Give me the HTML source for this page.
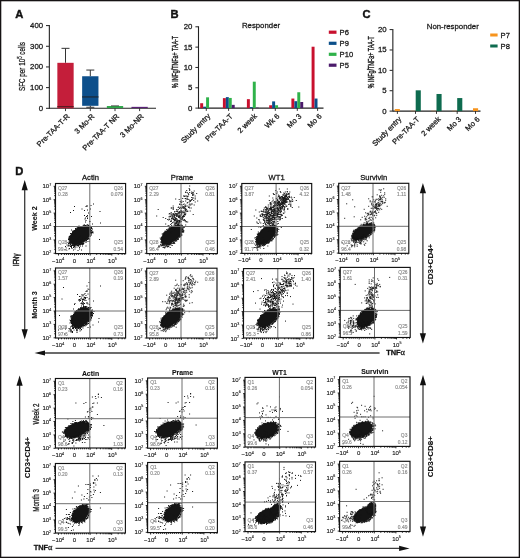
<!DOCTYPE html>
<html><head><meta charset="utf-8"><style>
html,body{margin:0;padding:0;background:#fff;}
svg{display:block;font-family:"Liberation Sans", sans-serif;will-change:transform;}
text{stroke:#1a1a1a;stroke-width:0.28px;}
.q text{stroke:#8a8a8a;stroke-width:0.15px}
text.t{stroke-width:0.12px}
text[font-weight=bold]{stroke-width:0.1px}
</style></head><body>
<svg width="520" height="558" viewBox="0 0 520 558">
<rect x="0" y="0" width="520" height="558" fill="#fff"/>
<text x="15.2" y="18.2" font-size="11.2" text-anchor="start" font-weight="bold" fill="#111" style="stroke-width:0.45px">A</text>
<line x1="49.35" y1="25.1" x2="49.35" y2="108.8" stroke="#222" stroke-width="1.1"/>
<line x1="46" y1="108.3" x2="49" y2="108.3" stroke="#222" stroke-width="1"/>
<text x="43.1" y="110.75" font-size="7.8" text-anchor="end" font-weight="normal" fill="#1a1a1a">0</text>
<line x1="46" y1="87.62" x2="49" y2="87.62" stroke="#222" stroke-width="1"/>
<text x="43.1" y="90.08" font-size="7.8" text-anchor="end" font-weight="normal" fill="#1a1a1a">100</text>
<line x1="46" y1="66.95" x2="49" y2="66.95" stroke="#222" stroke-width="1"/>
<text x="43.1" y="69.4" font-size="7.8" text-anchor="end" font-weight="normal" fill="#1a1a1a">200</text>
<line x1="46" y1="46.28" x2="49" y2="46.28" stroke="#222" stroke-width="1"/>
<text x="43.1" y="48.73" font-size="7.8" text-anchor="end" font-weight="normal" fill="#1a1a1a">300</text>
<line x1="46" y1="25.6" x2="49" y2="25.6" stroke="#222" stroke-width="1"/>
<text x="43.1" y="28.05" font-size="7.8" text-anchor="end" font-weight="normal" fill="#1a1a1a">400</text>
<line x1="49" y1="108.3" x2="156" y2="108.3" stroke="#222" stroke-width="1.1"/>
<line x1="65.5" y1="108.3" x2="65.5" y2="111.1" stroke="#222" stroke-width="0.9"/>
<line x1="90.3" y1="108.3" x2="90.3" y2="111.1" stroke="#222" stroke-width="0.9"/>
<line x1="115" y1="108.3" x2="115" y2="111.1" stroke="#222" stroke-width="0.9"/>
<line x1="139.6" y1="108.3" x2="139.6" y2="111.1" stroke="#222" stroke-width="0.9"/>
<line x1="65.5" y1="48.34" x2="65.5" y2="62.82" stroke="#333" stroke-width="1"/>
<line x1="61.5" y1="48.34" x2="69.5" y2="48.34" stroke="#333" stroke-width="1"/>
<rect x="57.35" y="62.82" width="16.3" height="45.48" fill="#c41e3a"/>
<line x1="57.35" y1="106.65" x2="73.65" y2="106.65" stroke="#5a1a22" stroke-width="1.2"/>
<line x1="90.3" y1="70.05" x2="90.3" y2="76.25" stroke="#333" stroke-width="1"/>
<line x1="86.3" y1="70.05" x2="94.3" y2="70.05" stroke="#333" stroke-width="1"/>
<rect x="82.15" y="76.25" width="16.3" height="29.57" fill="#0d4f8b"/>
<line x1="82.15" y1="96.93" x2="98.45" y2="96.93" stroke="#1c2b3a" stroke-width="1.3"/>
<line x1="90.3" y1="105.82" x2="90.3" y2="107.27" stroke="#333" stroke-width="1"/>
<line x1="86.3" y1="107.27" x2="94.3" y2="107.27" stroke="#333" stroke-width="1"/>
<rect x="106.85" y="106.03" width="16.3" height="2.07" fill="#2fa84a"/>
<line x1="111" y1="105.82" x2="119" y2="105.82" stroke="#333" stroke-width="0.8"/>
<rect x="131.45" y="106.85" width="16.3" height="1.24" fill="#5b2177"/>
<text transform="translate(25.2,90.9) rotate(-90) scale(0.64,1)" font-size="9.8" fill="#1a1a1a">SFC per 10<tspan font-size="7" dy="-3.4">5</tspan><tspan dy="3.4"> cells</tspan></text>
<text x="0" y="0" font-size="7.5" text-anchor="end" font-weight="normal" fill="#1a1a1a" transform="translate(70.1,116.9) rotate(-45)">Pre-TAA-T-R</text>
<text x="0" y="0" font-size="7.5" text-anchor="end" font-weight="normal" fill="#1a1a1a" transform="translate(94.9,116.9) rotate(-45)">3 Mo-R</text>
<text x="0" y="0" font-size="7.5" text-anchor="end" font-weight="normal" fill="#1a1a1a" transform="translate(119.6,116.9) rotate(-45)">Pre-TAA-T NR</text>
<text x="0" y="0" font-size="7.5" text-anchor="end" font-weight="normal" fill="#1a1a1a" transform="translate(144.2,116.9) rotate(-45)">3 Mo-NR</text>
<text x="170.4" y="18.2" font-size="11.2" text-anchor="start" font-weight="bold" fill="#111" style="stroke-width:0.45px">B</text>
<line x1="198.5" y1="26.3" x2="198.5" y2="108.6" stroke="#222" stroke-width="1.1"/>
<line x1="195.4" y1="108.1" x2="198.5" y2="108.1" stroke="#222" stroke-width="1"/>
<text x="192.4" y="110.55" font-size="7.8" text-anchor="end" font-weight="normal" fill="#1a1a1a">0</text>
<line x1="195.4" y1="87.78" x2="198.5" y2="87.78" stroke="#222" stroke-width="1"/>
<text x="192.4" y="90.23" font-size="7.8" text-anchor="end" font-weight="normal" fill="#1a1a1a">5</text>
<line x1="195.4" y1="67.45" x2="198.5" y2="67.45" stroke="#222" stroke-width="1"/>
<text x="192.4" y="69.9" font-size="7.8" text-anchor="end" font-weight="normal" fill="#1a1a1a">10</text>
<line x1="195.4" y1="47.12" x2="198.5" y2="47.12" stroke="#222" stroke-width="1"/>
<text x="192.4" y="49.58" font-size="7.8" text-anchor="end" font-weight="normal" fill="#1a1a1a">15</text>
<line x1="195.4" y1="26.8" x2="198.5" y2="26.8" stroke="#222" stroke-width="1"/>
<text x="192.4" y="29.25" font-size="7.8" text-anchor="end" font-weight="normal" fill="#1a1a1a">20</text>
<line x1="198.5" y1="108.1" x2="323.5" y2="108.1" stroke="#222" stroke-width="1.1"/>
<text x="261" y="28.4" font-size="7.8" text-anchor="middle" font-weight="normal" fill="#1a1a1a">Responder</text>
<rect x="328.8" y="30.6" width="7.7" height="3.2" fill="#c8102e"/>
<text x="339.6" y="34.9" font-size="7.6" text-anchor="start" font-weight="normal" fill="#1a1a1a">P6</text>
<rect x="328.8" y="41.7" width="7.7" height="3.2" fill="#0b4f8a"/>
<text x="339.6" y="46" font-size="7.6" text-anchor="start" font-weight="normal" fill="#1a1a1a">P9</text>
<rect x="328.8" y="52.7" width="7.7" height="3.2" fill="#2fb24a"/>
<text x="339.6" y="57" font-size="7.6" text-anchor="start" font-weight="normal" fill="#1a1a1a">P10</text>
<rect x="328.8" y="63.6" width="7.7" height="3.2" fill="#4b1b6b"/>
<text x="339.6" y="67.9" font-size="7.6" text-anchor="start" font-weight="normal" fill="#1a1a1a">P5</text>
<rect x="200.2" y="103.22" width="2.95" height="4.88" fill="#c8102e"/>
<rect x="203.15" y="106.68" width="2.95" height="1.42" fill="#0b4f8a"/>
<rect x="206.1" y="97.33" width="2.95" height="10.77" fill="#2fb24a"/>
<rect x="222.9" y="98.14" width="2.95" height="9.96" fill="#c8102e"/>
<rect x="225.85" y="97.12" width="2.95" height="10.98" fill="#0b4f8a"/>
<rect x="228.8" y="97.94" width="2.95" height="10.16" fill="#2fb24a"/>
<rect x="231.75" y="104.85" width="2.95" height="3.25" fill="#4b1b6b"/>
<rect x="246.9" y="99.16" width="2.95" height="8.94" fill="#c8102e"/>
<rect x="249.85" y="107.08" width="2.95" height="1.02" fill="#0b4f8a"/>
<rect x="252.8" y="81.68" width="2.95" height="26.42" fill="#2fb24a"/>
<rect x="255.75" y="107.61" width="2.95" height="0.49" fill="#4b1b6b"/>
<rect x="269.2" y="105.25" width="2.95" height="2.85" fill="#c8102e"/>
<rect x="272.15" y="101.39" width="2.95" height="6.71" fill="#0b4f8a"/>
<rect x="275.1" y="105.25" width="2.95" height="2.85" fill="#2fb24a"/>
<rect x="291.4" y="98.55" width="2.95" height="9.55" fill="#c8102e"/>
<rect x="294.35" y="101.19" width="2.95" height="6.91" fill="#0b4f8a"/>
<rect x="297.3" y="92.25" width="2.95" height="15.85" fill="#2fb24a"/>
<rect x="300.25" y="102" width="2.95" height="6.1" fill="#4b1b6b"/>
<rect x="311.6" y="46.72" width="2.95" height="61.38" fill="#c8102e"/>
<rect x="314.55" y="98.55" width="2.95" height="9.55" fill="#0b4f8a"/>
<line x1="206.3" y1="108.1" x2="206.3" y2="110.9" stroke="#222" stroke-width="0.9"/>
<line x1="228.6" y1="108.1" x2="228.6" y2="110.9" stroke="#222" stroke-width="0.9"/>
<line x1="252.7" y1="108.1" x2="252.7" y2="110.9" stroke="#222" stroke-width="0.9"/>
<line x1="275.3" y1="108.1" x2="275.3" y2="110.9" stroke="#222" stroke-width="0.9"/>
<line x1="297.3" y1="108.1" x2="297.3" y2="110.9" stroke="#222" stroke-width="0.9"/>
<line x1="317.6" y1="108.1" x2="317.6" y2="110.9" stroke="#222" stroke-width="0.9"/>
<text transform="translate(178.4,88) rotate(-90)" font-size="9.4" textLength="52" lengthAdjust="spacingAndGlyphs" style="stroke-width:0.4px" fill="#1a1a1a">% INFg/TNFa+ TAA-T</text>
<text x="0" y="0" font-size="7.5" text-anchor="end" font-weight="normal" fill="#1a1a1a" transform="translate(210.9,116.7) rotate(-45)">Study entry</text>
<text x="0" y="0" font-size="7.5" text-anchor="end" font-weight="normal" fill="#1a1a1a" transform="translate(233.2,116.7) rotate(-45)">Pre-TAA-T</text>
<text x="0" y="0" font-size="7.5" text-anchor="end" font-weight="normal" fill="#1a1a1a" transform="translate(257.3,116.7) rotate(-45)">2 week</text>
<text x="0" y="0" font-size="7.5" text-anchor="end" font-weight="normal" fill="#1a1a1a" transform="translate(279.9,116.7) rotate(-45)">Wk 6</text>
<text x="0" y="0" font-size="7.5" text-anchor="end" font-weight="normal" fill="#1a1a1a" transform="translate(301.9,116.7) rotate(-45)">Mo 3</text>
<text x="0" y="0" font-size="7.5" text-anchor="end" font-weight="normal" fill="#1a1a1a" transform="translate(322.2,116.7) rotate(-45)">Mo 6</text>
<text x="362.6" y="18.2" font-size="11.2" text-anchor="start" font-weight="bold" fill="#111" style="stroke-width:0.45px">C</text>
<line x1="392.85" y1="29.1" x2="392.85" y2="111.6" stroke="#222" stroke-width="1.1"/>
<line x1="389.6" y1="111.1" x2="392.7" y2="111.1" stroke="#222" stroke-width="1"/>
<text x="386.7" y="113.55" font-size="7.8" text-anchor="end" font-weight="normal" fill="#1a1a1a">0</text>
<line x1="389.6" y1="90.72" x2="392.7" y2="90.72" stroke="#222" stroke-width="1"/>
<text x="386.7" y="93.17" font-size="7.8" text-anchor="end" font-weight="normal" fill="#1a1a1a">5</text>
<line x1="389.6" y1="70.35" x2="392.7" y2="70.35" stroke="#222" stroke-width="1"/>
<text x="386.7" y="72.8" font-size="7.8" text-anchor="end" font-weight="normal" fill="#1a1a1a">10</text>
<line x1="389.6" y1="49.97" x2="392.7" y2="49.97" stroke="#222" stroke-width="1"/>
<text x="386.7" y="52.42" font-size="7.8" text-anchor="end" font-weight="normal" fill="#1a1a1a">15</text>
<line x1="389.6" y1="29.6" x2="392.7" y2="29.6" stroke="#222" stroke-width="1"/>
<text x="386.7" y="32.05" font-size="7.8" text-anchor="end" font-weight="normal" fill="#1a1a1a">20</text>
<line x1="392.7" y1="111.1" x2="480.5" y2="111.1" stroke="#222" stroke-width="1.1"/>
<text x="452.8" y="28.7" font-size="7.8" text-anchor="middle" font-weight="normal" fill="#1a1a1a">Non-responder</text>
<rect x="490.2" y="33.5" width="7.4" height="3" fill="#f7941d"/>
<text x="500.6" y="37.7" font-size="7.6" text-anchor="start" font-weight="normal" fill="#1a1a1a">P7</text>
<rect x="490.2" y="44.5" width="7.4" height="3" fill="#0e6b4f"/>
<text x="500.6" y="48.7" font-size="7.6" text-anchor="start" font-weight="normal" fill="#1a1a1a">P8</text>
<rect x="394.8" y="109.06" width="5.1" height="2.04" fill="#f7941d"/>
<rect x="410.6" y="110.86" width="5.1" height="0.24" fill="#f7941d"/>
<rect x="415.7" y="90.32" width="5.1" height="20.78" fill="#0e6b4f"/>
<rect x="431.3" y="110.86" width="5.1" height="0.24" fill="#f7941d"/>
<rect x="436.5" y="93.98" width="5.1" height="17.12" fill="#0e6b4f"/>
<rect x="452.1" y="110.86" width="5.1" height="0.24" fill="#f7941d"/>
<rect x="457.2" y="98.06" width="5.1" height="13.04" fill="#0e6b4f"/>
<rect x="473" y="108.25" width="5.1" height="2.85" fill="#f7941d"/>
<line x1="397.4" y1="111.1" x2="397.4" y2="113.9" stroke="#222" stroke-width="0.9"/>
<line x1="415.5" y1="111.1" x2="415.5" y2="113.9" stroke="#222" stroke-width="0.9"/>
<line x1="436.5" y1="111.1" x2="436.5" y2="113.9" stroke="#222" stroke-width="0.9"/>
<line x1="457.2" y1="111.1" x2="457.2" y2="113.9" stroke="#222" stroke-width="0.9"/>
<line x1="475.5" y1="111.1" x2="475.5" y2="113.9" stroke="#222" stroke-width="0.9"/>
<text transform="translate(373.5,88.2) rotate(-90)" font-size="9.4" textLength="52" lengthAdjust="spacingAndGlyphs" style="stroke-width:0.4px" fill="#1a1a1a">% INFg/TNFa+ TAA-T</text>
<text x="0" y="0" font-size="7.5" text-anchor="end" font-weight="normal" fill="#1a1a1a" transform="translate(402,119.7) rotate(-45)">Study entry</text>
<text x="0" y="0" font-size="7.5" text-anchor="end" font-weight="normal" fill="#1a1a1a" transform="translate(420.1,119.7) rotate(-45)">Pre-TAA-T</text>
<text x="0" y="0" font-size="7.5" text-anchor="end" font-weight="normal" fill="#1a1a1a" transform="translate(441.1,119.7) rotate(-45)">2 week</text>
<text x="0" y="0" font-size="7.5" text-anchor="end" font-weight="normal" fill="#1a1a1a" transform="translate(461.8,119.7) rotate(-45)">Mo 3</text>
<text x="0" y="0" font-size="7.5" text-anchor="end" font-weight="normal" fill="#1a1a1a" transform="translate(480.1,119.7) rotate(-45)">Mo 6</text>
<defs><g id="T11"><ellipse cx="24.5" cy="52" rx="12.2" ry="7.7" transform="rotate(-35 24.5 52)" fill="#151515"/><path d="M9 66h1M9.5 63h1M11 61.5h1M12 59h1M12 62.5h1M12.5 56h1M12.5 60h1M12.5 61.5h1M13 53.5h1M13 54.5h1M13 55h1M13 55.5h1M13 57.5h1M13 62h1M13 62.5h1M13 65.5h1M13.5 53h1M13.5 55h1M13.5 55.5h1M13.5 56h1M13.5 56.5h1M13.5 58.5h1M13.5 59h1M13.5 59.5h1M13.5 65h1M14 52.5h1M14 53h1M14 53.5h1M14 54h1M14 55h1M14 56h1M14 57.5h1M14 59h1M14 59.5h1M14 60h1M14 60.5h1M14.5 29h1M14.5 50h1M14.5 52.5h1M14.5 53h1M14.5 56.5h1M14.5 57.5h1M14.5 58.5h1M14.5 59h1M14.5 59.5h1M14.5 60.5h1M14.5 61h1M14.5 61.5h1M14.5 63h1M15 50.5h1M15 61.5h1M15.5 46.5h1M15.5 50.5h1M15.5 59.5h1M15.5 62h1M15.5 63h1M15.5 64h1M16 50h1M16 58h1M16 59.5h1M16 61.5h1M16 62h1M16 65h1M16.5 48.5h1M16.5 49h1M16.5 60.5h1M16.5 61.5h1M16.5 62h1M17 47.5h1M17 48h1M17 48.5h1M17 49h1M17 60h1M17 60.5h1M17.5 27h1M17.5 47.5h1M17.5 48h1M17.5 60.5h1M17.5 61.5h1M17.5 62h1M17.5 64h1M17.5 66.5h1M18 57.5h1M18 59h1M18 60h1M18 60.5h1M18 61.5h1M18 62h1M18 62.5h1M18 63h1M18 64h1M18.5 23h1M18.5 47h1M18.5 57h1M18.5 59.5h1M18.5 61h1M18.5 62h1M18.5 63h1M19 47h1M19 57h1M19 58h1M19 61h1M19 61.5h1M19 65.5h1M19.5 45h1M19.5 46.5h1M19.5 60.5h1M19.5 61h1M19.5 61.5h1M19.5 63.5h1M20 45.5h1M20 46h1M20 56.5h1M20 57.5h1M20 60.5h1M20 61h1M20 61.5h1M20 62h1M20.5 58h1M20.5 59.5h1M20.5 61h1M21 44.5h1M21 45h1M21 45.5h1M21 56h1M21 58.5h1M21 60h1M21 61h1M21 61.5h1M21 63.5h1M21.5 43.5h1M21.5 44.5h1M21.5 45h1M21.5 55.5h1M21.5 58h1M21.5 59h1M21.5 62h1M22 44.5h1M22 59.5h1M22 61h1M22 67h1M22.5 44h1M22.5 44.5h1M22.5 55.5h1M22.5 56.5h1M22.5 61.5h1M22.5 62h1M22.5 62.5h1M23 42.5h1M23 44h1M23 44.5h1M23 53h1M23 54h1M23 57.5h1M23 60.5h1M23 61h1M23 61.5h1M23 62.5h1M23.5 43h1M23.5 43.5h1M23.5 56h1M23.5 57h1M23.5 58h1M23.5 58.5h1M23.5 60.5h1M23.5 61h1M23.5 64h1M23.5 65.5h1M24 43h1M24 58.5h1M24 60.5h1M24 61h1M24.5 43h1M24.5 43.5h1M24.5 52.5h1M24.5 56.5h1M24.5 57.5h1M24.5 58h1M24.5 60.5h1M24.5 61h1M24.5 62.5h1M25 58.5h1M25 59h1M25 60h1M25.5 43.5h1M25.5 60h1M25.5 60.5h1M25.5 66.5h1M26 25.5h1M26 43h1M26 56h1M26 60h1M26 60.5h1M26 61h1M26.5 43h1M26.5 54.5h1M26.5 56.5h1M26.5 59.5h1M26.5 60h1M26.5 60.5h1M26.5 62.5h1M27 42.5h1M27 59.5h1M27 60h1M27 60.5h1M27 61h1M27.5 42.5h1M27.5 59.5h1M27.5 60h1M28 41.5h1M28 42h1M28 59.5h1M28.5 27h1M28.5 32h1M28.5 41.5h1M28.5 43h1M28.5 43.5h1M28.5 44.5h1M29 35.5h1M29 42h1M29 55h1M29 58h1M29.5 34.5h1M29.5 38.5h1M29.5 42h1M29.5 43h1M29.5 51h1M30 23h1M30 37h1M30 42h1M30 42.5h1M30 57h1M30 59h1M30 62.5h1M30.5 33h1M30.5 43h1M30.5 56.5h1M30.5 57h1M31 22h1M31 23h1M31 41.5h1M31 58h1M31.5 26.5h1M31.5 32h1M31.5 33.5h1M31.5 35h1M31.5 41.5h1M31.5 56h1M32 41.5h1M32 43h1M32 43.5h1M32 55h1M32.5 29.5h1M32.5 42h1M32.5 43h1M32.5 44h1M32.5 54.5h1M32.5 55h1M32.5 55.5h1M33 43h1M33 43.5h1M33 44h1M33 44.5h1M33 58h1M33.5 38h1M33.5 43h1M33.5 44.5h1M33.5 55.5h1M34 38h1M34 42.5h1M34 43.5h1M34 44h1M34 44.5h1M34 45h1M34 45.5h1M34 52.5h1M34 53h1M34.5 25.5h1M34.5 46h1M35 22h1M35 44.5h1M35 46.5h1M35 47h1M35 48.5h1M35 49h1M35 50.5h1M35 52h1M35.5 33h1M35.5 44h1M35.5 45h1M35.5 47h1M35.5 48.5h1M35.5 49h1M35.5 49.5h1M35.5 50.5h1M36 47.5h1M36.5 40.5h1M36.5 45.5h1M36.5 48.5h1M36.5 49h1M37 48.5h1M37 49.5h1M37.5 20.5h1M43.5 56h1M44 28h1M44.5 39.5h1" stroke="#151515" stroke-width="1"/></g><g id="T12"><ellipse cx="25" cy="51.5" rx="12.2" ry="6.8" transform="rotate(-38 25 51.5)" fill="#151515"/><path d="M9.5 32.5h1M11 26h1M11.5 62.5h1M11.5 63.5h1M12 63.5h1M12.5 62.5h1M13 54.5h1M13.5 55.5h1M13.5 58.5h1M13.5 61h1M14 55.5h1M14 56h1M14 59.5h1M14 61.5h1M14 62h1M14 62.5h1M14.5 53.5h1M14.5 54h1M14.5 54.5h1M14.5 55h1M14.5 56h1M14.5 57h1M14.5 57.5h1M14.5 58h1M14.5 59h1M15 50.5h1M15 54h1M15 56h1M15 58.5h1M15 59h1M15 59.5h1M15 61.5h1M15.5 51.5h1M15.5 54h1M15.5 58h1M15.5 58.5h1M15.5 59.5h1M15.5 60h1M15.5 60.5h1M15.5 61h1M15.5 61.5h1M15.5 62h1M16 34h1M16 50h1M16 50.5h1M16 51.5h1M16 52h1M16 59.5h1M16 61.5h1M16 63.5h1M16 64h1M16.5 49.5h1M16.5 51h1M16.5 51.5h1M16.5 59.5h1M16.5 60h1M16.5 60.5h1M16.5 61h1M16.5 61.5h1M17 49.5h1M17 50.5h1M17 60h1M17 61.5h1M17 62h1M17 64h1M17.5 48.5h1M17.5 49h1M17.5 59h1M17.5 60h1M17.5 61h1M17.5 63.5h1M17.5 64.5h1M18 47.5h1M18 48.5h1M18 57.5h1M18 60h1M18 60.5h1M18.5 35h1M18.5 40.5h1M18.5 48h1M18.5 61h1M18.5 62.5h1M18.5 63.5h1M19 48h1M19 57.5h1M19 59h1M19 62h1M19 62.5h1M19.5 46h1M19.5 60.5h1M19.5 61h1M19.5 61.5h1M20 47h1M20 58h1M20 60h1M20 60.5h1M20 61.5h1M20 63h1M20.5 36h1M20.5 46.5h1M20.5 61h1M20.5 62.5h1M20.5 63.5h1M21 42h1M21 45.5h1M21 60.5h1M21 61h1M21 62.5h1M21 63h1M21.5 36.5h1M21.5 60h1M21.5 60.5h1M21.5 61h1M21.5 61.5h1M21.5 63h1M22 30.5h1M22 33h1M22 34.5h1M22 42.5h1M22 44.5h1M22 45h1M22 60.5h1M22.5 30h1M22.5 36h1M22.5 44.5h1M22.5 60h1M22.5 60.5h1M22.5 61h1M22.5 61.5h1M23 32.5h1M23 44h1M23 44.5h1M23 45h1M23 60h1M23 61h1M23 64h1M23.5 30.5h1M23.5 33h1M23.5 38h1M23.5 41h1M23.5 49.5h1M23.5 50h1M23.5 59h1M23.5 59.5h1M23.5 60h1M24 24.5h1M24 29h1M24 33.5h1M24 37h1M24 38h1M24 44.5h1M24 45h1M24 48.5h1M24 49h1M24 57.5h1M24 60h1M24 61.5h1M24.5 24.5h1M24.5 30.5h1M24.5 31.5h1M24.5 35h1M24.5 35.5h1M24.5 40h1M24.5 42h1M24.5 43h1M24.5 43.5h1M24.5 44h1M24.5 48h1M24.5 56h1M24.5 59.5h1M25 32h1M25 35h1M25 43h1M25 43.5h1M25 44h1M25 62h1M25.5 33h1M25.5 34h1M25.5 39h1M25.5 43.5h1M25.5 60h1M26 22.5h1M26 24h1M26 25h1M26 26h1M26 30h1M26 30.5h1M26 31h1M26 31.5h1M26 35h1M26 36h1M26 43.5h1M26 59h1M26.5 32.5h1M26.5 34.5h1M26.5 36h1M26.5 38.5h1M26.5 42.5h1M26.5 43h1M26.5 43.5h1M26.5 58.5h1M26.5 59.5h1M26.5 60h1M27 31h1M27 33h1M27 36h1M27 36.5h1M27 40.5h1M27 43h1M27 58.5h1M27 59h1M27.5 28h1M27.5 29.5h1M27.5 31.5h1M27.5 32h1M27.5 32.5h1M27.5 34h1M27.5 36.5h1M27.5 37h1M27.5 37.5h1M27.5 39.5h1M27.5 41.5h1M27.5 42.5h1M27.5 46.5h1M27.5 60h1M28 31.5h1M28 34.5h1M28 35h1M28 36h1M28 37h1M28 39.5h1M28 41h1M28 58h1M28.5 15.5h1M28.5 30h1M28.5 34.5h1M28.5 35.5h1M28.5 36.5h1M28.5 40h1M28.5 42h1M28.5 42.5h1M28.5 43h1M28.5 57h1M29 28h1M29 30h1M29 31h1M29 31.5h1M29 35.5h1M29 38h1M29 39h1M29 39.5h1M29 40h1M29 42h1M29 42.5h1M29 57h1M29.5 26h1M29.5 27.5h1M29.5 32h1M29.5 33h1M29.5 35h1M29.5 36.5h1M29.5 37.5h1M29.5 39h1M29.5 40.5h1M29.5 56.5h1M29.5 57.5h1M30 30h1M30 31h1M30 31.5h1M30 32.5h1M30 36.5h1M30 37.5h1M30 38h1M30 41.5h1M30 42h1M30 55.5h1M30 56h1M30.5 27.5h1M30.5 28h1M30.5 32.5h1M30.5 36.5h1M30.5 38h1M30.5 38.5h1M30.5 39.5h1M30.5 41h1M30.5 42h1M30.5 42.5h1M30.5 43.5h1M30.5 55.5h1M31 24h1M31 26h1M31 29h1M31 30h1M31 37h1M31 39h1M31 40h1M31 40.5h1M31 41.5h1M31 55h1M31 55.5h1M31 56h1M31.5 23.5h1M31.5 31.5h1M31.5 32.5h1M31.5 33h1M31.5 34h1M31.5 37.5h1M31.5 41h1M31.5 41.5h1M31.5 42h1M31.5 42.5h1M32 16h1M32 28.5h1M32 29h1M32 30h1M32 32.5h1M32 33.5h1M32 34h1M32 37h1M32 38h1M32 39.5h1M32 41.5h1M32 42h1M32 42.5h1M32 46h1M32 54h1M32.5 20.5h1M32.5 21h1M32.5 24.5h1M32.5 25h1M32.5 28h1M32.5 29h1M32.5 31.5h1M32.5 32.5h1M32.5 33.5h1M32.5 37h1M32.5 37.5h1M32.5 38h1M32.5 38.5h1M32.5 39.5h1M32.5 53h1M33 18h1M33 32.5h1M33 33h1M33 35h1M33 35.5h1M33 38.5h1M33 42.5h1M33 43h1M33 53h1M33 53.5h1M33.5 18.5h1M33.5 24h1M33.5 27.5h1M33.5 28.5h1M33.5 29h1M33.5 31.5h1M33.5 34.5h1M33.5 36.5h1M33.5 41.5h1M33.5 42.5h1M33.5 51.5h1M33.5 52h1M33.5 53h1M34 21h1M34 27h1M34 28.5h1M34 34h1M34 34.5h1M34 38h1M34 43h1M34 44h1M34 50.5h1M34.5 17.5h1M34.5 19h1M34.5 25h1M34.5 28h1M34.5 28.5h1M34.5 29h1M34.5 30h1M34.5 30.5h1M34.5 31.5h1M34.5 36h1M34.5 41.5h1M34.5 42h1M34.5 42.5h1M34.5 43h1M34.5 45.5h1M34.5 49.5h1M34.5 51h1M34.5 51.5h1M34.5 52h1M35 22.5h1M35 24h1M35 35h1M35 35.5h1M35 42h1M35 43.5h1M35 45.5h1M35 46h1M35 46.5h1M35 47h1M35 48h1M35 48.5h1M35.5 15h1M35.5 28.5h1M35.5 33h1M35.5 34h1M35.5 35.5h1M35.5 43h1M35.5 44.5h1M35.5 45.5h1M35.5 46h1M35.5 48h1M35.5 48.5h1M36 18h1M36 21h1M36 23h1M36 23.5h1M36 24.5h1M36 27.5h1M36 29h1M36 32.5h1M36 33h1M36 33.5h1M36 37h1M36 44h1M36 45.5h1M36 48h1M36 48.5h1M36.5 12.5h1M36.5 24.5h1M36.5 32h1M36.5 33h1M36.5 47h1M36.5 47.5h1M36.5 48.5h1M37 12.5h1M37 20.5h1M37 23.5h1M37 24h1M37 25h1M37 28.5h1M37 29h1M37 30h1M37 31h1M37 32.5h1M37 33h1M37 36h1M37 36.5h1M37 44h1M37.5 13h1M37.5 22.5h1M37.5 31h1M37.5 36.5h1M38 15h1M38 24.5h1M38 26h1M38 26.5h1M38 27.5h1M38 31h1M38 31.5h1M38 37h1M38 37.5h1M38.5 8.5h1M38.5 9h1M38.5 12.5h1M38.5 15h1M38.5 17.5h1M38.5 21.5h1M38.5 22.5h1M38.5 23h1M38.5 25h1M38.5 27h1M38.5 29.5h1M38.5 30.5h1M38.5 41.5h1M39 15.5h1M39 26h1M39 28h1M39 38h1M39 38.5h1M39.5 7h1M39.5 12.5h1M39.5 26.5h1M40 9h1M40 13.5h1M40 15.5h1M40 19.5h1M40 22.5h1M40.5 13h1M40.5 15.5h1M40.5 19h1M40.5 27.5h1M40.5 28h1M40.5 38.5h1M41 10h1M41 12.5h1M41 16h1M41.5 11h1M41.5 23.5h1M41.5 24h1M42 5h1M42 18.5h1M42 21.5h1M42 23.5h1M42.5 2.5h1M42.5 6h1M42.5 7h1M42.5 9h1M42.5 16.5h1M42.5 20.5h1M42.5 24.5h1M43 17h1M43 17.5h1M43 18h1M43 27.5h1M43.5 21.5h1M44 17h1M44 20.5h1M44 24.5h1M44.5 8.5h1M44.5 10h1M44.5 14h1M44.5 16h1M45 9.5h1M45 16h1M45 20.5h1M45.5 9.5h1M45.5 11h1M45.5 12h1M45.5 14.5h1M46 9h1M46 14.5h1M46 31h1M46.5 10.5h1M46.5 11.5h1M46.5 17h1M47 7.5h1M47 21.5h1M48 12.5h1M48 14.5h1M48 15.5h1M48 18.5h1M49.5 10h1M50.5 17.5h1" stroke="#151515" stroke-width="1"/></g><g id="T13"><ellipse cx="24.5" cy="51.5" rx="12.2" ry="6.8" transform="rotate(-42 24.5 51.5)" fill="#151515"/><path d="M9 46h1M12 32.5h1M12 64h1M12.5 54.5h1M12.5 60.5h1M13.5 26.5h1M13.5 54h1M13.5 56h1M13.5 58h1M13.5 58.5h1M13.5 62h1M13.5 64h1M14 55h1M14 56.5h1M14 57.5h1M14 58.5h1M14 61h1M14.5 34.5h1M14.5 38.5h1M14.5 53h1M14.5 54.5h1M14.5 55.5h1M14.5 56h1M14.5 56.5h1M14.5 57h1M14.5 58.5h1M14.5 59h1M14.5 60h1M14.5 60.5h1M14.5 63.5h1M14.5 64.5h1M15 39.5h1M15 50.5h1M15 53h1M15 53.5h1M15 54h1M15 54.5h1M15 55.5h1M15 58.5h1M15 59h1M15 59.5h1M15 60.5h1M15 62h1M15 64.5h1M15 66.5h1M15.5 51h1M15.5 51.5h1M15.5 53h1M15.5 58.5h1M15.5 59.5h1M15.5 60.5h1M15.5 61h1M15.5 61.5h1M15.5 63h1M15.5 64h1M15.5 66.5h1M16 40h1M16 48.5h1M16 50.5h1M16 51h1M16 51.5h1M16 59.5h1M16 60h1M16 60.5h1M16 63.5h1M16.5 36h1M16.5 43.5h1M16.5 49.5h1M16.5 50h1M16.5 50.5h1M16.5 61h1M16.5 61.5h1M16.5 63.5h1M17 28.5h1M17 36.5h1M17 58.5h1M17 60h1M17 60.5h1M17 61h1M17 61.5h1M17 62.5h1M17 63h1M17 63.5h1M17.5 38.5h1M17.5 50h1M17.5 57.5h1M17.5 59.5h1M17.5 61h1M17.5 61.5h1M17.5 62h1M18 31.5h1M18 32h1M18 33h1M18 43h1M18 49h1M18 62h1M18 64.5h1M18.5 39.5h1M18.5 44h1M18.5 47.5h1M18.5 48.5h1M18.5 61h1M18.5 63h1M19 27.5h1M19 28h1M19 46.5h1M19 48h1M19 58h1M19.5 30.5h1M19.5 33h1M19.5 47h1M19.5 59.5h1M19.5 60.5h1M19.5 61.5h1M20 30.5h1M20 31h1M20 31.5h1M20 46h1M20 60.5h1M20 62h1M20.5 28h1M20.5 30.5h1M20.5 32h1M20.5 32.5h1M20.5 46h1M20.5 57h1M20.5 60.5h1M20.5 62h1M21 27.5h1M21 28.5h1M21 31h1M21 34h1M21 36h1M21 40h1M21 42h1M21 45.5h1M21 54h1M21 58.5h1M21 59h1M21 61h1M21 61.5h1M21 62.5h1M21.5 26h1M21.5 27.5h1M21.5 35.5h1M21.5 37h1M21.5 44.5h1M21.5 45h1M21.5 45.5h1M21.5 56h1M21.5 57.5h1M21.5 58.5h1M21.5 60h1M21.5 60.5h1M21.5 61h1M21.5 65h1M22 24.5h1M22 28.5h1M22 32.5h1M22 36.5h1M22 44h1M22 45.5h1M22 56.5h1M22 60h1M22 61h1M22 62h1M22.5 31h1M22.5 31.5h1M22.5 32.5h1M22.5 33.5h1M22.5 35h1M22.5 37h1M22.5 38h1M22.5 38.5h1M22.5 39h1M22.5 43h1M22.5 61.5h1M23 24h1M23 26.5h1M23 29h1M23 31h1M23 40h1M23 40.5h1M23 44h1M23 44.5h1M23 59.5h1M23 60.5h1M23 61h1M23.5 23h1M23.5 26h1M23.5 28h1M23.5 29.5h1M23.5 33h1M23.5 33.5h1M23.5 34.5h1M23.5 41h1M23.5 41.5h1M23.5 58.5h1M23.5 60.5h1M24 24h1M24 24.5h1M24 26.5h1M24 27.5h1M24 31.5h1M24 32.5h1M24 34h1M24 35h1M24 35.5h1M24 36.5h1M24 43h1M24 43.5h1M24 59.5h1M24 60h1M24.5 25h1M24.5 26h1M24.5 27.5h1M24.5 29h1M24.5 29.5h1M24.5 30.5h1M24.5 31h1M24.5 31.5h1M24.5 32h1M24.5 33h1M24.5 37h1M24.5 37.5h1M24.5 38.5h1M24.5 39h1M24.5 41.5h1M24.5 43h1M24.5 43.5h1M24.5 46h1M24.5 59h1M24.5 60h1M25 24.5h1M25 25h1M25 30h1M25 31h1M25 34h1M25 37h1M25 39.5h1M25 42.5h1M25 43h1M25 43.5h1M25 57h1M25 59.5h1M25.5 26h1M25.5 28h1M25.5 29h1M25.5 30h1M25.5 32h1M25.5 35h1M25.5 36.5h1M25.5 37.5h1M25.5 40h1M25.5 43h1M25.5 58.5h1M25.5 59h1M25.5 59.5h1M25.5 62.5h1M26 21.5h1M26 23.5h1M26 27h1M26 27.5h1M26 28.5h1M26 30h1M26 30.5h1M26 32.5h1M26 33.5h1M26 34.5h1M26 35h1M26 36h1M26 37h1M26 39h1M26 39.5h1M26 43h1M26 48h1M26 58.5h1M26 59.5h1M26.5 25.5h1M26.5 27.5h1M26.5 29.5h1M26.5 30h1M26.5 33h1M26.5 36.5h1M26.5 38h1M26.5 40h1M26.5 41.5h1M26.5 43h1M26.5 45.5h1M26.5 58.5h1M26.5 59h1M26.5 59.5h1M27 12.5h1M27 17h1M27 25h1M27 25.5h1M27 26.5h1M27 29h1M27 29.5h1M27 31.5h1M27 33h1M27 34h1M27 35h1M27 36h1M27 36.5h1M27 37h1M27 37.5h1M27 38h1M27 39.5h1M27 40h1M27 41h1M27 47.5h1M27 58h1M27 58.5h1M27.5 29h1M27.5 31h1M27.5 33h1M27.5 33.5h1M27.5 39h1M27.5 42.5h1M27.5 44.5h1M27.5 57.5h1M28 19h1M28 19.5h1M28 20h1M28 21h1M28 22.5h1M28 24.5h1M28 25h1M28 25.5h1M28 26.5h1M28 31h1M28 31.5h1M28 32h1M28 32.5h1M28 36h1M28 42h1M28 57h1M28 57.5h1M28.5 23.5h1M28.5 24h1M28.5 24.5h1M28.5 25h1M28.5 26h1M28.5 31.5h1M28.5 34.5h1M28.5 35h1M28.5 35.5h1M28.5 37h1M28.5 38h1M28.5 39.5h1M28.5 40h1M28.5 42h1M28.5 44h1M29 20.5h1M29 22.5h1M29 25h1M29 25.5h1M29 26h1M29 26.5h1M29 28h1M29 28.5h1M29 29h1M29 29.5h1M29 30h1M29 30.5h1M29 35h1M29 36.5h1M29 37h1M29 39h1M29 40.5h1M29 47.5h1M29 56.5h1M29.5 18.5h1M29.5 20.5h1M29.5 24h1M29.5 25.5h1M29.5 26h1M29.5 27h1M29.5 28h1M29.5 28.5h1M29.5 30h1M29.5 32h1M29.5 32.5h1M29.5 33.5h1M29.5 36.5h1M29.5 39h1M29.5 56.5h1M29.5 57h1M29.5 57.5h1M30 24h1M30 28h1M30 32h1M30 32.5h1M30 33.5h1M30 34.5h1M30 35.5h1M30 36h1M30 40h1M30 42h1M30 56h1M30.5 14.5h1M30.5 17.5h1M30.5 23.5h1M30.5 26.5h1M30.5 27h1M30.5 30h1M30.5 33.5h1M30.5 34h1M30.5 35.5h1M30.5 37.5h1M30.5 38h1M30.5 41h1M30.5 41.5h1M30.5 55h1M31 10h1M31 16.5h1M31 22.5h1M31 23.5h1M31 25.5h1M31 26h1M31 28h1M31 29h1M31 30.5h1M31 31h1M31 32h1M31 32.5h1M31 34h1M31 36h1M31 39h1M31 40h1M31 41h1M31 41.5h1M31 47.5h1M31 55h1M31 55.5h1M31.5 11h1M31.5 19.5h1M31.5 22h1M31.5 23.5h1M31.5 24h1M31.5 26.5h1M31.5 27.5h1M31.5 28h1M31.5 30.5h1M31.5 31h1M31.5 32h1M31.5 33h1M31.5 34h1M31.5 38h1M31.5 42.5h1M32 11h1M32 18.5h1M32 19.5h1M32 23h1M32 25h1M32 26h1M32 27h1M32 29h1M32 31.5h1M32 32h1M32 34h1M32 34.5h1M32 35h1M32 35.5h1M32 37.5h1M32 38h1M32 42h1M32 53.5h1M32 54h1M32.5 18h1M32.5 21h1M32.5 22h1M32.5 26h1M32.5 27h1M32.5 28h1M32.5 30h1M32.5 30.5h1M32.5 32.5h1M32.5 34.5h1M32.5 36h1M32.5 39h1M32.5 40.5h1M32.5 42h1M32.5 42.5h1M32.5 52h1M32.5 52.5h1M32.5 53h1M33 19h1M33 19.5h1M33 20h1M33 21.5h1M33 22.5h1M33 24.5h1M33 26.5h1M33 27h1M33 28h1M33 29.5h1M33 30h1M33 30.5h1M33 32h1M33 34h1M33 35.5h1M33 43h1M33 43.5h1M33 51.5h1M33 52h1M33 52.5h1M33.5 7h1M33.5 18h1M33.5 19h1M33.5 22h1M33.5 25h1M33.5 26.5h1M33.5 28.5h1M33.5 29h1M33.5 29.5h1M33.5 30h1M33.5 30.5h1M33.5 31.5h1M33.5 32h1M33.5 42h1M33.5 44h1M33.5 50.5h1M33.5 51h1M33.5 51.5h1M34 15h1M34 21h1M34 22.5h1M34 25h1M34 27.5h1M34 28h1M34 28.5h1M34 30h1M34 32h1M34 34h1M34 43h1M34 45h1M34 45.5h1M34 48.5h1M34 49h1M34 49.5h1M34 50h1M34 51h1M34 51.5h1M34.5 10h1M34.5 18.5h1M34.5 20h1M34.5 21h1M34.5 21.5h1M34.5 24.5h1M34.5 25h1M34.5 27.5h1M34.5 30h1M34.5 31h1M34.5 31.5h1M34.5 33.5h1M34.5 36h1M34.5 45.5h1M34.5 46h1M34.5 46.5h1M34.5 47h1M34.5 48.5h1M34.5 49h1M34.5 50.5h1M34.5 51.5h1M34.5 52h1M35 8.5h1M35 16h1M35 17h1M35 17.5h1M35 19h1M35 20h1M35 22h1M35 22.5h1M35 24h1M35 24.5h1M35 25h1M35 26.5h1M35 28.5h1M35 30h1M35 30.5h1M35 31h1M35 32h1M35 33h1M35 40.5h1M35 45h1M35 45.5h1M35 46.5h1M35 47h1M35 47.5h1M35 49.5h1M35.5 14.5h1M35.5 16.5h1M35.5 19.5h1M35.5 21.5h1M35.5 22h1M35.5 25.5h1M35.5 26.5h1M35.5 28h1M35.5 28.5h1M35.5 30h1M35.5 31h1M35.5 31.5h1M35.5 33.5h1M35.5 35.5h1M35.5 38h1M35.5 43.5h1M35.5 45.5h1M35.5 48h1M35.5 51h1M36 11.5h1M36 13h1M36 17.5h1M36 18.5h1M36 19h1M36 20h1M36 21h1M36 23.5h1M36 25h1M36 26h1M36 26.5h1M36 27h1M36 28.5h1M36 33.5h1M36 40h1M36.5 12.5h1M36.5 18h1M36.5 18.5h1M36.5 19.5h1M36.5 21h1M36.5 21.5h1M36.5 26h1M36.5 29h1M36.5 29.5h1M36.5 30.5h1M36.5 31h1M36.5 33h1M36.5 35.5h1M36.5 46h1M37 5.5h1M37 12.5h1M37 13.5h1M37 15.5h1M37 18h1M37 18.5h1M37 19h1M37 19.5h1M37 20.5h1M37 21.5h1M37 22.5h1M37 23.5h1M37 24.5h1M37 27h1M37 31h1M37 34h1M37 35.5h1M37.5 13.5h1M37.5 14h1M37.5 14.5h1M37.5 15h1M37.5 19.5h1M37.5 21h1M37.5 22h1M37.5 22.5h1M37.5 24.5h1M37.5 28h1M37.5 33h1M37.5 36.5h1M38 8h1M38 14.5h1M38 15.5h1M38 17h1M38 20.5h1M38 22h1M38 24h1M38 24.5h1M38 25h1M38 25.5h1M38 26h1M38 26.5h1M38 27.5h1M38 29h1M38 31h1M38 34h1M38 36h1M38.5 9h1M38.5 14h1M38.5 15.5h1M38.5 19.5h1M38.5 20h1M38.5 20.5h1M38.5 21h1M38.5 22.5h1M38.5 23.5h1M38.5 24h1M38.5 25.5h1M38.5 28.5h1M38.5 30.5h1M38.5 33h1M38.5 35h1M39 13h1M39 13.5h1M39 16h1M39 17.5h1M39 18.5h1M39 21h1M39 25h1M39 26.5h1M39 27.5h1M39 28h1M39 31.5h1M39 32h1M39 44h1M39.5 15h1M39.5 17.5h1M39.5 18.5h1M39.5 19h1M39.5 20h1M39.5 21h1M39.5 23h1M39.5 23.5h1M39.5 31h1M40 13h1M40 13.5h1M40 14h1M40 16.5h1M40 17.5h1M40 19h1M40 19.5h1M40 20h1M40 20.5h1M40 21.5h1M40 23.5h1M40 24h1M40 24.5h1M40 25.5h1M40 32h1M40 35h1M40.5 11.5h1M40.5 14h1M40.5 15h1M40.5 15.5h1M40.5 16.5h1M40.5 17.5h1M40.5 19h1M40.5 19.5h1M40.5 20.5h1M40.5 22h1M40.5 23h1M40.5 24.5h1M41 11.5h1M41 14h1M41 15h1M41 15.5h1M41 16h1M41 16.5h1M41 18h1M41 18.5h1M41 19h1M41 19.5h1M41 20.5h1M41 22h1M41 22.5h1M41 23h1M41 29.5h1M41.5 9.5h1M41.5 11.5h1M41.5 14h1M41.5 15.5h1M41.5 16.5h1M41.5 17h1M41.5 17.5h1M41.5 20h1M41.5 20.5h1M41.5 26.5h1M41.5 30h1M42 10.5h1M42 12.5h1M42 14h1M42 14.5h1M42 15h1M42 15.5h1M42 17.5h1M42 18h1M42 18.5h1M42 19.5h1M42 23.5h1M42 25h1M42 26h1M42 26.5h1M42.5 10h1M42.5 13h1M42.5 13.5h1M42.5 15h1M42.5 16h1M42.5 17h1M42.5 17.5h1M42.5 18h1M42.5 18.5h1M42.5 19.5h1M42.5 20h1M42.5 21h1M42.5 23h1M42.5 24h1M42.5 28.5h1M43 8.5h1M43 11.5h1M43 12h1M43 12.5h1M43 14h1M43 15h1M43 15.5h1M43 17h1M43 18h1M43 19h1M43 33.5h1M43.5 13h1M43.5 15.5h1M43.5 16h1M43.5 16.5h1M43.5 17.5h1M43.5 19h1M43.5 21.5h1M43.5 34h1M44 11h1M44 11.5h1M44 12h1M44 12.5h1M44 13h1M44 13.5h1M44 15h1M44 16h1M44 17.5h1M44 19h1M44 23h1M44.5 10h1M44.5 12.5h1M44.5 13h1M44.5 15.5h1M44.5 16h1M44.5 16.5h1M44.5 18h1M44.5 22.5h1M45 5.5h1M45 8h1M45 8.5h1M45 14h1M45 15.5h1M45 18.5h1M45.5 11h1M45.5 14h1M45.5 14.5h1M45.5 16h1M45.5 25h1M45.5 26h1M46 10.5h1M46 15h1M46 15.5h1M46.5 10h1M46.5 10.5h1M46.5 13h1M46.5 16h1M46.5 21h1M47 10.5h1M47 12.5h1M47 13h1M47 14h1M47 18.5h1M47 20.5h1M47.5 8.5h1M47.5 14h1M47.5 17h1M47.5 17.5h1M48 18h1M48.5 19.5h1M48.5 21h1M48.5 22h1M48.5 23h1M49 13.5h1M49 17.5h1M49.5 14.5h1M50 16h1M50 18h1M50 24h1M50.5 17.5h1M52 14h1M54 17h1M56.5 23.5h1" stroke="#151515" stroke-width="1"/></g><g id="T14"><ellipse cx="24.2" cy="48.6" rx="12.1" ry="5.9" transform="rotate(-32 24.2 48.6)" fill="#151515"/><path d="M3 59.5h1M5.5 35h1M7.5 20.5h1M8 62.5h1M10 60h1M12 55.5h1M12 61.5h1M12.5 52h1M12.5 53.5h1M12.5 56.5h1M12.5 57.5h1M12.5 62.5h1M12.5 63.5h1M13 52.5h1M13 53.5h1M13 54h1M13 55h1M13.5 16.5h1M13.5 50h1M13.5 51.5h1M13.5 52.5h1M13.5 54.5h1M13.5 55h1M13.5 57.5h1M13.5 62h1M13.5 62.5h1M14 48.5h1M14 50h1M14 50.5h1M14 51h1M14 53.5h1M14 54h1M14 54.5h1M14 55h1M14 56h1M14 56.5h1M14.5 47h1M14.5 48h1M14.5 48.5h1M14.5 55h1M14.5 56.5h1M14.5 57.5h1M14.5 58h1M14.5 59h1M15 33.5h1M15 48h1M15 48.5h1M15 49h1M15 50h1M15 55h1M15 57h1M15 58h1M15.5 23.5h1M15.5 47.5h1M15.5 49h1M15.5 49.5h1M15.5 55.5h1M15.5 56h1M15.5 56.5h1M15.5 60.5h1M15.5 61.5h1M15.5 62h1M15.5 63.5h1M16 46.5h1M16 47h1M16 56h1M16 57h1M16 59h1M16 59.5h1M16.5 46.5h1M16.5 47h1M16.5 55h1M16.5 55.5h1M16.5 56h1M16.5 56.5h1M16.5 57.5h1M16.5 59h1M17 46h1M17 47h1M17 56.5h1M17 57h1M17 57.5h1M17 58h1M17 58.5h1M17 59.5h1M17.5 46.5h1M17.5 53.5h1M17.5 56.5h1M18 45.5h1M18 46h1M18 55h1M18 55.5h1M18 59h1M18 61.5h1M18 63h1M18.5 45h1M19 44.5h1M19 55.5h1M19 56h1M19 56.5h1M19 57h1M19 59h1M19.5 44.5h1M19.5 57h1M20 44h1M20 44.5h1M20 57.5h1M20 58.5h1M20.5 43.5h1M20.5 44h1M20.5 56.5h1M20.5 60h1M21 42.5h1M21 43.5h1M21 56.5h1M21 58.5h1M21 59h1M21 59.5h1M21.5 36.5h1M21.5 43h1M21.5 54h1M21.5 55h1M21.5 56.5h1M21.5 57h1M21.5 59.5h1M21.5 60.5h1M22 41h1M22 42.5h1M22 43h1M22 56h1M22 57.5h1M22 60.5h1M22.5 43h1M22.5 54h1M22.5 56h1M22.5 57.5h1M22.5 58.5h1M23 34h1M23 54h1M23 55.5h1M23 56h1M23 57h1M23.5 52h1M23.5 54h1M23.5 55.5h1M24 41h1M24 41.5h1M24 42h1M24 42.5h1M24 55.5h1M24.5 41h1M24.5 41.5h1M24.5 42h1M24.5 55h1M24.5 56h1M24.5 58.5h1M25 26h1M25 39.5h1M25 41.5h1M25 51.5h1M25 54.5h1M25 56.5h1M25 61h1M25.5 33h1M25.5 55.5h1M25.5 62h1M26 35h1M26 36.5h1M26 41h1M26 54.5h1M26.5 29.5h1M26.5 35h1M26.5 36.5h1M26.5 53.5h1M26.5 54h1M26.5 54.5h1M26.5 56h1M26.5 60h1M27 39h1M27 40h1M27 53.5h1M27 54h1M27 55h1M27 56.5h1M27.5 33.5h1M27.5 36h1M27.5 38h1M27.5 40.5h1M27.5 41h1M27.5 41.5h1M27.5 42.5h1M27.5 53.5h1M27.5 54h1M27.5 54.5h1M28 30.5h1M28 40h1M28 40.5h1M28 41h1M28 53.5h1M28 57.5h1M28.5 30h1M28.5 32h1M28.5 39h1M28.5 40h1M28.5 40.5h1M28.5 41h1M28.5 52.5h1M28.5 53h1M29 38h1M29 52.5h1M29.5 15.5h1M29.5 23h1M29.5 30h1M29.5 31h1M29.5 31.5h1M29.5 35h1M29.5 41h1M29.5 52h1M29.5 53h1M30 37.5h1M30 52.5h1M30 54.5h1M30.5 34h1M30.5 35.5h1M30.5 40h1M30.5 40.5h1M30.5 41h1M30.5 52.5h1M31 17.5h1M31 18.5h1M31 28h1M31 29h1M31 31.5h1M31 40.5h1M31 51h1M31 51.5h1M31.5 28h1M31.5 31h1M31.5 36.5h1M31.5 40h1M31.5 40.5h1M31.5 50h1M31.5 50.5h1M31.5 51.5h1M32 25h1M32 31h1M32 34h1M32 37h1M32 39.5h1M32 40.5h1M32 49.5h1M32 51h1M32.5 20h1M32.5 21h1M32.5 29.5h1M32.5 30h1M32.5 39.5h1M32.5 40.5h1M32.5 41h1M32.5 49h1M32.5 49.5h1M33 13.5h1M33 18.5h1M33 22h1M33 25h1M33 28h1M33 31h1M33 48.5h1M33 50h1M33.5 13.5h1M33.5 29h1M33.5 30.5h1M33.5 32h1M33.5 35h1M33.5 41h1M33.5 42h1M33.5 47h1M33.5 47.5h1M33.5 48h1M33.5 48.5h1M34 23.5h1M34 29.5h1M34 36h1M34 40.5h1M34 41.5h1M34 42h1M34 47h1M34.5 16.5h1M34.5 21.5h1M34.5 23h1M34.5 25.5h1M34.5 39.5h1M34.5 41.5h1M34.5 43h1M34.5 44.5h1M34.5 47h1M35 18.5h1M35 29h1M35 32.5h1M35 41h1M35 41.5h1M35 42.5h1M35 43h1M35 43.5h1M35 44.5h1M35 45h1M35 46h1M35 46.5h1M35 47h1M35 48.5h1M35.5 24h1M35.5 28.5h1M35.5 32h1M35.5 42h1M35.5 42.5h1M35.5 43h1M35.5 43.5h1M35.5 44h1M35.5 46h1M35.5 47h1M36 18h1M36 19.5h1M36 22.5h1M36 23h1M36 24h1M36 24.5h1M36 25h1M36 28h1M36 28.5h1M36 44.5h1M36.5 17h1M36.5 21h1M36.5 21.5h1M36.5 27.5h1M36.5 29.5h1M36.5 34.5h1M37 16h1M37 21h1M37 22.5h1M37 23.5h1M37 24h1M37 25h1M37 30h1M37.5 20.5h1M37.5 21h1M37.5 22h1M37.5 24h1M37.5 25.5h1M37.5 26h1M37.5 30h1M37.5 32h1M38 11.5h1M38 16h1M38 20.5h1M38 25.5h1M38.5 23h1M38.5 25h1M38.5 27h1M39 19h1M39 19.5h1M39 21.5h1M39 25h1M39 25.5h1M39.5 15.5h1M39.5 17h1M39.5 21h1M39.5 22h1M39.5 23h1M39.5 25.5h1M39.5 29h1M40 6.5h1M40 20h1M40 22h1M40 22.5h1M40.5 12.5h1M40.5 13.5h1M40.5 16h1M40.5 16.5h1M40.5 21h1M40.5 22h1M40.5 23h1M40.5 26.5h1M41 13h1M41 14h1M41 18.5h1M41 22h1M41 25h1M41.5 7h1M41.5 9h1M41.5 14h1M41.5 15h1M41.5 16h1M41.5 16.5h1M41.5 20.5h1M42 6.5h1M42 15h1M42.5 12h1M42.5 18h1M42.5 18.5h1M42.5 21.5h1M42.5 26h1M43 16h1M43 18h1M43.5 14h1M43.5 18h1M43.5 19.5h1M43.5 20h1M44.5 5.5h1M44.5 12.5h1M45 14h1M45 19.5h1M45.5 9.5h1M45.5 11h1M45.5 19.5h1M46 19h1M46.5 15.5h1M46.5 17h1M48 23h1" stroke="#151515" stroke-width="1"/></g><g id="T21"><ellipse cx="25.6" cy="49.3" rx="11.7" ry="7.9" transform="rotate(-42 25.6 49.3)" fill="#151515"/><path d="M2.5 62h1M3.5 47.5h1M5 59h1M6 31h1M6 61h1M7.5 19.5h1M8.5 66h1M9.5 61h1M10 60h1M13 60.5h1M13 63h1M14 52h1M14 55h1M14 60.5h1M14 61.5h1M14.5 52.5h1M14.5 59h1M14.5 62h1M14.5 63h1M15 48h1M15 48.5h1M15 49h1M15 50h1M15 53h1M15 53.5h1M15 54.5h1M15 64h1M15.5 48h1M15.5 49h1M15.5 51h1M15.5 53.5h1M15.5 54h1M15.5 54.5h1M15.5 55h1M15.5 55.5h1M15.5 58h1M15.5 62h1M15.5 63h1M16 48h1M16 49.5h1M16 50.5h1M16 51h1M16 54h1M16 54.5h1M16 55.5h1M16 58.5h1M16 64h1M16.5 48h1M16.5 52h1M16.5 55.5h1M16.5 56.5h1M16.5 57.5h1M16.5 58h1M16.5 59h1M16.5 60.5h1M16.5 63.5h1M16.5 64.5h1M17 47.5h1M17 48h1M17 56h1M17 58h1M17 59.5h1M17.5 41h1M17.5 46.5h1M17.5 47.5h1M17.5 55h1M17.5 57.5h1M17.5 58h1M17.5 59.5h1M17.5 60.5h1M18 45h1M18 46.5h1M18 57.5h1M18 59h1M18 59.5h1M18 62h1M18.5 36.5h1M18.5 45h1M18.5 58h1M18.5 58.5h1M18.5 59h1M19 35.5h1M19 43.5h1M19 45h1M19 52.5h1M19 57.5h1M19 58h1M19 59h1M19.5 43.5h1M19.5 44h1M19.5 44.5h1M19.5 53.5h1M19.5 55.5h1M19.5 58.5h1M19.5 59h1M19.5 59.5h1M19.5 60.5h1M20 55h1M20 57h1M20 58h1M20 60h1M20.5 42.5h1M20.5 43h1M20.5 43.5h1M20.5 55h1M20.5 59.5h1M20.5 61h1M20.5 62h1M21 43h1M21 43.5h1M21 58h1M21 59h1M21 59.5h1M21 60h1M21 62h1M21 62.5h1M21 63h1M21 64.5h1M21.5 26.5h1M21.5 43h1M21.5 47h1M21.5 55.5h1M21.5 59h1M21.5 61h1M22 41.5h1M22 52h1M22 52.5h1M22 59h1M22 59.5h1M22 60h1M22.5 32h1M22.5 41h1M22.5 41.5h1M22.5 56.5h1M22.5 57.5h1M22.5 59.5h1M22.5 60.5h1M23 40.5h1M23 41.5h1M23 58.5h1M23 59h1M23 59.5h1M23 60h1M23.5 28.5h1M23.5 31.5h1M23.5 33h1M23.5 41.5h1M23.5 55.5h1M23.5 58h1M23.5 59h1M23.5 59.5h1M23.5 61h1M24 28.5h1M24 32.5h1M24 55h1M24 59h1M24 59.5h1M24 63h1M24.5 31h1M24.5 32.5h1M24.5 40h1M24.5 40.5h1M24.5 53.5h1M24.5 56h1M24.5 58h1M24.5 58.5h1M24.5 59h1M24.5 60.5h1M25 35.5h1M25 39.5h1M25 40h1M25 53h1M25 54.5h1M25 55h1M25 56.5h1M25 58h1M25 59.5h1M25 62h1M25.5 30h1M25.5 35h1M25.5 38h1M25.5 40h1M25.5 40.5h1M25.5 54h1M25.5 58.5h1M25.5 61.5h1M26 26.5h1M26 28h1M26 31h1M26 35.5h1M26 36h1M26 40h1M26 40.5h1M26 55h1M26 56h1M26 58.5h1M26 59h1M26.5 31.5h1M26.5 32h1M26.5 33.5h1M26.5 40h1M26.5 55.5h1M26.5 57h1M26.5 57.5h1M27 27.5h1M27 32h1M27 34.5h1M27 35.5h1M27 36.5h1M27 39.5h1M27 50.5h1M27 58h1M27 60h1M27.5 31.5h1M27.5 35h1M27.5 37h1M27.5 38h1M27.5 38.5h1M27.5 39.5h1M27.5 40.5h1M27.5 57.5h1M27.5 58h1M28 26.5h1M28 29h1M28 30.5h1M28 55.5h1M28 57h1M28.5 29.5h1M28.5 32h1M28.5 35.5h1M28.5 39h1M28.5 55h1M28.5 57.5h1M29 25.5h1M29 32h1M29 38.5h1M29 39h1M29 39.5h1M29 55.5h1M29 56h1M29 57.5h1M29 58h1M29.5 29.5h1M29.5 30.5h1M29.5 38.5h1M29.5 39.5h1M29.5 56.5h1M30 23.5h1M30 27.5h1M30 32.5h1M30 38.5h1M30 53.5h1M30 56h1M30.5 39h1M30.5 55.5h1M30.5 57h1M31 18h1M31 22.5h1M31 23.5h1M31 29.5h1M31 34.5h1M31 35.5h1M31 39h1M31 40h1M31 54.5h1M31 55h1M31 55.5h1M31 56h1M31 56.5h1M32 21h1M32 26h1M32 36h1M32 40h1M32 53.5h1M32 59.5h1M32.5 39.5h1M32.5 49.5h1M32.5 52.5h1M32.5 53.5h1M32.5 55.5h1M33 14.5h1M33 21.5h1M33 31h1M33 39.5h1M33 40.5h1M33 41h1M33 52.5h1M33 53h1M33 54h1M33.5 30.5h1M33.5 36.5h1M33.5 40h1M33.5 40.5h1M33.5 41h1M33.5 41.5h1M33.5 51h1M34 40h1M34 41h1M34 51h1M34 51.5h1M34 52h1M34 53h1M34.5 40h1M34.5 59h1M35 39.5h1M35 42h1M35 44h1M35 44.5h1M35 48h1M35 48.5h1M35 49.5h1M35 50.5h1M35 52h1M35.5 43h1M35.5 43.5h1M35.5 44.5h1M35.5 45.5h1M35.5 46h1M35.5 47h1M35.5 47.5h1M35.5 49.5h1M35.5 50h1M36 43h1M36 45.5h1M36 46.5h1M36 47h1M36 47.5h1M36.5 42h1M36.5 44h1M36.5 44.5h1M36.5 46h1M36.5 47.5h1M36.5 48h1M37 57h1M37.5 33h1M37.5 45.5h1M38 43.5h1M42.5 54h1M43 50.5h1M44.5 18h1" stroke="#151515" stroke-width="1"/></g><g id="T22"><ellipse cx="24.8" cy="49.7" rx="12.5" ry="6.7" transform="rotate(-39 24.8 49.7)" fill="#151515"/><path d="M7.5 62.5h1M11 61.5h1M12 60h1M12.5 53.5h1M13 54.5h1M13 60h1M13 60.5h1M13.5 54.5h1M13.5 56.5h1M13.5 57h1M13.5 57.5h1M14 50h1M14 51h1M14 52.5h1M14 53.5h1M14 56h1M14 62.5h1M14.5 52h1M14.5 52.5h1M14.5 53h1M14.5 53.5h1M14.5 54h1M14.5 54.5h1M14.5 55h1M14.5 55.5h1M14.5 56h1M14.5 57h1M14.5 57.5h1M14.5 58.5h1M15 51.5h1M15 52h1M15 53h1M15 57h1M15 57.5h1M15 58h1M15 58.5h1M15.5 33.5h1M15.5 49.5h1M15.5 50h1M15.5 50.5h1M15.5 51h1M15.5 51.5h1M15.5 57h1M15.5 58h1M15.5 59h1M15.5 62.5h1M16 49.5h1M16 50h1M16 58h1M16 59.5h1M16 61h1M16.5 48h1M16.5 49.5h1M16.5 53h1M16.5 58.5h1M16.5 59h1M16.5 59.5h1M16.5 61.5h1M16.5 63h1M17 48h1M17 48.5h1M17 57.5h1M17 58.5h1M17.5 47.5h1M17.5 58.5h1M17.5 61h1M17.5 62h1M18 33.5h1M18 55.5h1M18 56.5h1M18 57h1M18 58h1M18 59h1M18 60.5h1M18 61h1M18.5 44.5h1M18.5 46h1M18.5 57.5h1M18.5 58.5h1M18.5 59h1M18.5 59.5h1M18.5 60.5h1M18.5 63.5h1M19 41.5h1M19 45.5h1M19 46h1M19 59.5h1M19 62.5h1M19.5 27h1M19.5 35h1M19.5 40h1M19.5 45h1M19.5 55h1M19.5 58.5h1M19.5 59h1M19.5 60.5h1M20 35h1M20 45h1M20 45.5h1M20 52.5h1M20 58.5h1M20 61h1M20.5 33h1M20.5 39h1M20.5 44.5h1M20.5 45h1M20.5 59h1M20.5 59.5h1M20.5 60h1M20.5 60.5h1M21 31h1M21 40h1M21 44.5h1M21 58h1M21 58.5h1M21 59.5h1M21.5 32h1M21.5 44h1M21.5 58.5h1M21.5 59.5h1M22 29h1M22 30h1M22 32h1M22 33.5h1M22 35.5h1M22 43.5h1M22 56.5h1M22 59h1M22 59.5h1M22 61h1M22.5 26h1M22.5 28.5h1M22.5 33h1M22.5 34h1M22.5 41h1M22.5 42h1M22.5 42.5h1M22.5 43h1M22.5 43.5h1M22.5 57.5h1M22.5 58.5h1M23 25h1M23 30h1M23 39h1M23 40h1M23 43h1M23 58h1M23 58.5h1M23 59.5h1M23.5 27h1M23.5 32.5h1M23.5 39.5h1M23.5 56.5h1M23.5 57h1M23.5 57.5h1M24 24h1M24 32h1M24 42h1M24 42.5h1M24 58h1M24.5 23h1M24.5 25h1M24.5 26h1M24.5 27h1M24.5 28.5h1M24.5 35.5h1M24.5 36h1M24.5 37h1M24.5 56h1M24.5 59h1M25 27.5h1M25 28h1M25 32.5h1M25 33.5h1M25 35h1M25 36h1M25 43.5h1M25 57.5h1M25.5 25h1M25.5 27.5h1M25.5 35.5h1M25.5 41h1M25.5 41.5h1M25.5 57.5h1M25.5 58h1M26 29h1M26 30h1M26 32h1M26 33h1M26 36.5h1M26 38.5h1M26 40.5h1M26.5 25h1M26.5 28h1M26.5 32.5h1M26.5 38.5h1M26.5 41.5h1M26.5 57h1M26.5 57.5h1M27 20h1M27 24h1M27 28h1M27 37h1M27 41h1M27 41.5h1M27 53.5h1M27 57h1M27 58h1M27.5 26.5h1M27.5 27h1M27.5 28h1M27.5 29.5h1M27.5 31.5h1M27.5 33.5h1M27.5 35h1M27.5 41h1M27.5 46h1M27.5 56h1M27.5 56.5h1M28 17.5h1M28 25h1M28 29.5h1M28 30.5h1M28 32.5h1M28 34h1M28 35.5h1M28 37.5h1M28 39.5h1M28 40h1M28 41h1M28 55.5h1M28 56h1M28.5 12h1M28.5 21.5h1M28.5 22h1M28.5 26.5h1M28.5 27h1M28.5 29h1M28.5 31h1M28.5 32h1M28.5 33h1M28.5 34.5h1M28.5 35h1M28.5 35.5h1M28.5 36h1M28.5 37.5h1M28.5 40.5h1M28.5 43.5h1M28.5 55h1M28.5 55.5h1M28.5 56h1M29 21h1M29 22h1M29 24.5h1M29 30h1M29 30.5h1M29 31h1M29 31.5h1M29 32h1M29 34.5h1M29 36.5h1M29 37h1M29 40h1M29 40.5h1M29 41h1M29 54.5h1M29 56h1M29 59h1M29.5 17h1M29.5 22h1M29.5 22.5h1M29.5 23.5h1M29.5 25.5h1M29.5 27h1M29.5 28h1M29.5 28.5h1M29.5 29.5h1M29.5 31h1M29.5 35h1M29.5 38h1M29.5 40.5h1M29.5 43h1M29.5 54.5h1M30 16h1M30 26h1M30 26.5h1M30 30h1M30 31h1M30 32h1M30 32.5h1M30 34h1M30 34.5h1M30 37h1M30 38h1M30 40h1M30 40.5h1M30 54h1M30 55h1M30.5 20h1M30.5 23.5h1M30.5 24h1M30.5 25h1M30.5 27h1M30.5 27.5h1M30.5 33.5h1M30.5 34h1M30.5 35.5h1M30.5 40h1M30.5 42.5h1M30.5 53h1M31 23.5h1M31 25h1M31 31h1M31 32h1M31 34h1M31 40h1M31 40.5h1M31 46h1M31 53h1M31 53.5h1M31.5 17.5h1M31.5 24.5h1M31.5 25h1M31.5 30h1M31.5 31h1M31.5 31.5h1M31.5 33h1M31.5 34.5h1M31.5 37.5h1M31.5 40h1M31.5 40.5h1M31.5 52.5h1M31.5 53.5h1M32 20h1M32 22h1M32 22.5h1M32 23h1M32 25h1M32 26.5h1M32 27h1M32 30.5h1M32 32h1M32 32.5h1M32 37h1M32 40h1M32 51.5h1M32 52h1M32.5 21h1M32.5 21.5h1M32.5 26h1M32.5 30h1M32.5 30.5h1M32.5 31h1M32.5 32h1M32.5 34h1M32.5 39.5h1M32.5 40.5h1M32.5 45h1M32.5 51h1M32.5 52.5h1M33 26h1M33 28h1M33 28.5h1M33 30h1M33 32.5h1M33 33.5h1M33 36h1M33 40h1M33 40.5h1M33 41h1M33 51h1M33.5 22.5h1M33.5 26.5h1M33.5 27.5h1M33.5 32h1M33.5 36h1M33.5 41h1M33.5 41.5h1M33.5 49.5h1M33.5 50.5h1M33.5 51h1M33.5 51.5h1M34 16.5h1M34 27.5h1M34 29h1M34 30h1M34 31.5h1M34 41h1M34 42h1M34 48.5h1M34.5 21h1M34.5 24h1M34.5 27h1M34.5 27.5h1M34.5 30h1M34.5 40h1M34.5 41h1M34.5 41.5h1M34.5 42.5h1M34.5 43h1M34.5 48h1M35 21h1M35 26.5h1M35 27h1M35 29h1M35 30h1M35 31h1M35 41h1M35 41.5h1M35 42h1M35 43h1M35 43.5h1M35 44h1M35 45.5h1M35 46h1M35 47h1M35 49h1M35.5 20h1M35.5 25.5h1M35.5 27h1M35.5 29.5h1M35.5 40.5h1M35.5 41.5h1M35.5 42h1M35.5 43h1M35.5 45.5h1M35.5 46h1M35.5 46.5h1M36 12.5h1M36 20.5h1M36 21.5h1M36 23.5h1M36 38h1M36 42h1M36.5 17h1M36.5 21h1M36.5 21.5h1M36.5 24h1M36.5 29.5h1M36.5 31h1M36.5 36h1M36.5 38h1M36.5 46h1M37 16.5h1M37 24h1M37 26.5h1M37 37.5h1M37 42h1M37.5 17.5h1M37.5 20h1M37.5 22.5h1M37.5 32h1M37.5 44.5h1M38 11h1M38 15.5h1M38 16.5h1M38 24h1M38 25.5h1M38 28h1M38 28.5h1M38.5 9.5h1M38.5 10.5h1M38.5 27h1M38.5 29h1M38.5 32h1M38.5 33h1M39 8.5h1M39 22h1M39 22.5h1M39 28.5h1M39 32.5h1M39.5 14.5h1M39.5 24h1M39.5 32.5h1M40 15.5h1M40 16h1M40 16.5h1M40 19h1M40 20.5h1M40 32h1M40.5 16.5h1M40.5 18h1M40.5 20h1M41 9h1M41 9.5h1M41 10h1M41 20h1M41 21.5h1M41.5 10.5h1M41.5 12.5h1M41.5 14h1M42 10.5h1M42 12h1M42 18h1M42 21h1M42 26.5h1M42 29h1M42 43.5h1M42.5 16.5h1M42.5 19.5h1M42.5 23h1M42.5 35h1M43 7.5h1M43 11.5h1M43 14h1M43 14.5h1M43 15h1M43 15.5h1M43.5 6.5h1M43.5 11.5h1M43.5 20h1M44 8.5h1M44 13h1M44 24.5h1M44.5 12h1M44.5 16.5h1M44.5 22.5h1M45 8h1M45 14h1M45 15h1M45 15.5h1M45 17.5h1M45 19.5h1M45 23.5h1M45 34.5h1M45.5 10h1M46 10.5h1M46 13h1M46.5 11.5h1M46.5 16h1M47.5 14.5h1M47.5 16.5h1M48 14.5h1M48.5 13h1M50.5 14h1" stroke="#151515" stroke-width="1"/></g><g id="T23"><ellipse cx="24.4" cy="49.5" rx="11.9" ry="6.5" transform="rotate(-38 24.4 49.5)" fill="#151515"/><path d="M9.5 23h1M10.5 59h1M11.5 34.5h1M12 56h1M12.5 55.5h1M13 54.5h1M13 57h1M13 60.5h1M13.5 52h1M13.5 52.5h1M13.5 55h1M13.5 56.5h1M14 22h1M14 51h1M14 51.5h1M14 54h1M14 54.5h1M14 56h1M14 60.5h1M14 61h1M14 62.5h1M14 65h1M14.5 51.5h1M14.5 52h1M14.5 53h1M14.5 54h1M14.5 55h1M14.5 55.5h1M14.5 56h1M14.5 59.5h1M15 50.5h1M15 51h1M15 52.5h1M15 56.5h1M15 57h1M15 58h1M15 59h1M15 60.5h1M15.5 56.5h1M15.5 57.5h1M15.5 59h1M16 30h1M16 40.5h1M16 49h1M16 50h1M16 58h1M16 62.5h1M16.5 47h1M16.5 47.5h1M16.5 48.5h1M16.5 49h1M16.5 57.5h1M16.5 58.5h1M16.5 60h1M16.5 61h1M16.5 62h1M16.5 62.5h1M17 29.5h1M17 47h1M17 48.5h1M17 58h1M17 59h1M17 60h1M17 61h1M17 63.5h1M17.5 10h1M17.5 35.5h1M17.5 46.5h1M17.5 47h1M17.5 47.5h1M17.5 55.5h1M17.5 63.5h1M18 33.5h1M18 46.5h1M18 47h1M18 58h1M18 58.5h1M18 60h1M18 60.5h1M18.5 27.5h1M18.5 46.5h1M18.5 47h1M18.5 58.5h1M18.5 59h1M18.5 60.5h1M18.5 62h1M19 44h1M19 46h1M19 56h1M19 58h1M19 59h1M19 60.5h1M19 61.5h1M19.5 30h1M19.5 32h1M19.5 36.5h1M19.5 58h1M19.5 58.5h1M19.5 59h1M19.5 61h1M19.5 64h1M20 26.5h1M20 34h1M20 58h1M20 59h1M20 62.5h1M20.5 21.5h1M20.5 28.5h1M20.5 34h1M20.5 42h1M20.5 44.5h1M20.5 56.5h1M20.5 58h1M20.5 58.5h1M20.5 59.5h1M20.5 60h1M21 35.5h1M21 36.5h1M21 43.5h1M21 57h1M21 58h1M21 58.5h1M21 59h1M21 59.5h1M21 60.5h1M21 61h1M21.5 27h1M21.5 30h1M21.5 31h1M21.5 32.5h1M21.5 33h1M21.5 34h1M21.5 37h1M21.5 37.5h1M21.5 42.5h1M21.5 43.5h1M21.5 56.5h1M21.5 57h1M21.5 58h1M21.5 58.5h1M21.5 59h1M21.5 59.5h1M22 21h1M22 34.5h1M22 37h1M22 43h1M22 59h1M22 63h1M22 64h1M22.5 22.5h1M22.5 24.5h1M22.5 31h1M22.5 34.5h1M22.5 36h1M22.5 42.5h1M22.5 43h1M22.5 57.5h1M22.5 61h1M23 24.5h1M23 26.5h1M23 29.5h1M23 32.5h1M23 35h1M23 36h1M23 43h1M23 45.5h1M23 57h1M23 60.5h1M23 62.5h1M23.5 29h1M23.5 31h1M23.5 32.5h1M23.5 36.5h1M23.5 41.5h1M23.5 42h1M23.5 57.5h1M23.5 58h1M24 22h1M24 28.5h1M24 29h1M24 30.5h1M24 31h1M24 33.5h1M24 42.5h1M24 57h1M24 57.5h1M24 58h1M24 60h1M24.5 23.5h1M24.5 24.5h1M24.5 28h1M24.5 29h1M24.5 32h1M24.5 32.5h1M24.5 36h1M24.5 37h1M24.5 38h1M24.5 38.5h1M24.5 41.5h1M24.5 55.5h1M24.5 56.5h1M24.5 59h1M24.5 61h1M25 23.5h1M25 26h1M25 29.5h1M25 33h1M25 37.5h1M25 38h1M25 41h1M25 41.5h1M25 58h1M25 59h1M25.5 25.5h1M25.5 29h1M25.5 40h1M25.5 56h1M25.5 56.5h1M25.5 57h1M26 26.5h1M26 32h1M26 32.5h1M26 33.5h1M26 37h1M26 38h1M26 39.5h1M26 41h1M26 43h1M26 44.5h1M26 59.5h1M26.5 22.5h1M26.5 26.5h1M26.5 28.5h1M26.5 29h1M26.5 33h1M26.5 33.5h1M26.5 36.5h1M26.5 39.5h1M26.5 41h1M26.5 57.5h1M27 24h1M27 25.5h1M27 26.5h1M27 27.5h1M27 28h1M27 28.5h1M27 31h1M27 34.5h1M27 37.5h1M27 40.5h1M27 55.5h1M27 56h1M27 58.5h1M27.5 21h1M27.5 21.5h1M27.5 24h1M27.5 28h1M27.5 31h1M27.5 32.5h1M27.5 41h1M27.5 58h1M28 24h1M28 27h1M28 30h1M28 32.5h1M28 34h1M28 36h1M28 36.5h1M28 40.5h1M28 41h1M28 54.5h1M28 55.5h1M28.5 10.5h1M28.5 14h1M28.5 23h1M28.5 27h1M28.5 28.5h1M28.5 33h1M28.5 33.5h1M28.5 34h1M28.5 35h1M28.5 37.5h1M28.5 39.5h1M28.5 41h1M28.5 42h1M28.5 43.5h1M28.5 54.5h1M28.5 55h1M28.5 55.5h1M29 21h1M29 24h1M29 24.5h1M29 26h1M29 28h1M29 29.5h1M29 30.5h1M29 32.5h1M29 33h1M29 35.5h1M29 36.5h1M29 40h1M29 40.5h1M29 54.5h1M29 55h1M29.5 17h1M29.5 18h1M29.5 21h1M29.5 22h1M29.5 24h1M29.5 24.5h1M29.5 26.5h1M29.5 27.5h1M29.5 30h1M29.5 30.5h1M29.5 33.5h1M29.5 35h1M29.5 39h1M29.5 39.5h1M29.5 40h1M29.5 40.5h1M29.5 54h1M30 13.5h1M30 16h1M30 25.5h1M30 26h1M30 28h1M30 34.5h1M30 35.5h1M30 40h1M30 40.5h1M30 52.5h1M30 53h1M30 58h1M30.5 25h1M30.5 25.5h1M30.5 27h1M30.5 27.5h1M30.5 28h1M30.5 29h1M30.5 30h1M30.5 36.5h1M30.5 37h1M30.5 39h1M30.5 41h1M30.5 41.5h1M30.5 53h1M30.5 53.5h1M31 19.5h1M31 23h1M31 25h1M31 29h1M31 29.5h1M31 30h1M31 32h1M31 34.5h1M31 40h1M31 41h1M31 52h1M31.5 20h1M31.5 23h1M31.5 25.5h1M31.5 28h1M31.5 30.5h1M31.5 31h1M31.5 35h1M31.5 37h1M31.5 40.5h1M31.5 41h1M31.5 51h1M31.5 52.5h1M31.5 53h1M31.5 59h1M32 10.5h1M32 14.5h1M32 27h1M32 29h1M32 29.5h1M32 34.5h1M32 36h1M32 39h1M32 42h1M32 51h1M32 52h1M32.5 16.5h1M32.5 23.5h1M32.5 24h1M32.5 24.5h1M32.5 26.5h1M32.5 27h1M32.5 30h1M32.5 32.5h1M32.5 36h1M32.5 37.5h1M32.5 41h1M32.5 41.5h1M32.5 49.5h1M32.5 50h1M32.5 50.5h1M33 10.5h1M33 12h1M33 16.5h1M33 17h1M33 21h1M33 23.5h1M33 27.5h1M33 28h1M33 29h1M33 30h1M33 33.5h1M33 35h1M33 40.5h1M33 41h1M33 41.5h1M33 42h1M33 50h1M33 50.5h1M33.5 19.5h1M33.5 22h1M33.5 24h1M33.5 26h1M33.5 27.5h1M33.5 28h1M33.5 30.5h1M33.5 32h1M33.5 32.5h1M33.5 33.5h1M33.5 35.5h1M33.5 41h1M33.5 41.5h1M33.5 42h1M33.5 48.5h1M33.5 49h1M33.5 49.5h1M34 17.5h1M34 18h1M34 19h1M34 20h1M34 20.5h1M34 25h1M34 28.5h1M34 29h1M34 30h1M34 30.5h1M34 32h1M34 32.5h1M34 33.5h1M34 37.5h1M34 40.5h1M34 41.5h1M34 42.5h1M34 43h1M34 44h1M34 45.5h1M34 46.5h1M34 47h1M34 47.5h1M34 48.5h1M34 49.5h1M34.5 19h1M34.5 21h1M34.5 23.5h1M34.5 25h1M34.5 29.5h1M34.5 30h1M34.5 30.5h1M34.5 35h1M34.5 38.5h1M34.5 41h1M34.5 43.5h1M34.5 44.5h1M34.5 45h1M34.5 45.5h1M34.5 47h1M34.5 47.5h1M34.5 48h1M35 14h1M35 16.5h1M35 19.5h1M35 22.5h1M35 23h1M35 24.5h1M35 25h1M35 26h1M35 27h1M35 27.5h1M35 31h1M35 38h1M35 39.5h1M35 40h1M35 42.5h1M35 43h1M35 44h1M35 45h1M35 45.5h1M35 46h1M35 48h1M35.5 19.5h1M35.5 23.5h1M35.5 27h1M35.5 29h1M35.5 30.5h1M35.5 41h1M35.5 42.5h1M35.5 45h1M35.5 45.5h1M36 15h1M36 15.5h1M36 18.5h1M36 19.5h1M36 23.5h1M36 24h1M36 32.5h1M36 43.5h1M36.5 14.5h1M36.5 15.5h1M36.5 16h1M36.5 21h1M36.5 24h1M36.5 24.5h1M36.5 34.5h1M37 21.5h1M37 23h1M37 25.5h1M37 30.5h1M37.5 16h1M37.5 18h1M37.5 21.5h1M37.5 22h1M37.5 26.5h1M38 8h1M38 10.5h1M38 11h1M38 18.5h1M38 19.5h1M38 21.5h1M38 22h1M38 23.5h1M38 24.5h1M38 26h1M38 28h1M38 38.5h1M38.5 16h1M38.5 21h1M38.5 22.5h1M38.5 23.5h1M38.5 36.5h1M39 11.5h1M39 13h1M39 16h1M39 18h1M39 21.5h1M39 28h1M39.5 15h1M39.5 15.5h1M39.5 20h1M39.5 22h1M39.5 25h1M39.5 29h1M39.5 32.5h1M40 9h1M40 12h1M40 13h1M40 17.5h1M40 22.5h1M40 23h1M40.5 6.5h1M40.5 9.5h1M40.5 19.5h1M40.5 20h1M40.5 23.5h1M41 7h1M41 9.5h1M41 13h1M41 14.5h1M41 19.5h1M41 21h1M41 22h1M41.5 10.5h1M41.5 17h1M41.5 27h1M41.5 52.5h1M42 9.5h1M42 11.5h1M42 13h1M42 13.5h1M42 14h1M42 16h1M42 22h1M42.5 3.5h1M42.5 5h1M42.5 12h1M42.5 12.5h1M42.5 13.5h1M42.5 14.5h1M42.5 17h1M42.5 17.5h1M43 11h1M43 13h1M43 16.5h1M43 18.5h1M43 24.5h1M43.5 4.5h1M43.5 8.5h1M43.5 17h1M43.5 17.5h1M43.5 24.5h1M43.5 27h1M44 6.5h1M44 11h1M44 11.5h1M44 13.5h1M44 15h1M44 18h1M44 21.5h1M44.5 14.5h1M45 7.5h1M45 10h1M45 11h1M45 13h1M45 14h1M45 16.5h1M45 17.5h1M45.5 12.5h1M45.5 14.5h1M45.5 15h1M45.5 16.5h1M46 5h1M46 6h1M46 17h1M46 18h1M46.5 11h1M46.5 11.5h1M46.5 13h1M46.5 15h1M46.5 17h1M46.5 28h1M47 13h1M47 14.5h1M47 15.5h1M47 17h1M47.5 9h1M47.5 10.5h1M47.5 16.5h1M47.5 17.5h1M48 7h1M48 9h1M48 10.5h1M49 10h1M49 12h1M49 35.5h1M49.5 13h1M49.5 19.5h1M50 9h1M50 15.5h1M50.5 7h1M51.5 14.5h1M51.5 15h1M51.5 16.5h1M53 17.5h1" stroke="#151515" stroke-width="1"/></g><g id="T24"><ellipse cx="26" cy="50.5" rx="10.8" ry="7.2" transform="rotate(-45 26 50.5)" fill="#151515"/><path d="M4 53h1M6 55.5h1M7 58.5h1M7.5 54.5h1M7.5 55.5h1M8 51.5h1M8 53.5h1M8 59h1M8 60h1M8 61h1M8.5 51h1M8.5 64.5h1M9 59h1M9.5 53.5h1M9.5 56h1M10 50h1M10 53h1M10 53.5h1M10 54.5h1M10 55h1M10 56h1M10 57h1M10 63h1M10 64h1M10.5 51h1M10.5 53h1M10.5 54.5h1M10.5 62.5h1M11 50.5h1M11 63.5h1M11 65.5h1M11.5 52.5h1M11.5 58.5h1M11.5 60.5h1M11.5 61h1M12 58.5h1M12 59h1M12.5 48.5h1M12.5 54h1M12.5 55h1M12.5 56.5h1M12.5 58h1M12.5 65h1M13 51h1M13 53.5h1M13 55h1M13 56h1M13 56.5h1M13 57.5h1M13 58.5h1M13 60h1M14 59.5h1M14.5 17h1M14.5 55.5h1M14.5 58h1M14.5 59.5h1M14.5 62h1M15 52.5h1M15 59.5h1M15.5 51h1M15.5 58h1M15.5 59h1M15.5 63h1M15.5 64h1M16 48.5h1M16 52h1M16 52.5h1M16 55h1M16.5 51h1M16.5 51.5h1M16.5 52h1M16.5 52.5h1M16.5 55.5h1M16.5 56.5h1M16.5 57h1M17 50h1M17 51h1M17 53h1M17 53.5h1M17 54h1M17 54.5h1M17 55h1M17 56h1M17 57.5h1M17 59h1M17 59.5h1M17 60h1M17.5 50h1M17.5 50.5h1M17.5 51.5h1M17.5 56h1M17.5 56.5h1M17.5 57h1M17.5 57.5h1M17.5 58.5h1M17.5 59h1M17.5 61h1M17.5 61.5h1M18 48h1M18 49h1M18 49.5h1M18 50.5h1M18 53h1M18 55h1M18 56.5h1M18 57h1M18 58h1M18 58.5h1M18 59.5h1M18.5 57.5h1M18.5 58h1M18.5 59h1M18.5 60.5h1M18.5 62h1M19 54h1M19 58h1M19 58.5h1M19 59h1M19 60h1M19 62h1M19.5 46.5h1M19.5 47.5h1M19.5 58.5h1M19.5 62h1M20 45h1M20 46h1M20 46.5h1M20 55.5h1M20 56h1M20 58.5h1M20 59h1M20 60h1M20 61h1M20 61.5h1M20.5 46h1M20.5 46.5h1M20.5 59.5h1M20.5 60.5h1M20.5 61h1M21 35.5h1M21 44h1M21 55.5h1M21 58h1M21 58.5h1M21 59h1M21 59.5h1M21 60h1M21 60.5h1M21 61h1M21 62h1M21 62.5h1M21.5 44.5h1M21.5 52.5h1M21.5 58h1M21.5 58.5h1M21.5 59h1M21.5 59.5h1M21.5 60h1M21.5 60.5h1M21.5 61h1M22 44h1M22 55h1M22 59.5h1M22 60h1M22.5 43.5h1M22.5 44h1M22.5 44.5h1M22.5 54h1M22.5 57.5h1M22.5 59.5h1M22.5 61h1M23 43.5h1M23 58h1M23 59.5h1M23 60.5h1M23 61.5h1M23.5 43.5h1M23.5 54.5h1M23.5 55h1M23.5 59.5h1M23.5 60h1M23.5 60.5h1M24 30.5h1M24 42.5h1M24 56h1M24 58h1M24 59h1M24 59.5h1M24 60.5h1M24 63h1M24.5 23.5h1M24.5 33.5h1M24.5 42h1M24.5 42.5h1M24.5 43h1M24.5 56.5h1M24.5 58h1M24.5 61h1M25 42h1M25 58h1M25.5 28h1M25.5 32.5h1M25.5 36h1M25.5 42h1M25.5 42.5h1M25.5 58h1M25.5 59h1M25.5 59.5h1M25.5 62h1M26 30.5h1M26 32.5h1M26 33.5h1M26 36h1M26 41h1M26 42h1M26 42.5h1M26 55h1M26 57h1M26 58h1M26 59h1M26 60h1M26.5 30h1M26.5 30.5h1M26.5 31h1M26.5 34.5h1M26.5 35.5h1M26.5 40.5h1M26.5 41h1M26.5 59.5h1M27 21h1M27 27.5h1M27 41h1M27 55h1M27 57h1M27 57.5h1M27 58.5h1M27 60.5h1M27.5 32.5h1M27.5 33.5h1M27.5 41h1M27.5 41.5h1M27.5 42h1M27.5 55h1M27.5 56h1M27.5 58h1M27.5 60h1M27.5 61.5h1M28 25.5h1M28 26.5h1M28 32h1M28 33h1M28 34h1M28 35.5h1M28 41h1M28 41.5h1M28 42h1M28 44.5h1M28 58h1M28.5 12.5h1M28.5 14.5h1M28.5 16h1M28.5 19.5h1M28.5 22.5h1M28.5 24h1M28.5 24.5h1M28.5 28.5h1M28.5 33.5h1M28.5 37h1M28.5 39.5h1M28.5 40.5h1M28.5 42h1M28.5 42.5h1M28.5 57h1M28.5 57.5h1M29 23.5h1M29 25.5h1M29 27h1M29 30h1M29 33h1M29 34.5h1M29 38h1M29 40.5h1M29 41h1M29 56h1M29 57h1M29 58h1M29 60.5h1M29 66.5h1M29.5 20h1M29.5 20.5h1M29.5 22h1M29.5 24.5h1M29.5 29h1M29.5 30h1M29.5 30.5h1M29.5 31h1M29.5 31.5h1M29.5 33.5h1M29.5 54h1M29.5 56.5h1M29.5 57.5h1M29.5 60.5h1M30 20.5h1M30 22.5h1M30 26.5h1M30 29.5h1M30 31h1M30 35h1M30 38.5h1M30 40h1M30 42h1M30 56.5h1M30 61h1M30.5 16.5h1M30.5 22h1M30.5 25h1M30.5 27.5h1M30.5 34.5h1M30.5 35.5h1M30.5 36.5h1M30.5 37.5h1M30.5 53h1M30.5 56h1M31 12.5h1M31 14h1M31 19.5h1M31 21.5h1M31 25.5h1M31 27h1M31 28.5h1M31 30.5h1M31 31.5h1M31 40h1M31 40.5h1M31 41h1M31 41.5h1M31 42h1M31 56.5h1M31 62h1M31.5 20.5h1M31.5 21.5h1M31.5 23h1M31.5 23.5h1M31.5 26.5h1M31.5 28.5h1M31.5 38.5h1M31.5 39h1M31.5 41h1M31.5 42h1M31.5 55.5h1M32 13.5h1M32 20.5h1M32 21.5h1M32 27.5h1M32 28h1M32 28.5h1M32 30.5h1M32 32h1M32 36h1M32 36.5h1M32 40.5h1M32 41h1M32 41.5h1M32 42h1M32 54.5h1M32 55.5h1M32.5 10.5h1M32.5 20h1M32.5 21h1M32.5 27.5h1M32.5 29h1M32.5 41h1M32.5 42h1M32.5 42.5h1M32.5 54.5h1M32.5 55h1M32.5 55.5h1M33 21h1M33 30h1M33 33h1M33 34.5h1M33 42h1M33 52.5h1M33 53h1M33 53.5h1M33 54.5h1M33 55.5h1M33.5 13.5h1M33.5 15h1M33.5 19.5h1M33.5 21h1M33.5 32h1M33.5 41.5h1M33.5 42h1M33.5 42.5h1M33.5 43h1M33.5 52h1M33.5 52.5h1M33.5 53h1M33.5 53.5h1M34 15.5h1M34 28h1M34 29h1M34 32.5h1M34 42h1M34 43h1M34 43.5h1M34 44h1M34 51h1M34 53h1M34.5 17.5h1M34.5 20h1M34.5 21h1M34.5 22.5h1M34.5 25h1M34.5 36.5h1M34.5 42h1M34.5 43.5h1M34.5 44.5h1M34.5 48h1M34.5 50h1M34.5 51.5h1M34.5 52.5h1M35 20.5h1M35 42.5h1M35 46h1M35 47.5h1M35 48h1M35 48.5h1M35 49.5h1M35 50h1M35 52h1M35.5 17h1M35.5 19.5h1M35.5 20h1M35.5 25h1M35.5 47.5h1M35.5 48.5h1M35.5 49h1M35.5 49.5h1M35.5 50h1M36 18h1M36 19.5h1M36 21h1M36 23.5h1M36 24h1M36 30h1M36 44.5h1M36 46.5h1M36 47h1M36 47.5h1M36.5 16h1M36.5 17.5h1M36.5 44h1M37 11.5h1M37 24.5h1M37 27.5h1M37.5 18h1M37.5 18.5h1M37.5 30h1M38 13h1M39 17h1M39.5 19h1M39.5 19.5h1M49 10h1" stroke="#151515" stroke-width="1"/></g><g id="B11"><ellipse cx="21.5" cy="51" rx="13.1" ry="6.8" transform="rotate(-20 21.5 51)" fill="#151515"/><path d="M6.5 53.5h1M7 53.5h1M8 54h1M8 54.5h1M8 55h1M8 61.5h1M8 63h1M8.5 51.5h1M8.5 52.5h1M8.5 53h1M8.5 53.5h1M8.5 58.5h1M9 52.5h1M9 53h1M9 53.5h1M9.5 49h1M9.5 51h1M9.5 52h1M9.5 53.5h1M9.5 54h1M9.5 54.5h1M9.5 55h1M9.5 55.5h1M9.5 56.5h1M9.5 57h1M9.5 58h1M9.5 61.5h1M10 50.5h1M10 56h1M10 57h1M10 57.5h1M10.5 49h1M10.5 50h1M10.5 50.5h1M10.5 51h1M10.5 57.5h1M10.5 58.5h1M11 49.5h1M11 50h1M11 57.5h1M11 58h1M11.5 49h1M11.5 57h1M11.5 57.5h1M11.5 58h1M11.5 59h1M11.5 59.5h1M12 40.5h1M12 48.5h1M12 49h1M12 58h1M12 59h1M12 66h1M12.5 49h1M13 47h1M13 48h1M13 48.5h1M13 59h1M13 61h1M13 65h1M13 65.5h1M13.5 47.5h1M13.5 59.5h1M13.5 60h1M13.5 63h1M14 58.5h1M14 59.5h1M14 60h1M14 62.5h1M14.5 47h1M14.5 58.5h1M14.5 59h1M14.5 59.5h1M15 45h1M15.5 58h1M15.5 58.5h1M15.5 59h1M15.5 59.5h1M15.5 60h1M16 45.5h1M16 58.5h1M16 59.5h1M16 64.5h1M16.5 45.5h1M16.5 58.5h1M16.5 59.5h1M16.5 64h1M16.5 65h1M17 43h1M17 45h1M17 58.5h1M17 59.5h1M17 60.5h1M17 61.5h1M17 62h1M17.5 45.5h1M17.5 58h1M17.5 59h1M17.5 61.5h1M17.5 63.5h1M18 58.5h1M18 59h1M18 60.5h1M18 62.5h1M18 67.5h1M18.5 47.5h1M18.5 58h1M18.5 58.5h1M18.5 59h1M19 44h1M19 44.5h1M19 57.5h1M19 58.5h1M19 59.5h1M19.5 42h1M19.5 44.5h1M19.5 58h1M19.5 58.5h1M20 24.5h1M20 44h1M20 44.5h1M20 58h1M20 58.5h1M20 59h1M20 62h1M20 64.5h1M20.5 44h1M20.5 53.5h1M20.5 58h1M20.5 58.5h1M20.5 61.5h1M20.5 62h1M21 56.5h1M21 58h1M21 61h1M21 61.5h1M21.5 57.5h1M21.5 58.5h1M21.5 61.5h1M22 57h1M22 57.5h1M22 58.5h1M22.5 57.5h1M22.5 58h1M22.5 58.5h1M22.5 59.5h1M22.5 60h1M22.5 60.5h1M22.5 61.5h1M23 54.5h1M23 56h1M23 57.5h1M23 58.5h1M23 61h1M23 61.5h1M23.5 43.5h1M23.5 56.5h1M23.5 58.5h1M23.5 59h1M23.5 60h1M23.5 62.5h1M24 57.5h1M24 58h1M24 59.5h1M24 60.5h1M24 61.5h1M24.5 43h1M24.5 56.5h1M24.5 57.5h1M24.5 58h1M24.5 60h1M24.5 61h1M25 43h1M25 56.5h1M25 57.5h1M25 58h1M25 59h1M25 60h1M25 61.5h1M25.5 42.5h1M25.5 56.5h1M26 56.5h1M26.5 43h1M26.5 60h1M26.5 61h1M26.5 64h1M27 43.5h1M27 56.5h1M27 58.5h1M27 60h1M27 60.5h1M27.5 42h1M27.5 43h1M27.5 43.5h1M27.5 58.5h1M28 25h1M28 44.5h1M28 54.5h1M28 55h1M28 55.5h1M28 57h1M28.5 43h1M28.5 43.5h1M28.5 57.5h1M28.5 60h1M29 43h1M29 54.5h1M29 55.5h1M29 56.5h1M29 64h1M29.5 38.5h1M29.5 54.5h1M29.5 55h1M29.5 58.5h1M29.5 59h1M29.5 61h1M30 24h1M30 42h1M30 42.5h1M30 43h1M30 54.5h1M30 56.5h1M30.5 42.5h1M30.5 43h1M30.5 53.5h1M31 43h1M31 44h1M31 44.5h1M31 53.5h1M31 61h1M31.5 33.5h1M31.5 43.5h1M31.5 44h1M31.5 44.5h1M31.5 52h1M31.5 55h1M32 33h1M32 44h1M32 45h1M32 52.5h1M32 53h1M32 54h1M32 59h1M32.5 38h1M32.5 39.5h1M32.5 44.5h1M32.5 45h1M32.5 45.5h1M32.5 51h1M32.5 51.5h1M32.5 52h1M32.5 56.5h1M32.5 59.5h1M33 45h1M33 45.5h1M33 46.5h1M33 49.5h1M33 50h1M33 50.5h1M33 52h1M33 52.5h1M33.5 31.5h1M33.5 46.5h1M33.5 48h1M33.5 50h1M33.5 51.5h1M33.5 61h1M34 30h1M34 34h1M34 46h1M34 46.5h1M34 48h1M34 48.5h1M34 49.5h1M34 51h1M34 58.5h1M34.5 46h1M34.5 50h1M34.5 51h1M35 29.5h1M35 31.5h1M35 47h1M35 48.5h1M35.5 39h1M35.5 41h1M35.5 46h1M35.5 49h1M36 33h1M36.5 18.5h1M36.5 28.5h1M37 25h1M37 28.5h1M37 39.5h1M38 24.5h1M39.5 18h1M40 20h1M41.5 24.5h1M41.5 36h1M42.5 15.5h1M42.5 16h1M42.5 18.5h1M45.5 19h1M48 47h1" stroke="#151515" stroke-width="1"/></g><g id="B13"><ellipse cx="21.8" cy="53" rx="11.7" ry="6.8" transform="rotate(-22 21.8 53)" fill="#151515"/><path d="M3 67h1M8.5 62.5h1M9.5 55h1M9.5 55.5h1M9.5 56h1M10 52.5h1M10 54.5h1M10 56.5h1M10 57.5h1M10.5 55h1M10.5 55.5h1M10.5 56h1M10.5 57.5h1M11 52.5h1M11 53h1M11 53.5h1M11 55.5h1M11 56h1M11 57h1M11 57.5h1M11 58.5h1M11.5 26.5h1M11.5 53.5h1M11.5 58.5h1M11.5 60h1M12 50.5h1M12 52h1M12 52.5h1M12 53h1M12 58h1M12 58.5h1M12 59.5h1M12 60h1M12.5 25.5h1M12.5 50.5h1M12.5 51h1M12.5 52h1M12.5 59h1M12.5 61h1M13 51.5h1M13 59.5h1M13 60.5h1M13.5 49h1M13.5 50h1M13.5 61.5h1M13.5 62.5h1M14 35.5h1M14 48.5h1M14 49.5h1M14 58h1M14 58.5h1M14 61h1M14 62h1M14 63h1M14.5 39.5h1M14.5 60.5h1M14.5 64h1M15 41.5h1M15 48.5h1M15 49h1M15 60.5h1M15.5 48.5h1M15.5 49h1M15.5 60.5h1M15.5 61h1M15.5 61.5h1M15.5 63h1M16 38.5h1M16 56.5h1M16 58.5h1M16 60h1M16 61h1M16 62h1M16.5 34h1M16.5 45.5h1M16.5 47.5h1M16.5 48h1M16.5 59.5h1M16.5 60h1M16.5 61h1M17 30.5h1M17 36h1M17 36.5h1M17 39.5h1M17 47.5h1M17 48h1M17 61h1M17 61.5h1M17.5 31h1M17.5 47.5h1M17.5 60h1M17.5 60.5h1M18 33.5h1M18 46h1M18 58.5h1M18 60h1M18 60.5h1M18 62h1M18 63.5h1M18.5 46.5h1M18.5 47h1M18.5 47.5h1M18.5 53.5h1M18.5 58h1M18.5 61h1M19 46h1M19 58.5h1M19 60h1M19.5 46.5h1M19.5 57h1M19.5 60.5h1M19.5 61h1M19.5 62h1M19.5 62.5h1M19.5 63h1M20 43.5h1M20 46h1M20 46.5h1M20 54.5h1M20 58h1M20.5 37.5h1M20.5 46.5h1M20.5 55h1M20.5 60h1M20.5 60.5h1M20.5 61.5h1M20.5 63h1M20.5 64h1M20.5 66.5h1M21 46.5h1M21 60h1M21 61h1M21.5 28.5h1M21.5 40h1M21.5 45.5h1M21.5 60.5h1M21.5 62.5h1M22 45.5h1M22 46h1M22 54.5h1M22 56h1M22 57.5h1M22 58.5h1M22 60h1M22.5 45h1M22.5 45.5h1M22.5 46h1M22.5 59h1M22.5 59.5h1M22.5 60h1M22.5 60.5h1M23 40h1M23 45.5h1M23 46h1M23 60h1M23 60.5h1M23 67.5h1M23.5 46h1M23.5 59h1M23.5 59.5h1M23.5 60h1M24 45.5h1M24 56.5h1M24 59.5h1M24 60h1M24 61.5h1M24.5 34h1M24.5 57.5h1M24.5 59h1M25 29.5h1M25 40h1M25 45h1M25 58.5h1M25 59.5h1M25 61.5h1M25.5 44.5h1M25.5 45h1M25.5 45.5h1M25.5 60.5h1M26 58h1M26 59.5h1M26.5 32.5h1M26.5 45h1M26.5 45.5h1M26.5 57h1M26.5 58h1M26.5 58.5h1M26.5 59h1M26.5 59.5h1M27 35h1M27 42.5h1M27 58h1M27 59h1M27.5 45h1M27.5 45.5h1M28 44h1M28 44.5h1M28 45.5h1M28 57h1M28 57.5h1M28 58h1M28.5 32.5h1M28.5 40.5h1M28.5 45h1M28.5 45.5h1M28.5 46h1M28.5 54.5h1M28.5 57h1M28.5 57.5h1M28.5 58.5h1M29 33.5h1M29 45.5h1M29 56h1M29.5 30.5h1M29.5 46h1M29.5 57h1M29.5 58h1M30 33h1M30 45h1M30 45.5h1M30 46h1M30 55.5h1M30 56h1M30.5 29.5h1M30.5 32.5h1M30.5 39h1M30.5 54.5h1M30.5 55.5h1M31 34h1M31 45.5h1M31 54h1M31 55h1M31 56.5h1M31.5 47.5h1M31.5 53.5h1M31.5 55h1M32 48h1M32 48.5h1M32 52.5h1M32 53h1M32 53.5h1M32 55.5h1M32 56h1M32.5 46h1M32.5 47h1M32.5 49.5h1M32.5 52h1M32.5 53.5h1M33 40.5h1M33 42h1M33 47h1M33 49h1M33 49.5h1M33 51.5h1M33 52.5h1M33 53.5h1M33.5 48.5h1M33.5 49.5h1M33.5 50h1M33.5 52h1M33.5 55.5h1M34 19.5h1M34 47h1M34.5 31h1M34.5 32.5h1M34.5 49h1M35 31.5h1M35 48h1M35 52h1M35.5 49h1M37 34h1M42.5 54h1" stroke="#151515" stroke-width="1"/></g><g id="B21"><ellipse cx="25" cy="50.5" rx="9.9" ry="6.8" transform="rotate(-45 25 50.5)" fill="#151515"/><path d="M6 58.5h1M7 56h1M8.5 55h1M10 54.5h1M10.5 46h1M10.5 51h1M10.5 58.5h1M10.5 59h1M11 55.5h1M11 56h1M11.5 54h1M11.5 55.5h1M12 55.5h1M12 59.5h1M12.5 51h1M12.5 55h1M12.5 64h1M13 60h1M13.5 51h1M13.5 55h1M14 53h1M14 53.5h1M14 56h1M14 56.5h1M14.5 49h1M14.5 60.5h1M15 55.5h1M15 57.5h1M15.5 54.5h1M15.5 55h1M15.5 57h1M15.5 67h1M16 51.5h1M16 52h1M16 55h1M16 55.5h1M16 56h1M16 57h1M16.5 34.5h1M16.5 50h1M16.5 52h1M16.5 54h1M16.5 54.5h1M16.5 55h1M16.5 55.5h1M16.5 56h1M16.5 63h1M17 45.5h1M17 48.5h1M17 49.5h1M17 51h1M17 51.5h1M17 52h1M17 52.5h1M17 55h1M17 57.5h1M17 58.5h1M17.5 48h1M17.5 50h1M17.5 56.5h1M17.5 57h1M17.5 57.5h1M17.5 58h1M17.5 61.5h1M17.5 66.5h1M18 47h1M18 48h1M18 48.5h1M18 55h1M18 56.5h1M18 57h1M18.5 47h1M18.5 47.5h1M18.5 48h1M18.5 56.5h1M18.5 57.5h1M18.5 58h1M18.5 59.5h1M19 28.5h1M19 45h1M19 45.5h1M19 47h1M19 58h1M19 58.5h1M19 59.5h1M19.5 58.5h1M19.5 59h1M20 54h1M20 55.5h1M20 59h1M20.5 43h1M20.5 44.5h1M20.5 46h1M20.5 54.5h1M20.5 58.5h1M20.5 59.5h1M21 43.5h1M21 54h1M21 59h1M21.5 44h1M21.5 57.5h1M21.5 58.5h1M22 59h1M22.5 22.5h1M22.5 43h1M22.5 51.5h1M23 43h1M23 59.5h1M23 60h1M23 62h1M23.5 43h1M23.5 43.5h1M23.5 53h1M23.5 59h1M23.5 60.5h1M24 42h1M24 43h1M24 58.5h1M24.5 43h1M24.5 53h1M25 42h1M25 42.5h1M25 52h1M25 58h1M25.5 36.5h1M25.5 59h1M26 31.5h1M26 42h1M26 53.5h1M26 58h1M26 58.5h1M26.5 41h1M26.5 41.5h1M26.5 42h1M26.5 42.5h1M26.5 59.5h1M27 41.5h1M27 57h1M27 58h1M27.5 41.5h1M27.5 42h1M27.5 42.5h1M27.5 55.5h1M27.5 57h1M28 35.5h1M28 41.5h1M28 56.5h1M28 57h1M28 57.5h1M28.5 33h1M28.5 41.5h1M28.5 56h1M28.5 57h1M28.5 58h1M29 41.5h1M29 42h1M29 46h1M29 56h1M29 57h1M29 58.5h1M29.5 42h1M30 21h1M30 41h1M30 42h1M30 42.5h1M30 54.5h1M30 55h1M30 55.5h1M30.5 41h1M30.5 42h1M30.5 42.5h1M30.5 43h1M30.5 55h1M30.5 55.5h1M31 35h1M31 42h1M31 42.5h1M31 55h1M31.5 30h1M31.5 41h1M31.5 43h1M31.5 43.5h1M31.5 54h1M31.5 54.5h1M32 21h1M32 26h1M32 53h1M32 54.5h1M32.5 36.5h1M32.5 43.5h1M32.5 45h1M32.5 51.5h1M32.5 52h1M33 21h1M33 41h1M33 45h1M33 46h1M33 46.5h1M33 47.5h1M33 49h1M33 50h1M33 50.5h1M33 51.5h1M33 53.5h1M33.5 33.5h1M33.5 45h1M33.5 45.5h1M33.5 46h1M33.5 47h1M33.5 47.5h1M33.5 48h1M33.5 49h1M34 36.5h1M34 43.5h1M34 46.5h1M34 47.5h1M34 48h1M34 48.5h1M34 49h1M34.5 20.5h1M34.5 22h1M34.5 24h1M34.5 28h1M34.5 45.5h1M34.5 46h1M35 28.5h1M35 32h1M35 48h1M35.5 46h1M36 34h1M37 12.5h1M37.5 19h1M37.5 20h1M37.5 31h1M38 23.5h1M38 26.5h1M38.5 28.5h1M39 16h1M39 17h1M39 19.5h1M39.5 27h1M40 21.5h1M40.5 15h1M41.5 16.5h1M42.5 12.5h1M44.5 29h1M44.5 44.5h1" stroke="#151515" stroke-width="1"/></g><g id="B23"><ellipse cx="22.5" cy="54" rx="11.2" ry="6.5" transform="rotate(-22 22.5 54)" fill="#151515"/><ellipse cx="30" cy="47.5" rx="5.9" ry="4" transform="rotate(-50 30 47.5)" fill="#151515"/><path d="M3 62.5h1M5.5 51h1M5.5 63.5h1M7.5 58h1M8 58h1M8 60h1M9 63h1M9.5 56.5h1M10 55h1M10 56h1M10 56.5h1M10 61h1M10.5 56h1M10.5 57h1M10.5 58.5h1M10.5 59h1M11 54.5h1M11 55.5h1M11 56h1M11 57.5h1M11 58.5h1M11 59.5h1M11 60h1M11.5 54.5h1M11.5 56h1M11.5 57h1M11.5 57.5h1M11.5 59.5h1M12 53.5h1M12 55h1M12 55.5h1M12 56.5h1M12 58h1M12 58.5h1M12 59h1M12.5 54h1M12.5 54.5h1M12.5 55.5h1M12.5 58h1M12.5 58.5h1M12.5 59h1M12.5 59.5h1M13 52h1M13 52.5h1M13 53.5h1M13 60h1M13 60.5h1M13 62h1M13.5 52.5h1M13.5 57h1M13.5 59h1M13.5 59.5h1M13.5 60h1M13.5 61.5h1M14 51h1M14 52h1M14 52.5h1M14 53h1M14 57h1M14.5 51.5h1M14.5 54h1M14.5 58.5h1M14.5 60h1M14.5 60.5h1M14.5 61h1M15 50.5h1M15 51h1M15 51.5h1M15 53.5h1M15 54h1M15 60.5h1M15 61.5h1M15.5 51h1M15.5 58h1M15.5 60h1M15.5 61h1M15.5 62h1M16 54.5h1M16 60.5h1M16 61.5h1M16.5 50h1M16.5 52.5h1M16.5 59h1M16.5 62h1M17 49.5h1M17 57h1M17 57.5h1M17 58.5h1M17 61h1M17.5 48.5h1M17.5 49.5h1M17.5 51.5h1M17.5 55h1M17.5 55.5h1M17.5 61h1M17.5 61.5h1M18 49h1M18 50.5h1M18 55h1M18 56.5h1M18 61.5h1M18.5 53h1M18.5 53.5h1M18.5 54.5h1M18.5 58h1M18.5 60h1M18.5 61h1M19 40h1M19 48.5h1M19 54.5h1M19 55h1M19 57h1M19 57.5h1M19 61h1M19 61.5h1M19.5 48h1M19.5 49h1M19.5 53h1M19.5 58.5h1M19.5 61h1M20 47h1M20 47.5h1M20 48h1M20 55h1M20 56h1M20 58h1M20 60.5h1M20.5 55.5h1M21 39.5h1M21 47h1M21 48h1M21 58.5h1M21 61h1M21 61.5h1M21 62.5h1M21.5 47h1M21.5 48h1M21.5 55h1M21.5 59.5h1M22 54.5h1M22 58h1M22 61.5h1M22.5 36h1M22.5 46.5h1M22.5 47h1M22.5 47.5h1M22.5 61h1M23 38.5h1M23 46.5h1M23 47h1M23 47.5h1M23 56.5h1M23 60.5h1M23.5 46.5h1M23.5 47.5h1M23.5 58.5h1M23.5 61.5h1M24 51h1M24 53h1M24 58.5h1M24 60.5h1M24.5 34.5h1M24.5 48.5h1M24.5 50h1M24.5 57.5h1M24.5 60h1M24.5 61h1M25 39h1M25 40.5h1M25 46.5h1M25 47h1M25 47.5h1M25 48h1M25 49h1M25 50h1M25 50.5h1M25 56h1M25 59.5h1M25 60h1M25.5 46h1M25.5 47.5h1M25.5 50.5h1M25.5 51h1M25.5 52h1M25.5 54h1M25.5 59h1M25.5 60h1M25.5 61h1M26 42.5h1M26 46.5h1M26 47h1M26 51h1M26 51.5h1M26 59.5h1M26 60h1M26.5 24.5h1M26.5 47h1M26.5 52h1M26.5 59h1M26.5 59.5h1M26.5 60h1M27 26.5h1M27 38h1M27 46h1M27 53h1M27 58.5h1M27 59h1M27 59.5h1M27 60h1M27.5 34h1M27.5 35h1M27.5 46.5h1M27.5 47h1M27.5 49.5h1M27.5 58.5h1M27.5 59h1M28 39.5h1M28 44h1M28 47h1M28 53.5h1M28 54.5h1M28 55h1M28 56.5h1M28 58h1M28 58.5h1M28.5 32h1M28.5 33.5h1M28.5 40.5h1M28.5 44h1M28.5 46h1M28.5 46.5h1M28.5 47h1M28.5 53h1M28.5 58h1M28.5 58.5h1M29 30.5h1M29 33h1M29 36h1M29 39h1M29 43h1M29 55h1M29.5 28h1M29.5 34.5h1M29.5 38h1M29.5 41h1M29.5 42.5h1M29.5 43.5h1M29.5 46h1M29.5 52.5h1M29.5 57.5h1M30 35.5h1M30 38h1M30 43h1M30 47.5h1M30 56.5h1M30 57h1M30 57.5h1M30 58h1M30.5 36.5h1M30.5 47.5h1M30.5 53.5h1M31 21.5h1M31 33h1M31 34.5h1M31 42.5h1M31 46.5h1M31 56h1M31 56.5h1M31.5 35.5h1M31.5 40h1M31.5 41.5h1M31.5 42.5h1M31.5 45h1M31.5 48.5h1M31.5 52h1M31.5 56h1M32 36.5h1M32 38.5h1M32 41.5h1M32 42.5h1M32 47.5h1M32 51.5h1M32 54h1M32 54.5h1M32 55h1M32 57h1M32.5 21.5h1M32.5 24.5h1M32.5 33.5h1M32.5 42.5h1M32.5 48h1M32.5 48.5h1M32.5 49h1M32.5 49.5h1M32.5 51.5h1M32.5 53.5h1M32.5 54h1M32.5 54.5h1M32.5 55h1M33 22h1M33 25h1M33 25.5h1M33 28h1M33 32.5h1M33 35h1M33 39.5h1M33 42h1M33 50h1M33 50.5h1M33 51h1M33 51.5h1M33 52h1M33 52.5h1M33 53h1M33 53.5h1M33 54h1M33 54.5h1M33.5 24h1M33.5 24.5h1M33.5 33h1M33.5 36h1M33.5 37h1M33.5 40.5h1M33.5 49h1M33.5 50h1M33.5 50.5h1M33.5 51h1M33.5 52.5h1M33.5 53h1M33.5 53.5h1M34 17h1M34 30h1M34 38.5h1M34 42.5h1M34 43h1M34 43.5h1M34 44h1M34 49h1M34 51h1M34 53h1M34 53.5h1M34.5 35h1M34.5 35.5h1M34.5 40h1M34.5 41.5h1M34.5 43.5h1M34.5 44.5h1M34.5 45.5h1M34.5 48h1M34.5 52.5h1M34.5 54h1M35 21.5h1M35 25h1M35 26h1M35 43.5h1M35 44.5h1M35 45h1M35 45.5h1M35 46h1M35 47h1M35.5 23h1M35.5 26h1M35.5 28.5h1M35.5 29h1M35.5 30.5h1M35.5 37.5h1M35.5 38.5h1M35.5 44.5h1M35.5 46.5h1M36 32.5h1M36 45h1M36.5 15h1M36.5 26h1M36.5 28.5h1M36.5 31.5h1M36.5 34h1M36.5 46h1M36.5 46.5h1M37 14h1M37 15h1M37 25.5h1M37 32.5h1M37 34h1M37 34.5h1M37 35h1M37 37h1M37 37.5h1M37 39.5h1M37 40.5h1M37 47.5h1M37 50h1M37.5 23h1M37.5 25h1M37.5 36.5h1M37.5 39h1M37.5 43h1M37.5 53.5h1M38 33h1M38.5 5.5h1M38.5 7.5h1M39 17.5h1M39 29h1M39.5 24h1M39.5 49h1M40 11.5h1M40 28h1M40 29.5h1M40 31.5h1M40 44h1M40 45h1M40 51.5h1M40.5 14.5h1M40.5 15h1M40.5 18h1M40.5 18.5h1M40.5 28.5h1M40.5 54h1M41 11h1M41 19.5h1M41 21.5h1M41 25.5h1M41 30h1M41 33.5h1M41 34h1M41.5 16h1M41.5 23.5h1M41.5 27h1M41.5 31h1M42 21h1M42 28.5h1M42.5 23.5h1M42.5 24h1M42.5 26h1M42.5 27.5h1M43 10h1M43 20h1M43 41.5h1M43.5 13h1M43.5 22h1M43.5 31h1M44 10.5h1M44 13h1M44 13.5h1M44 14h1M44 17h1M44 20.5h1M44 54.5h1M44.5 10.5h1M45 26h1M46 24.5h1M46 25h1M46.5 11.5h1M46.5 15.5h1M46.5 17h1M47 11h1M50 13.5h1M50 16.5h1M52 23.5h1M53 13.5h1M55 14h1M55 18.5h1M55.5 14.5h1" stroke="#151515" stroke-width="1"/></g><g id="B24"><ellipse cx="24.5" cy="53.5" rx="10.8" ry="6.3" transform="rotate(-25 24.5 53.5)" fill="#151515"/><ellipse cx="31" cy="47" rx="5.9" ry="4" transform="rotate(-60 31 47)" fill="#151515"/><path d="M1.5 59h1M2.5 56h1M3.5 56h1M4.5 54.5h1M5 55h1M5.5 57h1M6.5 44.5h1M6.5 55h1M6.5 56.5h1M6.5 59.5h1M7 51h1M7 54h1M7.5 58h1M8 66.5h1M8.5 56h1M8.5 60.5h1M9.5 57.5h1M9.5 65.5h1M10 57h1M10.5 52h1M10.5 53h1M10.5 56h1M10.5 57.5h1M10.5 59.5h1M10.5 63.5h1M11 50.5h1M11.5 50.5h1M11.5 53h1M11.5 55h1M11.5 57.5h1M12 53h1M12 55.5h1M12 56.5h1M12 64h1M12.5 50.5h1M12.5 51.5h1M12.5 58.5h1M12.5 60h1M13 51.5h1M13 55h1M13 57.5h1M13 58h1M13.5 55h1M13.5 56.5h1M13.5 57h1M14 55h1M14 55.5h1M14 56.5h1M14 58.5h1M14 59h1M14 59.5h1M14 65h1M14.5 53.5h1M14.5 54.5h1M14.5 55h1M14.5 55.5h1M14.5 56h1M14.5 56.5h1M14.5 57.5h1M14.5 58h1M14.5 58.5h1M14.5 59h1M14.5 59.5h1M15 50.5h1M15 52.5h1M15 54.5h1M15 56.5h1M15 57.5h1M15 58h1M15 58.5h1M15 60h1M15 64h1M15.5 51.5h1M15.5 53.5h1M15.5 54h1M15.5 54.5h1M15.5 55h1M15.5 58h1M15.5 59.5h1M15.5 60h1M16 28h1M16 52.5h1M16 53h1M16 54.5h1M16 59.5h1M16 61.5h1M16.5 52h1M16.5 59.5h1M16.5 60h1M16.5 60.5h1M16.5 61h1M17 51h1M17 51.5h1M17 52h1M17 61h1M17.5 50.5h1M17.5 51h1M17.5 57.5h1M17.5 58.5h1M17.5 59h1M17.5 60h1M17.5 60.5h1M17.5 61h1M17.5 61.5h1M18 50h1M18 50.5h1M18 54h1M18 60.5h1M18.5 49.5h1M18.5 51h1M18.5 54.5h1M18.5 55.5h1M18.5 60.5h1M18.5 61h1M19 49h1M19 60.5h1M19 61h1M19.5 48.5h1M19.5 57h1M19.5 61h1M20 48.5h1M20 49h1M20 60.5h1M20.5 48.5h1M21 48.5h1M21 53.5h1M21 61.5h1M21.5 61h1M22 47.5h1M22 48h1M22 61.5h1M22.5 47.5h1M22.5 48h1M22.5 61h1M23 45.5h1M23 46.5h1M23 47h1M23 47.5h1M23 60.5h1M23.5 60.5h1M24 38h1M24 46h1M24 46.5h1M24 47h1M24 60h1M24 60.5h1M24.5 47h1M24.5 60h1M24.5 61h1M25 45.5h1M25 46.5h1M25 47h1M25 60h1M25.5 46.5h1M25.5 60h1M26 45.5h1M26 46.5h1M26 48.5h1M26 49h1M26 60.5h1M26.5 36.5h1M26.5 46.5h1M26.5 48h1M26.5 49h1M26.5 50.5h1M26.5 59.5h1M26.5 60h1M27 45h1M27 46h1M27 46.5h1M27 47.5h1M27 50.5h1M27 59.5h1M27 60h1M27.5 45h1M27.5 45.5h1M27.5 46.5h1M28 43.5h1M28 44h1M28 46.5h1M28 52.5h1M28 59h1M28 59.5h1M28.5 34.5h1M28.5 43h1M28.5 52.5h1M28.5 58.5h1M29 46.5h1M29 58.5h1M29 59h1M29 60h1M29.5 42h1M29.5 42.5h1M29.5 45.5h1M29.5 46h1M29.5 46.5h1M29.5 58h1M29.5 58.5h1M30 34h1M30 42.5h1M30 45.5h1M30 46.5h1M30 52.5h1M30 58.5h1M30.5 33h1M30.5 41.5h1M30.5 45.5h1M30.5 52.5h1M30.5 57h1M30.5 58h1M31 33h1M31 42h1M31 42.5h1M31 57h1M31.5 36.5h1M31.5 37h1M31.5 40.5h1M31.5 41h1M31.5 41.5h1M31.5 45.5h1M31.5 46h1M31.5 52h1M31.5 56h1M32 29h1M32 33h1M32 34h1M32 36h1M32 47h1M32 56.5h1M32.5 24.5h1M32.5 42h1M32.5 46.5h1M32.5 51h1M32.5 51.5h1M32.5 52h1M32.5 56.5h1M33 21h1M33 35h1M33 36h1M33 38h1M33 41h1M33 47h1M33 48h1M33.5 23h1M33.5 26.5h1M33.5 27.5h1M33.5 31.5h1M33.5 33.5h1M33.5 41h1M33.5 47.5h1M33.5 49h1M33.5 50h1M33.5 50.5h1M33.5 53.5h1M33.5 54.5h1M33.5 55h1M34 20h1M34 28h1M34 40h1M34 41.5h1M34 47.5h1M34 48.5h1M34 49h1M34 49.5h1M34 50h1M34 51.5h1M34 52.5h1M34 53h1M34 53.5h1M34 54h1M34 54.5h1M34.5 22.5h1M34.5 29.5h1M34.5 34h1M34.5 38.5h1M34.5 42.5h1M34.5 48h1M34.5 48.5h1M34.5 49h1M34.5 49.5h1M34.5 50h1M34.5 51h1M34.5 51.5h1M34.5 52h1M34.5 53.5h1M35 29h1M35 42h1M35 43h1M35 44h1M35 47.5h1M35 48h1M35 49h1M35 49.5h1M35 50.5h1M35 54h1M35.5 21.5h1M35.5 43.5h1M35.5 44h1M35.5 44.5h1M35.5 45h1M35.5 45.5h1M35.5 46.5h1M35.5 47h1M35.5 48.5h1M35.5 50.5h1M35.5 51h1M35.5 51.5h1M36 30.5h1M36 50h1M36.5 19.5h1M36.5 26.5h1M37 22.5h1M37 28h1M37.5 23h1M37.5 23.5h1M37.5 30h1M37.5 32h1M38 23.5h1M38 24.5h1M38 25.5h1M38 28h1M39 11.5h1M39 17.5h1M39 19h1M39 19.5h1M39.5 22.5h1M39.5 25h1M39.5 27h1M40 30h1M40 31h1M40.5 32h1M42 16.5h1M42 23.5h1M43 28h1" stroke="#151515" stroke-width="1"/></g></defs><use href="#T11" transform="translate(55.5,183.5)"/>
<path d="M89.8 183.5V253.6M55.5 226.5H125.6" stroke="#6e6e6e" stroke-width="1" fill="none"/>
<path d="M53.6 186.3H55.5M54.2 195.67H55.5M54.2 193.31H55.5M54.2 191.63H55.5M54.2 190.33H55.5M54.2 189.27H55.5M54.2 188.38H55.5M54.2 187.6H55.5M54.2 186.91H55.5M53.6 199.7H55.5M54.2 209.07H55.5M54.2 206.71H55.5M54.2 205.03H55.5M54.2 203.73H55.5M54.2 202.67H55.5M54.2 201.78H55.5M54.2 201H55.5M54.2 200.31H55.5M53.6 213.1H55.5M54.2 222.47H55.5M54.2 220.11H55.5M54.2 218.43H55.5M54.2 217.13H55.5M54.2 216.07H55.5M54.2 215.18H55.5M54.2 214.4H55.5M54.2 213.71H55.5M53.6 226.5H55.5M54.2 235.87H55.5M54.2 233.51H55.5M54.2 231.83H55.5M54.2 230.53H55.5M54.2 229.47H55.5M54.2 228.58H55.5M54.2 227.8H55.5M54.2 227.11H55.5M53.6 239.9H55.5M54.2 249.27H55.5M54.2 246.91H55.5M54.2 245.23H55.5M54.2 243.93H55.5M54.2 242.87H55.5M54.2 241.98H55.5M54.2 241.2H55.5M54.2 240.51H55.5M53.6 253.3H55.5M58.5 253.6V255.5M74.5 253.6V255.5M90.2 253.6V255.5M111.8 253.6V255.5M96.7 253.6V254.9M118.3 253.6V254.9M100.51 253.6V254.9M122.11 253.6V254.9M103.2 253.6V254.9M124.8 253.6V254.9M105.3 253.6V254.9M107.01 253.6V254.9M108.45 253.6V254.9M109.71 253.6V254.9M110.81 253.6V254.9M61.5 253.6V254.9M64.5 253.6V254.9M66.5 253.6V254.9M68.5 253.6V254.9M70.5 253.6V254.9M72.5 253.6V254.9M76.5 253.6V254.9M78.5 253.6V254.9M80.5 253.6V254.9M82.5 253.6V254.9M84.5 253.6V254.9M86.5 253.6V254.9M88.5 253.6V254.9" stroke="#111" stroke-width="0.9" fill="none"/>
<rect x="55.5" y="183.5" width="70.1" height="70.1" fill="none" stroke="#111" stroke-width="1.15"/>
<text x="51.2" y="188.4" font-size="6" text-anchor="end" fill="#111" class="t">10<tspan font-size="3.6" dy="-2.3">7</tspan></text>
<text x="51.2" y="201.8" font-size="6" text-anchor="end" fill="#111" class="t">10<tspan font-size="3.6" dy="-2.3">6</tspan></text>
<text x="51.2" y="215.2" font-size="6" text-anchor="end" fill="#111" class="t">10<tspan font-size="3.6" dy="-2.3">5</tspan></text>
<text x="51.2" y="228.6" font-size="6" text-anchor="end" fill="#111" class="t">10<tspan font-size="3.6" dy="-2.3">4</tspan></text>
<text x="51.2" y="242" font-size="6" text-anchor="end" fill="#111" class="t">10<tspan font-size="3.6" dy="-2.3">3</tspan></text>
<text x="51.2" y="255.4" font-size="6" text-anchor="end" fill="#111" class="t">10<tspan font-size="3.6" dy="-2.3">2</tspan></text>
<text x="58.1" y="262.6" font-size="6" text-anchor="middle" fill="#111" class="t">&#8722;10<tspan font-size="3.6" dy="-2.3">4</tspan></text>
<text x="74.5" y="262.6" font-size="6" text-anchor="middle" fill="#111" class="t">0</text>
<text x="90.8" y="262.6" font-size="6" text-anchor="middle" fill="#111" class="t">10<tspan font-size="3.6" dy="-2.3">4</tspan></text>
<text x="112.4" y="262.6" font-size="6" text-anchor="middle" fill="#111" class="t">10<tspan font-size="3.6" dy="-2.3">5</tspan></text>
<g class="q" font-size="4.9" fill="#8a8a8a"><text x="58.1" y="189.8">Q27</text><text x="58.1" y="195.8">0.28</text><text x="123" y="189.8" text-anchor="end">Q26</text><text x="123" y="195.8" text-anchor="end">0.079</text><text x="58.1" y="244.3">Q28</text><text x="58.1" y="251.1">99.1</text><text x="123" y="244.3" text-anchor="end">Q25</text><text x="123" y="251.1" text-anchor="end">0.54</text></g>
<use href="#T12" transform="translate(146.7,183.5)"/>
<path d="M181 183.5V253.6M146.7 226.5H217.4" stroke="#6e6e6e" stroke-width="1" fill="none"/>
<path d="M144.8 186.3H146.7M145.4 195.67H146.7M145.4 193.31H146.7M145.4 191.63H146.7M145.4 190.33H146.7M145.4 189.27H146.7M145.4 188.38H146.7M145.4 187.6H146.7M145.4 186.91H146.7M144.8 199.7H146.7M145.4 209.07H146.7M145.4 206.71H146.7M145.4 205.03H146.7M145.4 203.73H146.7M145.4 202.67H146.7M145.4 201.78H146.7M145.4 201H146.7M145.4 200.31H146.7M144.8 213.1H146.7M145.4 222.47H146.7M145.4 220.11H146.7M145.4 218.43H146.7M145.4 217.13H146.7M145.4 216.07H146.7M145.4 215.18H146.7M145.4 214.4H146.7M145.4 213.71H146.7M144.8 226.5H146.7M145.4 235.87H146.7M145.4 233.51H146.7M145.4 231.83H146.7M145.4 230.53H146.7M145.4 229.47H146.7M145.4 228.58H146.7M145.4 227.8H146.7M145.4 227.11H146.7M144.8 239.9H146.7M145.4 249.27H146.7M145.4 246.91H146.7M145.4 245.23H146.7M145.4 243.93H146.7M145.4 242.87H146.7M145.4 241.98H146.7M145.4 241.2H146.7M145.4 240.51H146.7M144.8 253.3H146.7M149.7 253.6V255.5M165.7 253.6V255.5M181.4 253.6V255.5M203 253.6V255.5M187.9 253.6V254.9M209.5 253.6V254.9M191.71 253.6V254.9M213.31 253.6V254.9M194.4 253.6V254.9M216 253.6V254.9M196.5 253.6V254.9M198.21 253.6V254.9M199.65 253.6V254.9M200.91 253.6V254.9M202.01 253.6V254.9M152.7 253.6V254.9M155.7 253.6V254.9M157.7 253.6V254.9M159.7 253.6V254.9M161.7 253.6V254.9M163.7 253.6V254.9M167.7 253.6V254.9M169.7 253.6V254.9M171.7 253.6V254.9M173.7 253.6V254.9M175.7 253.6V254.9M177.7 253.6V254.9M179.7 253.6V254.9" stroke="#111" stroke-width="0.9" fill="none"/>
<rect x="146.7" y="183.5" width="70.7" height="70.1" fill="none" stroke="#111" stroke-width="1.15"/>
<text x="142.4" y="188.4" font-size="6" text-anchor="end" fill="#111" class="t">10<tspan font-size="3.6" dy="-2.3">7</tspan></text>
<text x="142.4" y="201.8" font-size="6" text-anchor="end" fill="#111" class="t">10<tspan font-size="3.6" dy="-2.3">6</tspan></text>
<text x="142.4" y="215.2" font-size="6" text-anchor="end" fill="#111" class="t">10<tspan font-size="3.6" dy="-2.3">5</tspan></text>
<text x="142.4" y="228.6" font-size="6" text-anchor="end" fill="#111" class="t">10<tspan font-size="3.6" dy="-2.3">4</tspan></text>
<text x="142.4" y="242" font-size="6" text-anchor="end" fill="#111" class="t">10<tspan font-size="3.6" dy="-2.3">3</tspan></text>
<text x="142.4" y="255.4" font-size="6" text-anchor="end" fill="#111" class="t">10<tspan font-size="3.6" dy="-2.3">2</tspan></text>
<text x="149.3" y="262.6" font-size="6" text-anchor="middle" fill="#111" class="t">&#8722;10<tspan font-size="3.6" dy="-2.3">4</tspan></text>
<text x="165.7" y="262.6" font-size="6" text-anchor="middle" fill="#111" class="t">0</text>
<text x="182" y="262.6" font-size="6" text-anchor="middle" fill="#111" class="t">10<tspan font-size="3.6" dy="-2.3">4</tspan></text>
<text x="203.6" y="262.6" font-size="6" text-anchor="middle" fill="#111" class="t">10<tspan font-size="3.6" dy="-2.3">5</tspan></text>
<g class="q" font-size="4.9" fill="#8a8a8a"><text x="149.3" y="189.8">Q27</text><text x="149.3" y="195.8">2.29</text><text x="214.8" y="189.8" text-anchor="end">Q26</text><text x="214.8" y="195.8" text-anchor="end">0.81</text><text x="149.3" y="244.3">Q28</text><text x="149.3" y="251.1">96.4</text><text x="214.8" y="244.3" text-anchor="end">Q25</text><text x="214.8" y="251.1" text-anchor="end">0.46</text></g>
<use href="#T13" transform="translate(241.8,183.5)"/>
<path d="M276.1 183.5V253.4M241.8 226.5H311.7" stroke="#6e6e6e" stroke-width="1" fill="none"/>
<path d="M239.9 186.3H241.8M240.5 195.67H241.8M240.5 193.31H241.8M240.5 191.63H241.8M240.5 190.33H241.8M240.5 189.27H241.8M240.5 188.38H241.8M240.5 187.6H241.8M240.5 186.91H241.8M239.9 199.7H241.8M240.5 209.07H241.8M240.5 206.71H241.8M240.5 205.03H241.8M240.5 203.73H241.8M240.5 202.67H241.8M240.5 201.78H241.8M240.5 201H241.8M240.5 200.31H241.8M239.9 213.1H241.8M240.5 222.47H241.8M240.5 220.11H241.8M240.5 218.43H241.8M240.5 217.13H241.8M240.5 216.07H241.8M240.5 215.18H241.8M240.5 214.4H241.8M240.5 213.71H241.8M239.9 226.5H241.8M240.5 235.87H241.8M240.5 233.51H241.8M240.5 231.83H241.8M240.5 230.53H241.8M240.5 229.47H241.8M240.5 228.58H241.8M240.5 227.8H241.8M240.5 227.11H241.8M239.9 239.9H241.8M240.5 249.27H241.8M240.5 246.91H241.8M240.5 245.23H241.8M240.5 243.93H241.8M240.5 242.87H241.8M240.5 241.98H241.8M240.5 241.2H241.8M240.5 240.51H241.8M239.9 253.3H241.8M244.8 253.4V255.3M260.8 253.4V255.3M276.5 253.4V255.3M298.1 253.4V255.3M283 253.4V254.7M304.6 253.4V254.7M286.81 253.4V254.7M308.41 253.4V254.7M289.5 253.4V254.7M311.1 253.4V254.7M291.6 253.4V254.7M293.31 253.4V254.7M294.75 253.4V254.7M296.01 253.4V254.7M297.11 253.4V254.7M247.8 253.4V254.7M250.8 253.4V254.7M252.8 253.4V254.7M254.8 253.4V254.7M256.8 253.4V254.7M258.8 253.4V254.7M262.8 253.4V254.7M264.8 253.4V254.7M266.8 253.4V254.7M268.8 253.4V254.7M270.8 253.4V254.7M272.8 253.4V254.7M274.8 253.4V254.7" stroke="#111" stroke-width="0.9" fill="none"/>
<rect x="241.8" y="183.5" width="69.9" height="69.9" fill="none" stroke="#111" stroke-width="1.15"/>
<text x="237.5" y="188.4" font-size="6" text-anchor="end" fill="#111" class="t">10<tspan font-size="3.6" dy="-2.3">7</tspan></text>
<text x="237.5" y="201.8" font-size="6" text-anchor="end" fill="#111" class="t">10<tspan font-size="3.6" dy="-2.3">6</tspan></text>
<text x="237.5" y="215.2" font-size="6" text-anchor="end" fill="#111" class="t">10<tspan font-size="3.6" dy="-2.3">5</tspan></text>
<text x="237.5" y="228.6" font-size="6" text-anchor="end" fill="#111" class="t">10<tspan font-size="3.6" dy="-2.3">4</tspan></text>
<text x="237.5" y="242" font-size="6" text-anchor="end" fill="#111" class="t">10<tspan font-size="3.6" dy="-2.3">3</tspan></text>
<text x="237.5" y="255.4" font-size="6" text-anchor="end" fill="#111" class="t">10<tspan font-size="3.6" dy="-2.3">2</tspan></text>
<text x="244.4" y="262.4" font-size="6" text-anchor="middle" fill="#111" class="t">&#8722;10<tspan font-size="3.6" dy="-2.3">4</tspan></text>
<text x="260.8" y="262.4" font-size="6" text-anchor="middle" fill="#111" class="t">0</text>
<text x="277.1" y="262.4" font-size="6" text-anchor="middle" fill="#111" class="t">10<tspan font-size="3.6" dy="-2.3">4</tspan></text>
<text x="298.7" y="262.4" font-size="6" text-anchor="middle" fill="#111" class="t">10<tspan font-size="3.6" dy="-2.3">5</tspan></text>
<g class="q" font-size="4.9" fill="#8a8a8a"><text x="244.4" y="189.8">Q27</text><text x="244.4" y="195.8">3.87</text><text x="309.1" y="189.8" text-anchor="end">Q26</text><text x="309.1" y="195.8" text-anchor="end">4.12</text><text x="244.4" y="244.1">Q28</text><text x="244.4" y="250.9">91.7</text><text x="309.1" y="244.1" text-anchor="end">Q25</text><text x="309.1" y="250.9" text-anchor="end">0.32</text></g>
<use href="#T14" transform="translate(338.7,183.3)"/>
<path d="M373 183.3V253.3M338.7 226.3H408.8" stroke="#6e6e6e" stroke-width="1" fill="none"/>
<path d="M336.8 186.1H338.7M337.4 195.47H338.7M337.4 193.11H338.7M337.4 191.43H338.7M337.4 190.13H338.7M337.4 189.07H338.7M337.4 188.18H338.7M337.4 187.4H338.7M337.4 186.71H338.7M336.8 199.5H338.7M337.4 208.87H338.7M337.4 206.51H338.7M337.4 204.83H338.7M337.4 203.53H338.7M337.4 202.47H338.7M337.4 201.58H338.7M337.4 200.8H338.7M337.4 200.11H338.7M336.8 212.9H338.7M337.4 222.27H338.7M337.4 219.91H338.7M337.4 218.23H338.7M337.4 216.93H338.7M337.4 215.87H338.7M337.4 214.98H338.7M337.4 214.2H338.7M337.4 213.51H338.7M336.8 226.3H338.7M337.4 235.67H338.7M337.4 233.31H338.7M337.4 231.63H338.7M337.4 230.33H338.7M337.4 229.27H338.7M337.4 228.38H338.7M337.4 227.6H338.7M337.4 226.91H338.7M336.8 239.7H338.7M337.4 249.07H338.7M337.4 246.71H338.7M337.4 245.03H338.7M337.4 243.73H338.7M337.4 242.67H338.7M337.4 241.78H338.7M337.4 241H338.7M337.4 240.31H338.7M336.8 253.1H338.7M341.7 253.3V255.2M357.7 253.3V255.2M373.4 253.3V255.2M395 253.3V255.2M379.9 253.3V254.6M401.5 253.3V254.6M383.71 253.3V254.6M405.31 253.3V254.6M386.4 253.3V254.6M408 253.3V254.6M388.5 253.3V254.6M390.21 253.3V254.6M391.65 253.3V254.6M392.91 253.3V254.6M394.01 253.3V254.6M344.7 253.3V254.6M347.7 253.3V254.6M349.7 253.3V254.6M351.7 253.3V254.6M353.7 253.3V254.6M355.7 253.3V254.6M359.7 253.3V254.6M361.7 253.3V254.6M363.7 253.3V254.6M365.7 253.3V254.6M367.7 253.3V254.6M369.7 253.3V254.6M371.7 253.3V254.6" stroke="#111" stroke-width="0.9" fill="none"/>
<rect x="338.7" y="183.3" width="70.1" height="70" fill="none" stroke="#111" stroke-width="1.15"/>
<text x="334.4" y="188.2" font-size="6" text-anchor="end" fill="#111" class="t">10<tspan font-size="3.6" dy="-2.3">7</tspan></text>
<text x="334.4" y="201.6" font-size="6" text-anchor="end" fill="#111" class="t">10<tspan font-size="3.6" dy="-2.3">6</tspan></text>
<text x="334.4" y="215" font-size="6" text-anchor="end" fill="#111" class="t">10<tspan font-size="3.6" dy="-2.3">5</tspan></text>
<text x="334.4" y="228.4" font-size="6" text-anchor="end" fill="#111" class="t">10<tspan font-size="3.6" dy="-2.3">4</tspan></text>
<text x="334.4" y="241.8" font-size="6" text-anchor="end" fill="#111" class="t">10<tspan font-size="3.6" dy="-2.3">3</tspan></text>
<text x="334.4" y="255.2" font-size="6" text-anchor="end" fill="#111" class="t">10<tspan font-size="3.6" dy="-2.3">2</tspan></text>
<text x="341.3" y="262.3" font-size="6" text-anchor="middle" fill="#111" class="t">&#8722;10<tspan font-size="3.6" dy="-2.3">4</tspan></text>
<text x="357.7" y="262.3" font-size="6" text-anchor="middle" fill="#111" class="t">0</text>
<text x="374" y="262.3" font-size="6" text-anchor="middle" fill="#111" class="t">10<tspan font-size="3.6" dy="-2.3">4</tspan></text>
<text x="395.6" y="262.3" font-size="6" text-anchor="middle" fill="#111" class="t">10<tspan font-size="3.6" dy="-2.3">5</tspan></text>
<g class="q" font-size="4.9" fill="#8a8a8a"><text x="341.3" y="189.6">Q27</text><text x="341.3" y="195.6">1.48</text><text x="406.2" y="189.6" text-anchor="end">Q26</text><text x="406.2" y="195.6" text-anchor="end">1.11</text><text x="341.3" y="244">Q28</text><text x="341.3" y="250.8">96.4</text><text x="406.2" y="244" text-anchor="end">Q25</text><text x="406.2" y="250.8" text-anchor="end">0.98</text></g>
<use href="#T21" transform="translate(55.5,268)"/>
<path d="M89.8 268V338M55.5 311H125.6" stroke="#6e6e6e" stroke-width="1" fill="none"/>
<path d="M53.6 270.8H55.5M54.2 280.17H55.5M54.2 277.81H55.5M54.2 276.13H55.5M54.2 274.83H55.5M54.2 273.77H55.5M54.2 272.88H55.5M54.2 272.1H55.5M54.2 271.41H55.5M53.6 284.2H55.5M54.2 293.57H55.5M54.2 291.21H55.5M54.2 289.53H55.5M54.2 288.23H55.5M54.2 287.17H55.5M54.2 286.28H55.5M54.2 285.5H55.5M54.2 284.81H55.5M53.6 297.6H55.5M54.2 306.97H55.5M54.2 304.61H55.5M54.2 302.93H55.5M54.2 301.63H55.5M54.2 300.57H55.5M54.2 299.68H55.5M54.2 298.9H55.5M54.2 298.21H55.5M53.6 311H55.5M54.2 320.37H55.5M54.2 318.01H55.5M54.2 316.33H55.5M54.2 315.03H55.5M54.2 313.97H55.5M54.2 313.08H55.5M54.2 312.3H55.5M54.2 311.61H55.5M53.6 324.4H55.5M54.2 333.77H55.5M54.2 331.41H55.5M54.2 329.73H55.5M54.2 328.43H55.5M54.2 327.37H55.5M54.2 326.48H55.5M54.2 325.7H55.5M54.2 325.01H55.5M53.6 337.8H55.5M58.5 338V339.9M74.5 338V339.9M90.2 338V339.9M111.8 338V339.9M96.7 338V339.3M118.3 338V339.3M100.51 338V339.3M122.11 338V339.3M103.2 338V339.3M124.8 338V339.3M105.3 338V339.3M107.01 338V339.3M108.45 338V339.3M109.71 338V339.3M110.81 338V339.3M61.5 338V339.3M64.5 338V339.3M66.5 338V339.3M68.5 338V339.3M70.5 338V339.3M72.5 338V339.3M76.5 338V339.3M78.5 338V339.3M80.5 338V339.3M82.5 338V339.3M84.5 338V339.3M86.5 338V339.3M88.5 338V339.3" stroke="#111" stroke-width="0.9" fill="none"/>
<rect x="55.5" y="268" width="70.1" height="70" fill="none" stroke="#111" stroke-width="1.15"/>
<text x="51.2" y="272.9" font-size="6" text-anchor="end" fill="#111" class="t">10<tspan font-size="3.6" dy="-2.3">7</tspan></text>
<text x="51.2" y="286.3" font-size="6" text-anchor="end" fill="#111" class="t">10<tspan font-size="3.6" dy="-2.3">6</tspan></text>
<text x="51.2" y="299.7" font-size="6" text-anchor="end" fill="#111" class="t">10<tspan font-size="3.6" dy="-2.3">5</tspan></text>
<text x="51.2" y="313.1" font-size="6" text-anchor="end" fill="#111" class="t">10<tspan font-size="3.6" dy="-2.3">4</tspan></text>
<text x="51.2" y="326.5" font-size="6" text-anchor="end" fill="#111" class="t">10<tspan font-size="3.6" dy="-2.3">3</tspan></text>
<text x="51.2" y="339.9" font-size="6" text-anchor="end" fill="#111" class="t">10<tspan font-size="3.6" dy="-2.3">2</tspan></text>
<text x="58.1" y="347" font-size="6" text-anchor="middle" fill="#111" class="t">&#8722;10<tspan font-size="3.6" dy="-2.3">4</tspan></text>
<text x="74.5" y="347" font-size="6" text-anchor="middle" fill="#111" class="t">0</text>
<text x="90.8" y="347" font-size="6" text-anchor="middle" fill="#111" class="t">10<tspan font-size="3.6" dy="-2.3">4</tspan></text>
<text x="112.4" y="347" font-size="6" text-anchor="middle" fill="#111" class="t">10<tspan font-size="3.6" dy="-2.3">5</tspan></text>
<g class="q" font-size="4.9" fill="#8a8a8a"><text x="58.1" y="274.3">Q27</text><text x="58.1" y="280.3">1.57</text><text x="123" y="274.3" text-anchor="end">Q26</text><text x="123" y="280.3" text-anchor="end">0.19</text><text x="58.1" y="328.7">Q28</text><text x="58.1" y="335.5">97.6</text><text x="123" y="328.7" text-anchor="end">Q25</text><text x="123" y="335.5" text-anchor="end">0.73</text></g>
<use href="#T22" transform="translate(146.7,268.2)"/>
<path d="M181 268.2V338M146.7 311.2H217" stroke="#6e6e6e" stroke-width="1" fill="none"/>
<path d="M144.8 271H146.7M145.4 280.37H146.7M145.4 278.01H146.7M145.4 276.33H146.7M145.4 275.03H146.7M145.4 273.97H146.7M145.4 273.08H146.7M145.4 272.3H146.7M145.4 271.61H146.7M144.8 284.4H146.7M145.4 293.77H146.7M145.4 291.41H146.7M145.4 289.73H146.7M145.4 288.43H146.7M145.4 287.37H146.7M145.4 286.48H146.7M145.4 285.7H146.7M145.4 285.01H146.7M144.8 297.8H146.7M145.4 307.17H146.7M145.4 304.81H146.7M145.4 303.13H146.7M145.4 301.83H146.7M145.4 300.77H146.7M145.4 299.88H146.7M145.4 299.1H146.7M145.4 298.41H146.7M144.8 311.2H146.7M145.4 320.57H146.7M145.4 318.21H146.7M145.4 316.53H146.7M145.4 315.23H146.7M145.4 314.17H146.7M145.4 313.28H146.7M145.4 312.5H146.7M145.4 311.81H146.7M144.8 324.6H146.7M145.4 333.97H146.7M145.4 331.61H146.7M145.4 329.93H146.7M145.4 328.63H146.7M145.4 327.57H146.7M145.4 326.68H146.7M145.4 325.9H146.7M145.4 325.21H146.7M144.8 338H146.7M149.7 338V339.9M165.7 338V339.9M181.4 338V339.9M203 338V339.9M187.9 338V339.3M209.5 338V339.3M191.71 338V339.3M213.31 338V339.3M194.4 338V339.3M216 338V339.3M196.5 338V339.3M198.21 338V339.3M199.65 338V339.3M200.91 338V339.3M202.01 338V339.3M152.7 338V339.3M155.7 338V339.3M157.7 338V339.3M159.7 338V339.3M161.7 338V339.3M163.7 338V339.3M167.7 338V339.3M169.7 338V339.3M171.7 338V339.3M173.7 338V339.3M175.7 338V339.3M177.7 338V339.3M179.7 338V339.3" stroke="#111" stroke-width="0.9" fill="none"/>
<rect x="146.7" y="268.2" width="70.3" height="69.8" fill="none" stroke="#111" stroke-width="1.15"/>
<text x="142.4" y="273.1" font-size="6" text-anchor="end" fill="#111" class="t">10<tspan font-size="3.6" dy="-2.3">7</tspan></text>
<text x="142.4" y="286.5" font-size="6" text-anchor="end" fill="#111" class="t">10<tspan font-size="3.6" dy="-2.3">6</tspan></text>
<text x="142.4" y="299.9" font-size="6" text-anchor="end" fill="#111" class="t">10<tspan font-size="3.6" dy="-2.3">5</tspan></text>
<text x="142.4" y="313.3" font-size="6" text-anchor="end" fill="#111" class="t">10<tspan font-size="3.6" dy="-2.3">4</tspan></text>
<text x="142.4" y="326.7" font-size="6" text-anchor="end" fill="#111" class="t">10<tspan font-size="3.6" dy="-2.3">3</tspan></text>
<text x="142.4" y="340.1" font-size="6" text-anchor="end" fill="#111" class="t">10<tspan font-size="3.6" dy="-2.3">2</tspan></text>
<text x="149.3" y="347" font-size="6" text-anchor="middle" fill="#111" class="t">&#8722;10<tspan font-size="3.6" dy="-2.3">4</tspan></text>
<text x="165.7" y="347" font-size="6" text-anchor="middle" fill="#111" class="t">0</text>
<text x="182" y="347" font-size="6" text-anchor="middle" fill="#111" class="t">10<tspan font-size="3.6" dy="-2.3">4</tspan></text>
<text x="203.6" y="347" font-size="6" text-anchor="middle" fill="#111" class="t">10<tspan font-size="3.6" dy="-2.3">5</tspan></text>
<g class="q" font-size="4.9" fill="#8a8a8a"><text x="149.3" y="274.5">Q27</text><text x="149.3" y="280.5">2.89</text><text x="214.4" y="274.5" text-anchor="end">Q26</text><text x="214.4" y="280.5" text-anchor="end">0.68</text><text x="149.3" y="328.7">Q28</text><text x="149.3" y="335.5">95.8</text><text x="214.4" y="328.7" text-anchor="end">Q25</text><text x="214.4" y="335.5" text-anchor="end">0.94</text></g>
<use href="#T23" transform="translate(243.5,268.6)"/>
<path d="M277.8 268.6V338M243.5 311.6H313.5" stroke="#6e6e6e" stroke-width="1" fill="none"/>
<path d="M241.6 271.4H243.5M242.2 280.77H243.5M242.2 278.41H243.5M242.2 276.73H243.5M242.2 275.43H243.5M242.2 274.37H243.5M242.2 273.48H243.5M242.2 272.7H243.5M242.2 272.01H243.5M241.6 284.8H243.5M242.2 294.17H243.5M242.2 291.81H243.5M242.2 290.13H243.5M242.2 288.83H243.5M242.2 287.77H243.5M242.2 286.88H243.5M242.2 286.1H243.5M242.2 285.41H243.5M241.6 298.2H243.5M242.2 307.57H243.5M242.2 305.21H243.5M242.2 303.53H243.5M242.2 302.23H243.5M242.2 301.17H243.5M242.2 300.28H243.5M242.2 299.5H243.5M242.2 298.81H243.5M241.6 311.6H243.5M242.2 320.97H243.5M242.2 318.61H243.5M242.2 316.93H243.5M242.2 315.63H243.5M242.2 314.57H243.5M242.2 313.68H243.5M242.2 312.9H243.5M242.2 312.21H243.5M241.6 325H243.5M242.2 334.37H243.5M242.2 332.01H243.5M242.2 330.33H243.5M242.2 329.03H243.5M242.2 327.97H243.5M242.2 327.08H243.5M242.2 326.3H243.5M242.2 325.61H243.5M241.6 338.4H243.5M246.5 338V339.9M262.5 338V339.9M278.2 338V339.9M299.8 338V339.9M284.7 338V339.3M306.3 338V339.3M288.51 338V339.3M310.11 338V339.3M291.2 338V339.3M312.8 338V339.3M293.3 338V339.3M295.01 338V339.3M296.45 338V339.3M297.71 338V339.3M298.81 338V339.3M249.5 338V339.3M252.5 338V339.3M254.5 338V339.3M256.5 338V339.3M258.5 338V339.3M260.5 338V339.3M264.5 338V339.3M266.5 338V339.3M268.5 338V339.3M270.5 338V339.3M272.5 338V339.3M274.5 338V339.3M276.5 338V339.3" stroke="#111" stroke-width="0.9" fill="none"/>
<rect x="243.5" y="268.6" width="70" height="69.4" fill="none" stroke="#111" stroke-width="1.15"/>
<text x="239.2" y="273.5" font-size="6" text-anchor="end" fill="#111" class="t">10<tspan font-size="3.6" dy="-2.3">7</tspan></text>
<text x="239.2" y="286.9" font-size="6" text-anchor="end" fill="#111" class="t">10<tspan font-size="3.6" dy="-2.3">6</tspan></text>
<text x="239.2" y="300.3" font-size="6" text-anchor="end" fill="#111" class="t">10<tspan font-size="3.6" dy="-2.3">5</tspan></text>
<text x="239.2" y="313.7" font-size="6" text-anchor="end" fill="#111" class="t">10<tspan font-size="3.6" dy="-2.3">4</tspan></text>
<text x="239.2" y="327.1" font-size="6" text-anchor="end" fill="#111" class="t">10<tspan font-size="3.6" dy="-2.3">3</tspan></text>
<text x="239.2" y="340.5" font-size="6" text-anchor="end" fill="#111" class="t">10<tspan font-size="3.6" dy="-2.3">2</tspan></text>
<text x="246.1" y="347" font-size="6" text-anchor="middle" fill="#111" class="t">&#8722;10<tspan font-size="3.6" dy="-2.3">4</tspan></text>
<text x="262.5" y="347" font-size="6" text-anchor="middle" fill="#111" class="t">0</text>
<text x="278.8" y="347" font-size="6" text-anchor="middle" fill="#111" class="t">10<tspan font-size="3.6" dy="-2.3">4</tspan></text>
<text x="300.4" y="347" font-size="6" text-anchor="middle" fill="#111" class="t">10<tspan font-size="3.6" dy="-2.3">5</tspan></text>
<g class="q" font-size="4.9" fill="#8a8a8a"><text x="246.1" y="274.9">Q27</text><text x="246.1" y="280.9">2.41</text><text x="310.9" y="274.9" text-anchor="end">Q26</text><text x="310.9" y="280.9" text-anchor="end">1.40</text><text x="246.1" y="328.7">Q28</text><text x="246.1" y="335.5">95.3</text><text x="310.9" y="328.7" text-anchor="end">Q25</text><text x="310.9" y="335.5" text-anchor="end">0.86</text></g>
<use href="#T24" transform="translate(340.2,267.4)"/>
<path d="M374.5 267.4V337.5M340.2 310.4H410.2" stroke="#6e6e6e" stroke-width="1" fill="none"/>
<path d="M338.3 270.2H340.2M338.9 279.57H340.2M338.9 277.21H340.2M338.9 275.53H340.2M338.9 274.23H340.2M338.9 273.17H340.2M338.9 272.28H340.2M338.9 271.5H340.2M338.9 270.81H340.2M338.3 283.6H340.2M338.9 292.97H340.2M338.9 290.61H340.2M338.9 288.93H340.2M338.9 287.63H340.2M338.9 286.57H340.2M338.9 285.68H340.2M338.9 284.9H340.2M338.9 284.21H340.2M338.3 297H340.2M338.9 306.37H340.2M338.9 304.01H340.2M338.9 302.33H340.2M338.9 301.03H340.2M338.9 299.97H340.2M338.9 299.08H340.2M338.9 298.3H340.2M338.9 297.61H340.2M338.3 310.4H340.2M338.9 319.77H340.2M338.9 317.41H340.2M338.9 315.73H340.2M338.9 314.43H340.2M338.9 313.37H340.2M338.9 312.48H340.2M338.9 311.7H340.2M338.9 311.01H340.2M338.3 323.8H340.2M338.9 333.17H340.2M338.9 330.81H340.2M338.9 329.13H340.2M338.9 327.83H340.2M338.9 326.77H340.2M338.9 325.88H340.2M338.9 325.1H340.2M338.9 324.41H340.2M338.3 337.2H340.2M343.2 337.5V339.4M359.2 337.5V339.4M374.9 337.5V339.4M396.5 337.5V339.4M381.4 337.5V338.8M403 337.5V338.8M385.21 337.5V338.8M406.81 337.5V338.8M387.9 337.5V338.8M409.5 337.5V338.8M390 337.5V338.8M391.71 337.5V338.8M393.15 337.5V338.8M394.41 337.5V338.8M395.51 337.5V338.8M346.2 337.5V338.8M349.2 337.5V338.8M351.2 337.5V338.8M353.2 337.5V338.8M355.2 337.5V338.8M357.2 337.5V338.8M361.2 337.5V338.8M363.2 337.5V338.8M365.2 337.5V338.8M367.2 337.5V338.8M369.2 337.5V338.8M371.2 337.5V338.8M373.2 337.5V338.8" stroke="#111" stroke-width="0.9" fill="none"/>
<rect x="340.2" y="267.4" width="70" height="70.1" fill="none" stroke="#111" stroke-width="1.15"/>
<text x="335.9" y="272.3" font-size="6" text-anchor="end" fill="#111" class="t">10<tspan font-size="3.6" dy="-2.3">7</tspan></text>
<text x="335.9" y="285.7" font-size="6" text-anchor="end" fill="#111" class="t">10<tspan font-size="3.6" dy="-2.3">6</tspan></text>
<text x="335.9" y="299.1" font-size="6" text-anchor="end" fill="#111" class="t">10<tspan font-size="3.6" dy="-2.3">5</tspan></text>
<text x="335.9" y="312.5" font-size="6" text-anchor="end" fill="#111" class="t">10<tspan font-size="3.6" dy="-2.3">4</tspan></text>
<text x="335.9" y="325.9" font-size="6" text-anchor="end" fill="#111" class="t">10<tspan font-size="3.6" dy="-2.3">3</tspan></text>
<text x="335.9" y="339.3" font-size="6" text-anchor="end" fill="#111" class="t">10<tspan font-size="3.6" dy="-2.3">2</tspan></text>
<text x="342.8" y="346.5" font-size="6" text-anchor="middle" fill="#111" class="t">&#8722;10<tspan font-size="3.6" dy="-2.3">4</tspan></text>
<text x="359.2" y="346.5" font-size="6" text-anchor="middle" fill="#111" class="t">0</text>
<text x="375.5" y="346.5" font-size="6" text-anchor="middle" fill="#111" class="t">10<tspan font-size="3.6" dy="-2.3">4</tspan></text>
<text x="397.1" y="346.5" font-size="6" text-anchor="middle" fill="#111" class="t">10<tspan font-size="3.6" dy="-2.3">5</tspan></text>
<g class="q" font-size="4.9" fill="#8a8a8a"><text x="342.8" y="273.7">Q27</text><text x="342.8" y="279.7">1.61</text><text x="407.6" y="273.7" text-anchor="end">Q26</text><text x="407.6" y="279.7" text-anchor="end">0.31</text><text x="342.8" y="328.2">Q28</text><text x="342.8" y="335">96.5</text><text x="407.6" y="328.2" text-anchor="end">Q25</text><text x="407.6" y="335" text-anchor="end">1.59</text></g>
<use href="#B11" transform="translate(55.4,378.5)"/>
<path d="M89.8 378.5V448M55.4 418.7H125.4" stroke="#6e6e6e" stroke-width="1" fill="none"/>
<path d="M53.5 381.3H55.4M54.1 390.67H55.4M54.1 388.31H55.4M54.1 386.63H55.4M54.1 385.33H55.4M54.1 384.27H55.4M54.1 383.38H55.4M54.1 382.6H55.4M54.1 381.91H55.4M53.5 394.7H55.4M54.1 404.07H55.4M54.1 401.71H55.4M54.1 400.03H55.4M54.1 398.73H55.4M54.1 397.67H55.4M54.1 396.78H55.4M54.1 396H55.4M54.1 395.31H55.4M53.5 408.1H55.4M54.1 417.47H55.4M54.1 415.11H55.4M54.1 413.43H55.4M54.1 412.13H55.4M54.1 411.07H55.4M54.1 410.18H55.4M54.1 409.4H55.4M54.1 408.71H55.4M53.5 421.5H55.4M54.1 430.87H55.4M54.1 428.51H55.4M54.1 426.83H55.4M54.1 425.53H55.4M54.1 424.47H55.4M54.1 423.58H55.4M54.1 422.8H55.4M54.1 422.11H55.4M53.5 434.9H55.4M54.1 444.27H55.4M54.1 441.91H55.4M54.1 440.23H55.4M54.1 438.93H55.4M54.1 437.87H55.4M54.1 436.98H55.4M54.1 436.2H55.4M54.1 435.51H55.4M53.5 448.3H55.4M58.4 448V449.9M74.4 448V449.9M90.1 448V449.9M111.7 448V449.9M96.6 448V449.3M118.2 448V449.3M100.41 448V449.3M122.01 448V449.3M103.1 448V449.3M124.7 448V449.3M105.2 448V449.3M106.91 448V449.3M108.35 448V449.3M109.61 448V449.3M110.71 448V449.3M61.4 448V449.3M64.4 448V449.3M66.4 448V449.3M68.4 448V449.3M70.4 448V449.3M72.4 448V449.3M76.4 448V449.3M78.4 448V449.3M80.4 448V449.3M82.4 448V449.3M84.4 448V449.3M86.4 448V449.3M88.4 448V449.3" stroke="#111" stroke-width="0.9" fill="none"/>
<rect x="55.4" y="378.5" width="70" height="69.5" fill="none" stroke="#111" stroke-width="1.15"/>
<text x="51.1" y="383.4" font-size="6" text-anchor="end" fill="#111" class="t">10<tspan font-size="3.6" dy="-2.3">7</tspan></text>
<text x="51.1" y="396.8" font-size="6" text-anchor="end" fill="#111" class="t">10<tspan font-size="3.6" dy="-2.3">6</tspan></text>
<text x="51.1" y="410.2" font-size="6" text-anchor="end" fill="#111" class="t">10<tspan font-size="3.6" dy="-2.3">5</tspan></text>
<text x="51.1" y="423.6" font-size="6" text-anchor="end" fill="#111" class="t">10<tspan font-size="3.6" dy="-2.3">4</tspan></text>
<text x="51.1" y="437" font-size="6" text-anchor="end" fill="#111" class="t">10<tspan font-size="3.6" dy="-2.3">3</tspan></text>
<text x="51.1" y="450.4" font-size="6" text-anchor="end" fill="#111" class="t">10<tspan font-size="3.6" dy="-2.3">2</tspan></text>
<text x="58" y="457" font-size="6" text-anchor="middle" fill="#111" class="t">&#8722;10<tspan font-size="3.6" dy="-2.3">4</tspan></text>
<text x="74.4" y="457" font-size="6" text-anchor="middle" fill="#111" class="t">0</text>
<text x="90.7" y="457" font-size="6" text-anchor="middle" fill="#111" class="t">10<tspan font-size="3.6" dy="-2.3">4</tspan></text>
<text x="112.3" y="457" font-size="6" text-anchor="middle" fill="#111" class="t">10<tspan font-size="3.6" dy="-2.3">5</tspan></text>
<g class="q" font-size="4.9" fill="#8a8a8a"><text x="58" y="384.8">Q1</text><text x="58" y="390.8">0.23</text><text x="122.8" y="384.8" text-anchor="end">Q2</text><text x="122.8" y="390.8" text-anchor="end">0.16</text><text x="58" y="438.7">Q4</text><text x="58" y="445.5">98.6</text><text x="122.8" y="438.7" text-anchor="end">Q3</text><text x="122.8" y="445.5" text-anchor="end">1.03</text></g>
<use href="#B11" transform="translate(147.6,378)"/>
<path d="M182 378V448.2M147.6 418.2H217.4" stroke="#6e6e6e" stroke-width="1" fill="none"/>
<path d="M145.7 380.8H147.6M146.3 390.17H147.6M146.3 387.81H147.6M146.3 386.13H147.6M146.3 384.83H147.6M146.3 383.77H147.6M146.3 382.88H147.6M146.3 382.1H147.6M146.3 381.41H147.6M145.7 394.2H147.6M146.3 403.57H147.6M146.3 401.21H147.6M146.3 399.53H147.6M146.3 398.23H147.6M146.3 397.17H147.6M146.3 396.28H147.6M146.3 395.5H147.6M146.3 394.81H147.6M145.7 407.6H147.6M146.3 416.97H147.6M146.3 414.61H147.6M146.3 412.93H147.6M146.3 411.63H147.6M146.3 410.57H147.6M146.3 409.68H147.6M146.3 408.9H147.6M146.3 408.21H147.6M145.7 421H147.6M146.3 430.37H147.6M146.3 428.01H147.6M146.3 426.33H147.6M146.3 425.03H147.6M146.3 423.97H147.6M146.3 423.08H147.6M146.3 422.3H147.6M146.3 421.61H147.6M145.7 434.4H147.6M146.3 443.77H147.6M146.3 441.41H147.6M146.3 439.73H147.6M146.3 438.43H147.6M146.3 437.37H147.6M146.3 436.48H147.6M146.3 435.7H147.6M146.3 435.01H147.6M145.7 447.8H147.6M150.6 448.2V450.1M166.6 448.2V450.1M182.3 448.2V450.1M203.9 448.2V450.1M188.8 448.2V449.5M210.4 448.2V449.5M192.61 448.2V449.5M214.21 448.2V449.5M195.3 448.2V449.5M216.9 448.2V449.5M197.4 448.2V449.5M199.11 448.2V449.5M200.55 448.2V449.5M201.81 448.2V449.5M202.91 448.2V449.5M153.6 448.2V449.5M156.6 448.2V449.5M158.6 448.2V449.5M160.6 448.2V449.5M162.6 448.2V449.5M164.6 448.2V449.5M168.6 448.2V449.5M170.6 448.2V449.5M172.6 448.2V449.5M174.6 448.2V449.5M176.6 448.2V449.5M178.6 448.2V449.5M180.6 448.2V449.5" stroke="#111" stroke-width="0.9" fill="none"/>
<rect x="147.6" y="378" width="69.8" height="70.2" fill="none" stroke="#111" stroke-width="1.15"/>
<text x="143.3" y="382.9" font-size="6" text-anchor="end" fill="#111" class="t">10<tspan font-size="3.6" dy="-2.3">7</tspan></text>
<text x="143.3" y="396.3" font-size="6" text-anchor="end" fill="#111" class="t">10<tspan font-size="3.6" dy="-2.3">6</tspan></text>
<text x="143.3" y="409.7" font-size="6" text-anchor="end" fill="#111" class="t">10<tspan font-size="3.6" dy="-2.3">5</tspan></text>
<text x="143.3" y="423.1" font-size="6" text-anchor="end" fill="#111" class="t">10<tspan font-size="3.6" dy="-2.3">4</tspan></text>
<text x="143.3" y="436.5" font-size="6" text-anchor="end" fill="#111" class="t">10<tspan font-size="3.6" dy="-2.3">3</tspan></text>
<text x="143.3" y="449.9" font-size="6" text-anchor="end" fill="#111" class="t">10<tspan font-size="3.6" dy="-2.3">2</tspan></text>
<text x="150.2" y="457.2" font-size="6" text-anchor="middle" fill="#111" class="t">&#8722;10<tspan font-size="3.6" dy="-2.3">4</tspan></text>
<text x="166.6" y="457.2" font-size="6" text-anchor="middle" fill="#111" class="t">0</text>
<text x="182.9" y="457.2" font-size="6" text-anchor="middle" fill="#111" class="t">10<tspan font-size="3.6" dy="-2.3">4</tspan></text>
<text x="204.5" y="457.2" font-size="6" text-anchor="middle" fill="#111" class="t">10<tspan font-size="3.6" dy="-2.3">5</tspan></text>
<g class="q" font-size="4.9" fill="#8a8a8a"><text x="150.2" y="384.3">Q1</text><text x="150.2" y="390.3">0.23</text><text x="214.8" y="384.3" text-anchor="end">Q2</text><text x="214.8" y="390.3" text-anchor="end">0.16</text><text x="150.2" y="438.9">Q4</text><text x="150.2" y="445.7">98.6</text><text x="214.8" y="438.9" text-anchor="end">Q3</text><text x="214.8" y="445.7" text-anchor="end">1.03</text></g>
<use href="#B13" transform="translate(245,377.4)"/>
<path d="M279.4 377.4V447M245 417.6H315.5" stroke="#6e6e6e" stroke-width="1" fill="none"/>
<path d="M243.1 380.2H245M243.7 389.57H245M243.7 387.21H245M243.7 385.53H245M243.7 384.23H245M243.7 383.17H245M243.7 382.28H245M243.7 381.5H245M243.7 380.81H245M243.1 393.6H245M243.7 402.97H245M243.7 400.61H245M243.7 398.93H245M243.7 397.63H245M243.7 396.57H245M243.7 395.68H245M243.7 394.9H245M243.7 394.21H245M243.1 407H245M243.7 416.37H245M243.7 414.01H245M243.7 412.33H245M243.7 411.03H245M243.7 409.97H245M243.7 409.08H245M243.7 408.3H245M243.7 407.61H245M243.1 420.4H245M243.7 429.77H245M243.7 427.41H245M243.7 425.73H245M243.7 424.43H245M243.7 423.37H245M243.7 422.48H245M243.7 421.7H245M243.7 421.01H245M243.1 433.8H245M243.7 443.17H245M243.7 440.81H245M243.7 439.13H245M243.7 437.83H245M243.7 436.77H245M243.7 435.88H245M243.7 435.1H245M243.7 434.41H245M243.1 447.2H245M248 447V448.9M264 447V448.9M279.7 447V448.9M301.3 447V448.9M286.2 447V448.3M307.8 447V448.3M290.01 447V448.3M311.61 447V448.3M292.7 447V448.3M314.3 447V448.3M294.8 447V448.3M296.51 447V448.3M297.95 447V448.3M299.21 447V448.3M300.31 447V448.3M251 447V448.3M254 447V448.3M256 447V448.3M258 447V448.3M260 447V448.3M262 447V448.3M266 447V448.3M268 447V448.3M270 447V448.3M272 447V448.3M274 447V448.3M276 447V448.3M278 447V448.3" stroke="#111" stroke-width="0.9" fill="none"/>
<rect x="245" y="377.4" width="70.5" height="69.6" fill="none" stroke="#111" stroke-width="1.15"/>
<text x="240.7" y="382.3" font-size="6" text-anchor="end" fill="#111" class="t">10<tspan font-size="3.6" dy="-2.3">7</tspan></text>
<text x="240.7" y="395.7" font-size="6" text-anchor="end" fill="#111" class="t">10<tspan font-size="3.6" dy="-2.3">6</tspan></text>
<text x="240.7" y="409.1" font-size="6" text-anchor="end" fill="#111" class="t">10<tspan font-size="3.6" dy="-2.3">5</tspan></text>
<text x="240.7" y="422.5" font-size="6" text-anchor="end" fill="#111" class="t">10<tspan font-size="3.6" dy="-2.3">4</tspan></text>
<text x="240.7" y="435.9" font-size="6" text-anchor="end" fill="#111" class="t">10<tspan font-size="3.6" dy="-2.3">3</tspan></text>
<text x="240.7" y="449.3" font-size="6" text-anchor="end" fill="#111" class="t">10<tspan font-size="3.6" dy="-2.3">2</tspan></text>
<text x="247.6" y="456" font-size="6" text-anchor="middle" fill="#111" class="t">&#8722;10<tspan font-size="3.6" dy="-2.3">4</tspan></text>
<text x="264" y="456" font-size="6" text-anchor="middle" fill="#111" class="t">0</text>
<text x="280.3" y="456" font-size="6" text-anchor="middle" fill="#111" class="t">10<tspan font-size="3.6" dy="-2.3">4</tspan></text>
<text x="301.9" y="456" font-size="6" text-anchor="middle" fill="#111" class="t">10<tspan font-size="3.6" dy="-2.3">5</tspan></text>
<g class="q" font-size="4.9" fill="#8a8a8a"><text x="247.6" y="383.7">Q1</text><text x="247.6" y="389.7">0.26</text><text x="312.9" y="383.7" text-anchor="end">Q2</text><text x="312.9" y="389.7" text-anchor="end">0.054</text><text x="247.6" y="437.7">Q4</text><text x="247.6" y="444.5">99.6</text><text x="312.9" y="437.7" text-anchor="end">Q3</text><text x="312.9" y="444.5" text-anchor="end">0.12</text></g>
<use href="#B13" transform="translate(339.6,376.8)"/>
<path d="M374 376.8V446.4M339.6 417H410" stroke="#6e6e6e" stroke-width="1" fill="none"/>
<path d="M337.7 379.6H339.6M338.3 388.97H339.6M338.3 386.61H339.6M338.3 384.93H339.6M338.3 383.63H339.6M338.3 382.57H339.6M338.3 381.68H339.6M338.3 380.9H339.6M338.3 380.21H339.6M337.7 393H339.6M338.3 402.37H339.6M338.3 400.01H339.6M338.3 398.33H339.6M338.3 397.03H339.6M338.3 395.97H339.6M338.3 395.08H339.6M338.3 394.3H339.6M338.3 393.61H339.6M337.7 406.4H339.6M338.3 415.77H339.6M338.3 413.41H339.6M338.3 411.73H339.6M338.3 410.43H339.6M338.3 409.37H339.6M338.3 408.48H339.6M338.3 407.7H339.6M338.3 407.01H339.6M337.7 419.8H339.6M338.3 429.17H339.6M338.3 426.81H339.6M338.3 425.13H339.6M338.3 423.83H339.6M338.3 422.77H339.6M338.3 421.88H339.6M338.3 421.1H339.6M338.3 420.41H339.6M337.7 433.2H339.6M338.3 442.57H339.6M338.3 440.21H339.6M338.3 438.53H339.6M338.3 437.23H339.6M338.3 436.17H339.6M338.3 435.28H339.6M338.3 434.5H339.6M338.3 433.81H339.6M337.7 446.6H339.6M342.6 446.4V448.3M358.6 446.4V448.3M374.3 446.4V448.3M395.9 446.4V448.3M380.8 446.4V447.7M402.4 446.4V447.7M384.61 446.4V447.7M406.21 446.4V447.7M387.3 446.4V447.7M408.9 446.4V447.7M389.4 446.4V447.7M391.11 446.4V447.7M392.55 446.4V447.7M393.81 446.4V447.7M394.91 446.4V447.7M345.6 446.4V447.7M348.6 446.4V447.7M350.6 446.4V447.7M352.6 446.4V447.7M354.6 446.4V447.7M356.6 446.4V447.7M360.6 446.4V447.7M362.6 446.4V447.7M364.6 446.4V447.7M366.6 446.4V447.7M368.6 446.4V447.7M370.6 446.4V447.7M372.6 446.4V447.7" stroke="#111" stroke-width="0.9" fill="none"/>
<rect x="339.6" y="376.8" width="70.4" height="69.6" fill="none" stroke="#111" stroke-width="1.15"/>
<text x="335.3" y="381.7" font-size="6" text-anchor="end" fill="#111" class="t">10<tspan font-size="3.6" dy="-2.3">7</tspan></text>
<text x="335.3" y="395.1" font-size="6" text-anchor="end" fill="#111" class="t">10<tspan font-size="3.6" dy="-2.3">6</tspan></text>
<text x="335.3" y="408.5" font-size="6" text-anchor="end" fill="#111" class="t">10<tspan font-size="3.6" dy="-2.3">5</tspan></text>
<text x="335.3" y="421.9" font-size="6" text-anchor="end" fill="#111" class="t">10<tspan font-size="3.6" dy="-2.3">4</tspan></text>
<text x="335.3" y="435.3" font-size="6" text-anchor="end" fill="#111" class="t">10<tspan font-size="3.6" dy="-2.3">3</tspan></text>
<text x="335.3" y="448.7" font-size="6" text-anchor="end" fill="#111" class="t">10<tspan font-size="3.6" dy="-2.3">2</tspan></text>
<text x="342.2" y="455.4" font-size="6" text-anchor="middle" fill="#111" class="t">&#8722;10<tspan font-size="3.6" dy="-2.3">4</tspan></text>
<text x="358.6" y="455.4" font-size="6" text-anchor="middle" fill="#111" class="t">0</text>
<text x="374.9" y="455.4" font-size="6" text-anchor="middle" fill="#111" class="t">10<tspan font-size="3.6" dy="-2.3">4</tspan></text>
<text x="396.5" y="455.4" font-size="6" text-anchor="middle" fill="#111" class="t">10<tspan font-size="3.6" dy="-2.3">5</tspan></text>
<g class="q" font-size="4.9" fill="#8a8a8a"><text x="342.2" y="383.1">Q1</text><text x="342.2" y="389.1">0.26</text><text x="407.4" y="383.1" text-anchor="end">Q2</text><text x="407.4" y="389.1" text-anchor="end">0.054</text><text x="342.2" y="437.1">Q4</text><text x="342.2" y="443.9">99.6</text><text x="407.4" y="437.1" text-anchor="end">Q3</text><text x="407.4" y="443.9" text-anchor="end">0.12</text></g>
<use href="#B21" transform="translate(55.4,463.5)"/>
<path d="M89.8 463.5V533M55.4 503.7H125.4" stroke="#6e6e6e" stroke-width="1" fill="none"/>
<path d="M53.5 466.3H55.4M54.1 475.67H55.4M54.1 473.31H55.4M54.1 471.63H55.4M54.1 470.33H55.4M54.1 469.27H55.4M54.1 468.38H55.4M54.1 467.6H55.4M54.1 466.91H55.4M53.5 479.7H55.4M54.1 489.07H55.4M54.1 486.71H55.4M54.1 485.03H55.4M54.1 483.73H55.4M54.1 482.67H55.4M54.1 481.78H55.4M54.1 481H55.4M54.1 480.31H55.4M53.5 493.1H55.4M54.1 502.47H55.4M54.1 500.11H55.4M54.1 498.43H55.4M54.1 497.13H55.4M54.1 496.07H55.4M54.1 495.18H55.4M54.1 494.4H55.4M54.1 493.71H55.4M53.5 506.5H55.4M54.1 515.87H55.4M54.1 513.51H55.4M54.1 511.83H55.4M54.1 510.53H55.4M54.1 509.47H55.4M54.1 508.58H55.4M54.1 507.8H55.4M54.1 507.11H55.4M53.5 519.9H55.4M54.1 529.27H55.4M54.1 526.91H55.4M54.1 525.23H55.4M54.1 523.93H55.4M54.1 522.87H55.4M54.1 521.98H55.4M54.1 521.2H55.4M54.1 520.51H55.4M53.5 533.3H55.4M58.4 533V534.9M74.4 533V534.9M90.1 533V534.9M111.7 533V534.9M96.6 533V534.3M118.2 533V534.3M100.41 533V534.3M122.01 533V534.3M103.1 533V534.3M124.7 533V534.3M105.2 533V534.3M106.91 533V534.3M108.35 533V534.3M109.61 533V534.3M110.71 533V534.3M61.4 533V534.3M64.4 533V534.3M66.4 533V534.3M68.4 533V534.3M70.4 533V534.3M72.4 533V534.3M76.4 533V534.3M78.4 533V534.3M80.4 533V534.3M82.4 533V534.3M84.4 533V534.3M86.4 533V534.3M88.4 533V534.3" stroke="#111" stroke-width="0.9" fill="none"/>
<rect x="55.4" y="463.5" width="70" height="69.5" fill="none" stroke="#111" stroke-width="1.15"/>
<text x="51.1" y="468.4" font-size="6" text-anchor="end" fill="#111" class="t">10<tspan font-size="3.6" dy="-2.3">7</tspan></text>
<text x="51.1" y="481.8" font-size="6" text-anchor="end" fill="#111" class="t">10<tspan font-size="3.6" dy="-2.3">6</tspan></text>
<text x="51.1" y="495.2" font-size="6" text-anchor="end" fill="#111" class="t">10<tspan font-size="3.6" dy="-2.3">5</tspan></text>
<text x="51.1" y="508.6" font-size="6" text-anchor="end" fill="#111" class="t">10<tspan font-size="3.6" dy="-2.3">4</tspan></text>
<text x="51.1" y="522" font-size="6" text-anchor="end" fill="#111" class="t">10<tspan font-size="3.6" dy="-2.3">3</tspan></text>
<text x="51.1" y="535.4" font-size="6" text-anchor="end" fill="#111" class="t">10<tspan font-size="3.6" dy="-2.3">2</tspan></text>
<text x="58" y="542" font-size="6" text-anchor="middle" fill="#111" class="t">&#8722;10<tspan font-size="3.6" dy="-2.3">4</tspan></text>
<text x="74.4" y="542" font-size="6" text-anchor="middle" fill="#111" class="t">0</text>
<text x="90.7" y="542" font-size="6" text-anchor="middle" fill="#111" class="t">10<tspan font-size="3.6" dy="-2.3">4</tspan></text>
<text x="112.3" y="542" font-size="6" text-anchor="middle" fill="#111" class="t">10<tspan font-size="3.6" dy="-2.3">5</tspan></text>
<g class="q" font-size="4.9" fill="#8a8a8a"><text x="58" y="469.8">Q1</text><text x="58" y="475.8">0.20</text><text x="122.8" y="469.8" text-anchor="end">Q2</text><text x="122.8" y="475.8" text-anchor="end">0.13</text><text x="58" y="523.7">Q4</text><text x="58" y="530.5">99.5</text><text x="122.8" y="523.7" text-anchor="end">Q3</text><text x="122.8" y="530.5" text-anchor="end">0.20</text></g>
<use href="#B21" transform="translate(147.6,462.5)"/>
<path d="M182 462.5V532.6M147.6 502.7H217.4" stroke="#6e6e6e" stroke-width="1" fill="none"/>
<path d="M145.7 465.3H147.6M146.3 474.67H147.6M146.3 472.31H147.6M146.3 470.63H147.6M146.3 469.33H147.6M146.3 468.27H147.6M146.3 467.38H147.6M146.3 466.6H147.6M146.3 465.91H147.6M145.7 478.7H147.6M146.3 488.07H147.6M146.3 485.71H147.6M146.3 484.03H147.6M146.3 482.73H147.6M146.3 481.67H147.6M146.3 480.78H147.6M146.3 480H147.6M146.3 479.31H147.6M145.7 492.1H147.6M146.3 501.47H147.6M146.3 499.11H147.6M146.3 497.43H147.6M146.3 496.13H147.6M146.3 495.07H147.6M146.3 494.18H147.6M146.3 493.4H147.6M146.3 492.71H147.6M145.7 505.5H147.6M146.3 514.87H147.6M146.3 512.51H147.6M146.3 510.83H147.6M146.3 509.53H147.6M146.3 508.47H147.6M146.3 507.58H147.6M146.3 506.8H147.6M146.3 506.11H147.6M145.7 518.9H147.6M146.3 528.27H147.6M146.3 525.91H147.6M146.3 524.23H147.6M146.3 522.93H147.6M146.3 521.87H147.6M146.3 520.98H147.6M146.3 520.2H147.6M146.3 519.51H147.6M145.7 532.3H147.6M150.6 532.6V534.5M166.6 532.6V534.5M182.3 532.6V534.5M203.9 532.6V534.5M188.8 532.6V533.9M210.4 532.6V533.9M192.61 532.6V533.9M214.21 532.6V533.9M195.3 532.6V533.9M216.9 532.6V533.9M197.4 532.6V533.9M199.11 532.6V533.9M200.55 532.6V533.9M201.81 532.6V533.9M202.91 532.6V533.9M153.6 532.6V533.9M156.6 532.6V533.9M158.6 532.6V533.9M160.6 532.6V533.9M162.6 532.6V533.9M164.6 532.6V533.9M168.6 532.6V533.9M170.6 532.6V533.9M172.6 532.6V533.9M174.6 532.6V533.9M176.6 532.6V533.9M178.6 532.6V533.9M180.6 532.6V533.9" stroke="#111" stroke-width="0.9" fill="none"/>
<rect x="147.6" y="462.5" width="69.8" height="70.1" fill="none" stroke="#111" stroke-width="1.15"/>
<text x="143.3" y="467.4" font-size="6" text-anchor="end" fill="#111" class="t">10<tspan font-size="3.6" dy="-2.3">7</tspan></text>
<text x="143.3" y="480.8" font-size="6" text-anchor="end" fill="#111" class="t">10<tspan font-size="3.6" dy="-2.3">6</tspan></text>
<text x="143.3" y="494.2" font-size="6" text-anchor="end" fill="#111" class="t">10<tspan font-size="3.6" dy="-2.3">5</tspan></text>
<text x="143.3" y="507.6" font-size="6" text-anchor="end" fill="#111" class="t">10<tspan font-size="3.6" dy="-2.3">4</tspan></text>
<text x="143.3" y="521" font-size="6" text-anchor="end" fill="#111" class="t">10<tspan font-size="3.6" dy="-2.3">3</tspan></text>
<text x="143.3" y="534.4" font-size="6" text-anchor="end" fill="#111" class="t">10<tspan font-size="3.6" dy="-2.3">2</tspan></text>
<text x="150.2" y="541.6" font-size="6" text-anchor="middle" fill="#111" class="t">&#8722;10<tspan font-size="3.6" dy="-2.3">4</tspan></text>
<text x="166.6" y="541.6" font-size="6" text-anchor="middle" fill="#111" class="t">0</text>
<text x="182.9" y="541.6" font-size="6" text-anchor="middle" fill="#111" class="t">10<tspan font-size="3.6" dy="-2.3">4</tspan></text>
<text x="204.5" y="541.6" font-size="6" text-anchor="middle" fill="#111" class="t">10<tspan font-size="3.6" dy="-2.3">5</tspan></text>
<g class="q" font-size="4.9" fill="#8a8a8a"><text x="150.2" y="468.8">Q1</text><text x="150.2" y="474.8">0.20</text><text x="214.8" y="468.8" text-anchor="end">Q2</text><text x="214.8" y="474.8" text-anchor="end">0.13</text><text x="150.2" y="523.3">Q4</text><text x="150.2" y="530.1">99.5</text><text x="214.8" y="523.3" text-anchor="end">Q3</text><text x="214.8" y="530.1" text-anchor="end">0.20</text></g>
<use href="#B23" transform="translate(245,461.9)"/>
<path d="M279.4 461.9V531.6M245 502.1H315.5" stroke="#6e6e6e" stroke-width="1" fill="none"/>
<path d="M243.1 464.7H245M243.7 474.07H245M243.7 471.71H245M243.7 470.03H245M243.7 468.73H245M243.7 467.67H245M243.7 466.78H245M243.7 466H245M243.7 465.31H245M243.1 478.1H245M243.7 487.47H245M243.7 485.11H245M243.7 483.43H245M243.7 482.13H245M243.7 481.07H245M243.7 480.18H245M243.7 479.4H245M243.7 478.71H245M243.1 491.5H245M243.7 500.87H245M243.7 498.51H245M243.7 496.83H245M243.7 495.53H245M243.7 494.47H245M243.7 493.58H245M243.7 492.8H245M243.7 492.11H245M243.1 504.9H245M243.7 514.27H245M243.7 511.91H245M243.7 510.23H245M243.7 508.93H245M243.7 507.87H245M243.7 506.98H245M243.7 506.2H245M243.7 505.51H245M243.1 518.3H245M243.7 527.67H245M243.7 525.31H245M243.7 523.63H245M243.7 522.33H245M243.7 521.27H245M243.7 520.38H245M243.7 519.6H245M243.7 518.91H245M243.1 531.7H245M248 531.6V533.5M264 531.6V533.5M279.7 531.6V533.5M301.3 531.6V533.5M286.2 531.6V532.9M307.8 531.6V532.9M290.01 531.6V532.9M311.61 531.6V532.9M292.7 531.6V532.9M314.3 531.6V532.9M294.8 531.6V532.9M296.51 531.6V532.9M297.95 531.6V532.9M299.21 531.6V532.9M300.31 531.6V532.9M251 531.6V532.9M254 531.6V532.9M256 531.6V532.9M258 531.6V532.9M260 531.6V532.9M262 531.6V532.9M266 531.6V532.9M268 531.6V532.9M270 531.6V532.9M272 531.6V532.9M274 531.6V532.9M276 531.6V532.9M278 531.6V532.9" stroke="#111" stroke-width="0.9" fill="none"/>
<rect x="245" y="461.9" width="70.5" height="69.7" fill="none" stroke="#111" stroke-width="1.15"/>
<text x="240.7" y="466.8" font-size="6" text-anchor="end" fill="#111" class="t">10<tspan font-size="3.6" dy="-2.3">7</tspan></text>
<text x="240.7" y="480.2" font-size="6" text-anchor="end" fill="#111" class="t">10<tspan font-size="3.6" dy="-2.3">6</tspan></text>
<text x="240.7" y="493.6" font-size="6" text-anchor="end" fill="#111" class="t">10<tspan font-size="3.6" dy="-2.3">5</tspan></text>
<text x="240.7" y="507" font-size="6" text-anchor="end" fill="#111" class="t">10<tspan font-size="3.6" dy="-2.3">4</tspan></text>
<text x="240.7" y="520.4" font-size="6" text-anchor="end" fill="#111" class="t">10<tspan font-size="3.6" dy="-2.3">3</tspan></text>
<text x="240.7" y="533.8" font-size="6" text-anchor="end" fill="#111" class="t">10<tspan font-size="3.6" dy="-2.3">2</tspan></text>
<text x="247.6" y="540.6" font-size="6" text-anchor="middle" fill="#111" class="t">&#8722;10<tspan font-size="3.6" dy="-2.3">4</tspan></text>
<text x="264" y="540.6" font-size="6" text-anchor="middle" fill="#111" class="t">0</text>
<text x="280.3" y="540.6" font-size="6" text-anchor="middle" fill="#111" class="t">10<tspan font-size="3.6" dy="-2.3">4</tspan></text>
<text x="301.9" y="540.6" font-size="6" text-anchor="middle" fill="#111" class="t">10<tspan font-size="3.6" dy="-2.3">5</tspan></text>
<g class="q" font-size="4.9" fill="#8a8a8a"><text x="247.6" y="468.2">Q1</text><text x="247.6" y="474.2">0.37</text><text x="312.9" y="468.2" text-anchor="end">Q2</text><text x="312.9" y="474.2" text-anchor="end">0.57</text><text x="247.6" y="522.3">Q4</text><text x="247.6" y="529.1">98.6</text><text x="312.9" y="522.3" text-anchor="end">Q3</text><text x="312.9" y="529.1" text-anchor="end">0.46</text></g>
<use href="#B24" transform="translate(339.6,461.3)"/>
<path d="M374 461.3V531.5M339.6 501.5H410" stroke="#6e6e6e" stroke-width="1" fill="none"/>
<path d="M337.7 464.1H339.6M338.3 473.47H339.6M338.3 471.11H339.6M338.3 469.43H339.6M338.3 468.13H339.6M338.3 467.07H339.6M338.3 466.18H339.6M338.3 465.4H339.6M338.3 464.71H339.6M337.7 477.5H339.6M338.3 486.87H339.6M338.3 484.51H339.6M338.3 482.83H339.6M338.3 481.53H339.6M338.3 480.47H339.6M338.3 479.58H339.6M338.3 478.8H339.6M338.3 478.11H339.6M337.7 490.9H339.6M338.3 500.27H339.6M338.3 497.91H339.6M338.3 496.23H339.6M338.3 494.93H339.6M338.3 493.87H339.6M338.3 492.98H339.6M338.3 492.2H339.6M338.3 491.51H339.6M337.7 504.3H339.6M338.3 513.67H339.6M338.3 511.31H339.6M338.3 509.63H339.6M338.3 508.33H339.6M338.3 507.27H339.6M338.3 506.38H339.6M338.3 505.6H339.6M338.3 504.91H339.6M337.7 517.7H339.6M338.3 527.07H339.6M338.3 524.71H339.6M338.3 523.03H339.6M338.3 521.73H339.6M338.3 520.67H339.6M338.3 519.78H339.6M338.3 519H339.6M338.3 518.31H339.6M337.7 531.1H339.6M342.6 531.5V533.4M358.6 531.5V533.4M374.3 531.5V533.4M395.9 531.5V533.4M380.8 531.5V532.8M402.4 531.5V532.8M384.61 531.5V532.8M406.21 531.5V532.8M387.3 531.5V532.8M408.9 531.5V532.8M389.4 531.5V532.8M391.11 531.5V532.8M392.55 531.5V532.8M393.81 531.5V532.8M394.91 531.5V532.8M345.6 531.5V532.8M348.6 531.5V532.8M350.6 531.5V532.8M352.6 531.5V532.8M354.6 531.5V532.8M356.6 531.5V532.8M360.6 531.5V532.8M362.6 531.5V532.8M364.6 531.5V532.8M366.6 531.5V532.8M368.6 531.5V532.8M370.6 531.5V532.8M372.6 531.5V532.8" stroke="#111" stroke-width="0.9" fill="none"/>
<rect x="339.6" y="461.3" width="70.4" height="70.2" fill="none" stroke="#111" stroke-width="1.15"/>
<text x="335.3" y="466.2" font-size="6" text-anchor="end" fill="#111" class="t">10<tspan font-size="3.6" dy="-2.3">7</tspan></text>
<text x="335.3" y="479.6" font-size="6" text-anchor="end" fill="#111" class="t">10<tspan font-size="3.6" dy="-2.3">6</tspan></text>
<text x="335.3" y="493" font-size="6" text-anchor="end" fill="#111" class="t">10<tspan font-size="3.6" dy="-2.3">5</tspan></text>
<text x="335.3" y="506.4" font-size="6" text-anchor="end" fill="#111" class="t">10<tspan font-size="3.6" dy="-2.3">4</tspan></text>
<text x="335.3" y="519.8" font-size="6" text-anchor="end" fill="#111" class="t">10<tspan font-size="3.6" dy="-2.3">3</tspan></text>
<text x="335.3" y="533.2" font-size="6" text-anchor="end" fill="#111" class="t">10<tspan font-size="3.6" dy="-2.3">2</tspan></text>
<text x="342.2" y="540.5" font-size="6" text-anchor="middle" fill="#111" class="t">&#8722;10<tspan font-size="3.6" dy="-2.3">4</tspan></text>
<text x="358.6" y="540.5" font-size="6" text-anchor="middle" fill="#111" class="t">0</text>
<text x="374.9" y="540.5" font-size="6" text-anchor="middle" fill="#111" class="t">10<tspan font-size="3.6" dy="-2.3">4</tspan></text>
<text x="396.5" y="540.5" font-size="6" text-anchor="middle" fill="#111" class="t">10<tspan font-size="3.6" dy="-2.3">5</tspan></text>
<g class="q" font-size="4.9" fill="#8a8a8a"><text x="342.2" y="467.6">Q1</text><text x="342.2" y="473.6">0.26</text><text x="407.4" y="467.6" text-anchor="end">Q2</text><text x="407.4" y="473.6" text-anchor="end">0.16</text><text x="342.2" y="522.2">Q4</text><text x="342.2" y="529">99.1</text><text x="407.4" y="522.2" text-anchor="end">Q3</text><text x="407.4" y="529" text-anchor="end">0.49</text></g>
<text x="90.5" y="180.4" font-size="7.6" text-anchor="middle" fill="#111">Actin</text>
<text x="182.0" y="180.4" font-size="7.6" text-anchor="middle" fill="#111">Prame</text>
<text x="276.6" y="180.4" font-size="7.6" text-anchor="middle" fill="#111">WT1</text>
<text x="373.7" y="180.4" font-size="7.6" text-anchor="middle" fill="#111">Survivin</text>
<text x="90.5" y="375.5" font-size="6.9" font-weight="bold" text-anchor="middle" fill="#111">Actin</text>
<text x="182.5" y="375.3" font-size="6.9" font-weight="bold" text-anchor="middle" fill="#111">Prame</text>
<text x="279.5" y="374.8" font-size="6.9" font-weight="bold" text-anchor="middle" fill="#111">WT1</text>
<text x="374.8" y="374.2" font-size="6.9" font-weight="bold" text-anchor="middle" fill="#111">Survivin</text>
<text transform="translate(37.4,218.5) rotate(-90)" font-size="7.2" font-weight="bold" text-anchor="middle" fill="#111">Week 2</text>
<text transform="translate(37.4,305.0) rotate(-90)" font-size="7.2" font-weight="bold" text-anchor="middle" fill="#111">Month 3</text>
<text transform="translate(39.0,414.0) rotate(-90) scale(0.7,1)" font-size="9" text-anchor="middle" fill="#111">Week 2</text>
<text transform="translate(38.8,500.4) rotate(-90) scale(0.7,1)" font-size="9" text-anchor="middle" fill="#111">Month 3</text>
<text x="15.3" y="175.2" font-size="11.2" font-weight="bold" fill="#111" style="stroke-width:0.45px">D</text>
<line x1="24.7" y1="188.0" x2="24.7" y2="331.6" stroke="#3a3a3a" stroke-width="1.3"/>
<path d="M24.7 180.0L27.8 190.3L21.599999999999998 190.3Z" fill="#111"/>
<path d="M24.7 339.6L27.8 329.3L21.599999999999998 329.3Z" fill="#111"/>
<line x1="422.9" y1="190.9" x2="422.9" y2="335.5" stroke="#3a3a3a" stroke-width="1.3"/>
<path d="M422.9 182.9L426.0 193.20000000000002L419.79999999999995 193.20000000000002Z" fill="#111"/>
<path d="M422.9 343.5L426.0 333.2L419.79999999999995 333.2Z" fill="#111"/>
<line x1="42.5" y1="353.0" x2="379.6" y2="353.0" stroke="#3a3a3a" stroke-width="1.4"/>
<path d="M34.5 353.0L45.0 350.4L45.0 355.6Z" fill="#111"/>
<line x1="19.6" y1="383.4" x2="19.6" y2="528.4" stroke="#3a3a3a" stroke-width="1.3"/>
<path d="M19.6 375.4L22.700000000000003 385.7L16.5 385.7Z" fill="#111"/>
<path d="M19.6 536.4L22.700000000000003 526.1L16.5 526.1Z" fill="#111"/>
<line x1="423.0" y1="383.0" x2="423.0" y2="528.8" stroke="#3a3a3a" stroke-width="1.3"/>
<path d="M423.0 375.0L426.1 385.3L419.9 385.3Z" fill="#111"/>
<path d="M423.0 536.8L426.1 526.5L419.9 526.5Z" fill="#111"/>
<line x1="55.5" y1="548.4" x2="401.6" y2="548.4" stroke="#3a3a3a" stroke-width="1.4"/>
<path d="M409.6 548.4L399.1 545.8L399.1 551.0Z" fill="#111"/>
<text transform="translate(19.2,259.9) rotate(-90) scale(0.66,1)" font-size="9.2" style="stroke-width:0.4px" text-anchor="middle" fill="#1a1a1a">IFN&#947;</text>
<text transform="translate(433.2,264.4) rotate(-90)" font-size="8" font-weight="bold" text-anchor="middle" fill="#111">CD3+CD4+</text>
<text transform="translate(30.0,457.5) rotate(-90)" font-size="8" font-weight="bold" text-anchor="middle" fill="#111">CD3+CD4+</text>
<text transform="translate(433.0,456.7) rotate(-90)" font-size="8" font-weight="bold" text-anchor="middle" fill="#111">CD3+CD8+</text>
<text x="386.2" y="355.4" font-size="7.4" fill="#111"><tspan font-weight="bold">TNF</tspan><tspan font-family="Liberation Serif" font-size="8.4">&#945;</tspan></text>
<text x="33.7" y="550.2" font-size="7.4" fill="#111"><tspan font-weight="bold">TNF</tspan><tspan font-family="Liberation Serif" font-size="8.4">&#945;</tspan></text>
<rect x="0" y="0" width="520" height="558" fill="none" stroke="#161213" stroke-width="2.6"/>
</svg>
</body></html>
